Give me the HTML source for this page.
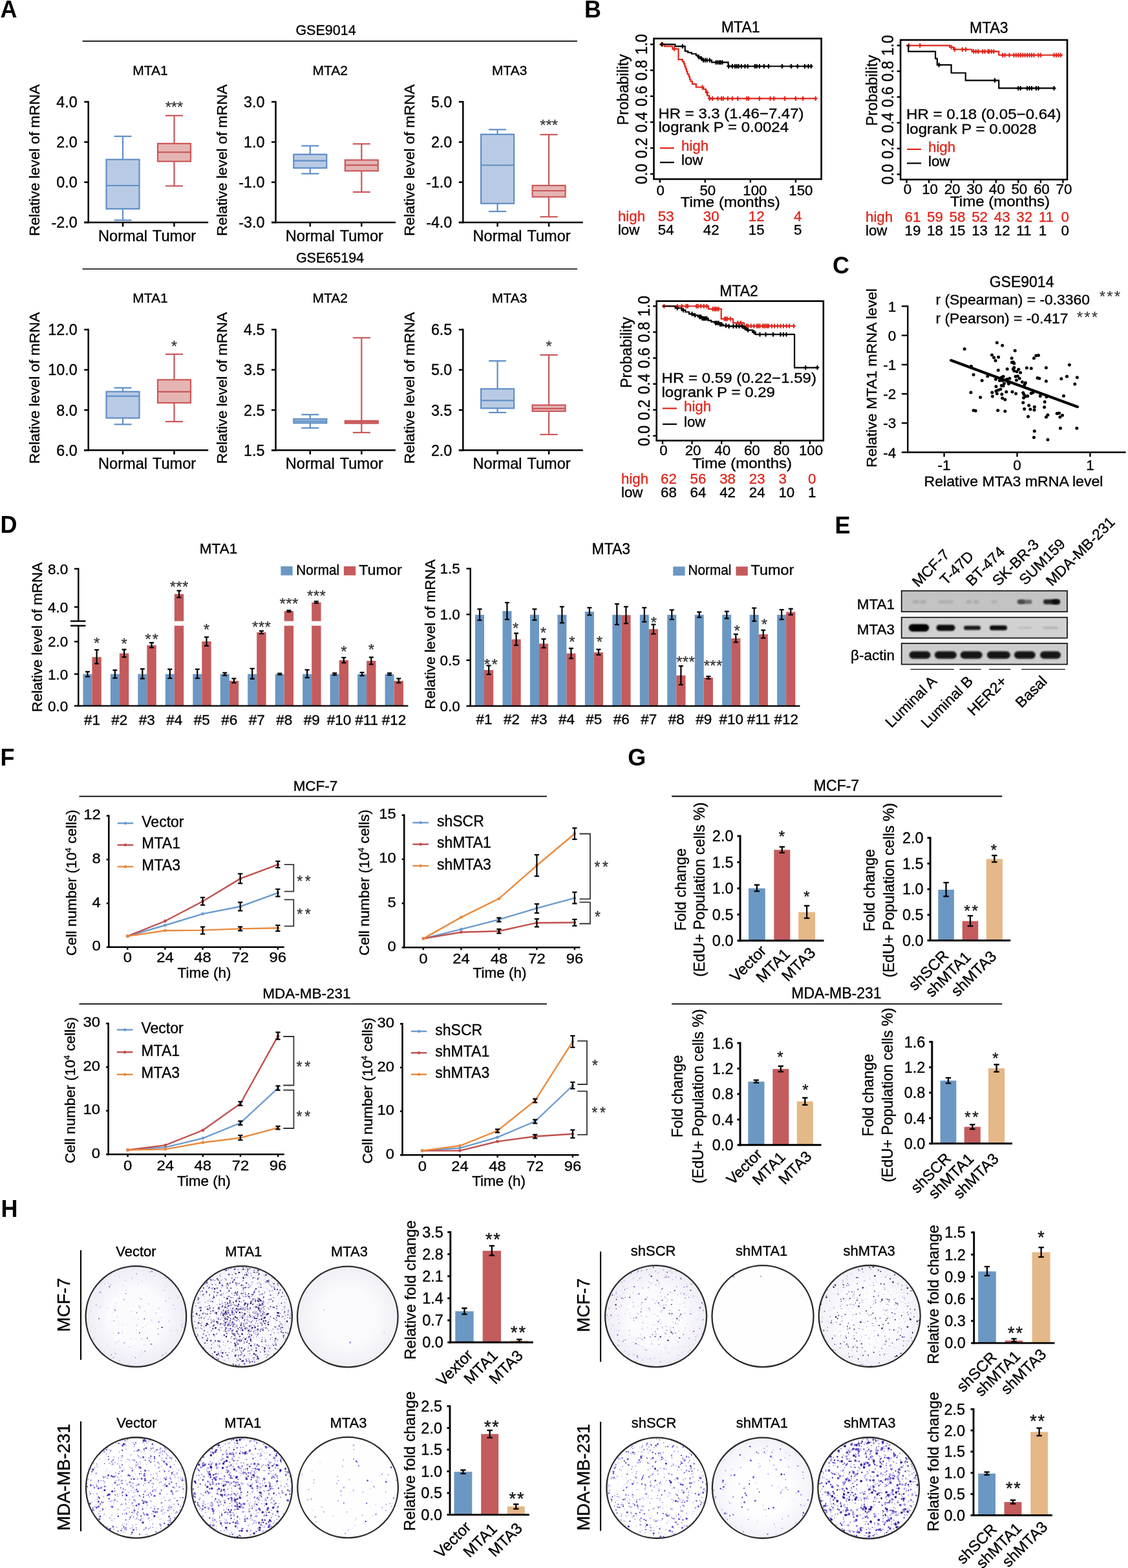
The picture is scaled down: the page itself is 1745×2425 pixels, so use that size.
<!DOCTYPE html>
<html><head><meta charset="utf-8"><title>Figure</title>
<style>html,body{margin:0;padding:0;background:#fff;overflow:hidden;}svg{display:block;}svg{font-family:"Liberation Sans",Arial,Helvetica,sans-serif;font-size:22.5px;}</style>
</head><body>
<svg width="1745" height="2425" viewBox="0 0 1745 2425">
<rect x="0" y="0" width="1745" height="2425" fill="#fff"/>
<defs><filter id="bl" x="-50%" y="-80%" width="200%" height="260%"><feGaussianBlur stdDeviation="2.2"/></filter><filter id="bl2" x="-50%" y="-80%" width="200%" height="260%"><feGaussianBlur stdDeviation="1.1"/></filter><clipPath id="cp1"><circle cx="210.4" cy="2036" r="76.6"/></clipPath><radialGradient id="rg1"><stop offset="0.55" stop-color="#fbfafd"/><stop offset="1" stop-color="#eeebf5"/></radialGradient><clipPath id="cp2"><circle cx="374.1" cy="2036" r="76.6"/></clipPath><radialGradient id="rg2"><stop offset="0.55" stop-color="#fdfdff"/><stop offset="1" stop-color="#f4f2fa"/></radialGradient><clipPath id="cp3"><circle cx="537.8" cy="2036.5" r="76.6"/></clipPath><radialGradient id="rg3"><stop offset="0.55" stop-color="#fafafc"/><stop offset="1" stop-color="#f0eff6"/></radialGradient><clipPath id="cp4"><circle cx="1014.6" cy="2035.7" r="77.3"/></clipPath><radialGradient id="rg4"><stop offset="0.55" stop-color="#fbfafd"/><stop offset="1" stop-color="#efecf6"/></radialGradient><clipPath id="cp5"><circle cx="1180" cy="2035.7" r="77.3"/></clipPath><clipPath id="cp6"><circle cx="1345.2" cy="2035.5" r="77.3"/></clipPath><radialGradient id="rg6"><stop offset="0.55" stop-color="#fcfcfe"/><stop offset="1" stop-color="#f2f0f8"/></radialGradient><clipPath id="cp7"><circle cx="210.8" cy="2300.8" r="76.6"/></clipPath><clipPath id="cp8"><circle cx="374.2" cy="2300.8" r="76.6"/></clipPath><clipPath id="cp9"><circle cx="538.1" cy="2300.5" r="76.6"/></clipPath><clipPath id="cp10"><circle cx="1016.2" cy="2301.2" r="76.6"/></clipPath><clipPath id="cp11"><circle cx="1179.7" cy="2301.2" r="76.6"/></clipPath><radialGradient id="rg11"><stop offset="0.55" stop-color="#fefeff"/><stop offset="1" stop-color="#f1f1f9"/></radialGradient><clipPath id="cp12"><circle cx="1343.7" cy="2301.3" r="77.1"/></clipPath></defs>
<text x="0.5" y="27.3" font-size="36" font-weight="bold">A</text>
<text x="504" y="54" font-size="21.5" text-anchor="middle" stroke="#000" stroke-width="0.35">GSE9014</text>
<line x1="127.5" y1="63.7" x2="893" y2="63.7" stroke="#000" stroke-width="1.7"/>
<text x="510.5" y="406.3" font-size="21.5" text-anchor="middle" stroke="#000" stroke-width="0.35">GSE65194</text>
<line x1="127.5" y1="416" x2="893" y2="416" stroke="#000" stroke-width="1.7"/>
<text x="232.4" y="115.7" font-size="21" text-anchor="middle" stroke="#000" stroke-width="0.35">MTA1</text>
<text x="61.2" y="247.75" font-size="22.8" text-anchor="middle" transform="rotate(-90 61.2 247.75)" stroke="#000" stroke-width="0.35">Relative level of mRNA</text>
<line x1="136.7" y1="156.25" x2="136.7" y2="345.25" stroke="#000" stroke-width="2.5"/>
<line x1="130.2" y1="157.5" x2="136.7" y2="157.5" stroke="#000" stroke-width="2.5"/>
<text x="119.7" y="165.9" font-size="23.3" text-anchor="end" stroke="#000" stroke-width="0.35">4.0</text>
<line x1="130.2" y1="219.67" x2="136.7" y2="219.67" stroke="#000" stroke-width="2.5"/>
<text x="119.7" y="228.07" font-size="23.3" text-anchor="end" stroke="#000" stroke-width="0.35">2.0</text>
<line x1="130.2" y1="281.83" x2="136.7" y2="281.83" stroke="#000" stroke-width="2.5"/>
<text x="119.7" y="290.23" font-size="23.3" text-anchor="end" stroke="#000" stroke-width="0.35">0.0</text>
<line x1="130.2" y1="344" x2="136.7" y2="344" stroke="#000" stroke-width="2.5"/>
<text x="119.7" y="352.4" font-size="23.3" text-anchor="end" stroke="#000" stroke-width="0.35">-2.0</text>
<line x1="130.2" y1="344" x2="322.2" y2="344" stroke="#000" stroke-width="2.5"/>
<line x1="190" y1="344" x2="190" y2="350.5" stroke="#000" stroke-width="2.5"/>
<line x1="269.5" y1="344" x2="269.5" y2="350.5" stroke="#000" stroke-width="2.5"/>
<text x="190" y="373" font-size="23.6" text-anchor="middle" stroke="#000" stroke-width="0.35">Normal</text>
<text x="269.5" y="373" font-size="23.6" text-anchor="middle" stroke="#000" stroke-width="0.35">Tumor</text>
<line x1="190" y1="210.8" x2="190" y2="246.7" stroke="#5f8fc6" stroke-width="2.2"/>
<line x1="190" y1="323" x2="190" y2="340.6" stroke="#5f8fc6" stroke-width="2.2"/>
<line x1="176.5" y1="210.8" x2="203.5" y2="210.8" stroke="#5f8fc6" stroke-width="2.2"/>
<line x1="176.5" y1="340.6" x2="203.5" y2="340.6" stroke="#5f8fc6" stroke-width="2.2"/>
<rect x="164.5" y="246.7" width="51" height="76.3" fill="#b9cbe4" stroke="#5f8fc6" stroke-width="2.2"/>
<line x1="164.5" y1="287" x2="215.5" y2="287" stroke="#5f8fc6" stroke-width="2.2"/>
<line x1="269.5" y1="178.8" x2="269.5" y2="222" stroke="#c9585a" stroke-width="2.2"/>
<line x1="269.5" y1="249.6" x2="269.5" y2="287.6" stroke="#c9585a" stroke-width="2.2"/>
<line x1="256" y1="178.8" x2="283" y2="178.8" stroke="#c9585a" stroke-width="2.2"/>
<line x1="256" y1="287.6" x2="283" y2="287.6" stroke="#c9585a" stroke-width="2.2"/>
<rect x="244" y="222" width="51" height="27.6" fill="#e5b5b3" stroke="#c9585a" stroke-width="2.2"/>
<line x1="244" y1="235.3" x2="295" y2="235.3" stroke="#c9585a" stroke-width="2.2"/>
<text x="260.3" y="173.56" font-size="24" text-anchor="middle" fill="#333" stroke="#333" stroke-width="0.2">*</text>
<text x="269.5" y="173.56" font-size="24" text-anchor="middle" fill="#333" stroke="#333" stroke-width="0.2">*</text>
<text x="278.7" y="173.56" font-size="24" text-anchor="middle" fill="#333" stroke="#333" stroke-width="0.2">*</text>
<text x="510.8" y="115.7" font-size="21" text-anchor="middle" stroke="#000" stroke-width="0.35">MTA2</text>
<text x="351" y="247.75" font-size="22.8" text-anchor="middle" transform="rotate(-90 351 247.75)" stroke="#000" stroke-width="0.35">Relative level of mRNA</text>
<line x1="426.5" y1="156.25" x2="426.5" y2="345.25" stroke="#000" stroke-width="2.5"/>
<line x1="420" y1="157.5" x2="426.5" y2="157.5" stroke="#000" stroke-width="2.5"/>
<text x="409.5" y="165.9" font-size="23.3" text-anchor="end" stroke="#000" stroke-width="0.35">3.0</text>
<line x1="420" y1="219.67" x2="426.5" y2="219.67" stroke="#000" stroke-width="2.5"/>
<text x="409.5" y="228.07" font-size="23.3" text-anchor="end" stroke="#000" stroke-width="0.35">1.0</text>
<line x1="420" y1="281.83" x2="426.5" y2="281.83" stroke="#000" stroke-width="2.5"/>
<text x="409.5" y="290.23" font-size="23.3" text-anchor="end" stroke="#000" stroke-width="0.35">-1.0</text>
<line x1="420" y1="344" x2="426.5" y2="344" stroke="#000" stroke-width="2.5"/>
<text x="409.5" y="352.4" font-size="23.3" text-anchor="end" stroke="#000" stroke-width="0.35">-3.0</text>
<line x1="420" y1="344" x2="612" y2="344" stroke="#000" stroke-width="2.5"/>
<line x1="479.8" y1="344" x2="479.8" y2="350.5" stroke="#000" stroke-width="2.5"/>
<line x1="559.3" y1="344" x2="559.3" y2="350.5" stroke="#000" stroke-width="2.5"/>
<text x="479.8" y="373" font-size="23.6" text-anchor="middle" stroke="#000" stroke-width="0.35">Normal</text>
<text x="559.3" y="373" font-size="23.6" text-anchor="middle" stroke="#000" stroke-width="0.35">Tumor</text>
<line x1="479.8" y1="225.5" x2="479.8" y2="238.8" stroke="#5f8fc6" stroke-width="2.2"/>
<line x1="479.8" y1="259.8" x2="479.8" y2="268.6" stroke="#5f8fc6" stroke-width="2.2"/>
<line x1="466.3" y1="225.5" x2="493.3" y2="225.5" stroke="#5f8fc6" stroke-width="2.2"/>
<line x1="466.3" y1="268.6" x2="493.3" y2="268.6" stroke="#5f8fc6" stroke-width="2.2"/>
<rect x="454.3" y="238.8" width="51" height="21" fill="#b9cbe4" stroke="#5f8fc6" stroke-width="2.2"/>
<line x1="454.3" y1="248.6" x2="505.3" y2="248.6" stroke="#5f8fc6" stroke-width="2.2"/>
<line x1="559.3" y1="222.5" x2="559.3" y2="247.5" stroke="#c9585a" stroke-width="2.2"/>
<line x1="559.3" y1="264.3" x2="559.3" y2="297" stroke="#c9585a" stroke-width="2.2"/>
<line x1="545.8" y1="222.5" x2="572.8" y2="222.5" stroke="#c9585a" stroke-width="2.2"/>
<line x1="545.8" y1="297" x2="572.8" y2="297" stroke="#c9585a" stroke-width="2.2"/>
<rect x="533.8" y="247.5" width="51" height="16.8" fill="#e5b5b3" stroke="#c9585a" stroke-width="2.2"/>
<line x1="533.8" y1="255.3" x2="584.8" y2="255.3" stroke="#c9585a" stroke-width="2.2"/>
<text x="788.2" y="115.7" font-size="21" text-anchor="middle" stroke="#000" stroke-width="0.35">MTA3</text>
<text x="640.8" y="247.75" font-size="22.8" text-anchor="middle" transform="rotate(-90 640.8 247.75)" stroke="#000" stroke-width="0.35">Relative level of mRNA</text>
<line x1="716.3" y1="156.25" x2="716.3" y2="345.25" stroke="#000" stroke-width="2.5"/>
<line x1="709.8" y1="157.5" x2="716.3" y2="157.5" stroke="#000" stroke-width="2.5"/>
<text x="699.3" y="165.9" font-size="23.3" text-anchor="end" stroke="#000" stroke-width="0.35">5.0</text>
<line x1="709.8" y1="219.67" x2="716.3" y2="219.67" stroke="#000" stroke-width="2.5"/>
<text x="699.3" y="228.07" font-size="23.3" text-anchor="end" stroke="#000" stroke-width="0.35">2.0</text>
<line x1="709.8" y1="281.83" x2="716.3" y2="281.83" stroke="#000" stroke-width="2.5"/>
<text x="699.3" y="290.23" font-size="23.3" text-anchor="end" stroke="#000" stroke-width="0.35">-1.0</text>
<line x1="709.8" y1="344" x2="716.3" y2="344" stroke="#000" stroke-width="2.5"/>
<text x="699.3" y="352.4" font-size="23.3" text-anchor="end" stroke="#000" stroke-width="0.35">-4.0</text>
<line x1="709.8" y1="344" x2="901.8" y2="344" stroke="#000" stroke-width="2.5"/>
<line x1="769.6" y1="344" x2="769.6" y2="350.5" stroke="#000" stroke-width="2.5"/>
<line x1="849.1" y1="344" x2="849.1" y2="350.5" stroke="#000" stroke-width="2.5"/>
<text x="769.6" y="373" font-size="23.6" text-anchor="middle" stroke="#000" stroke-width="0.35">Normal</text>
<text x="849.1" y="373" font-size="23.6" text-anchor="middle" stroke="#000" stroke-width="0.35">Tumor</text>
<line x1="769.6" y1="200.4" x2="769.6" y2="207.8" stroke="#5f8fc6" stroke-width="2.2"/>
<line x1="769.6" y1="314.7" x2="769.6" y2="327" stroke="#5f8fc6" stroke-width="2.2"/>
<line x1="756.1" y1="200.4" x2="783.1" y2="200.4" stroke="#5f8fc6" stroke-width="2.2"/>
<line x1="756.1" y1="327" x2="783.1" y2="327" stroke="#5f8fc6" stroke-width="2.2"/>
<rect x="744.1" y="207.8" width="51" height="106.9" fill="#b9cbe4" stroke="#5f8fc6" stroke-width="2.2"/>
<line x1="744.1" y1="255.5" x2="795.1" y2="255.5" stroke="#5f8fc6" stroke-width="2.2"/>
<line x1="849.1" y1="208.2" x2="849.1" y2="286.9" stroke="#c9585a" stroke-width="2.2"/>
<line x1="849.1" y1="304.5" x2="849.1" y2="335.3" stroke="#c9585a" stroke-width="2.2"/>
<line x1="835.6" y1="208.2" x2="862.6" y2="208.2" stroke="#c9585a" stroke-width="2.2"/>
<line x1="835.6" y1="335.3" x2="862.6" y2="335.3" stroke="#c9585a" stroke-width="2.2"/>
<rect x="823.6" y="286.9" width="51" height="17.6" fill="#e5b5b3" stroke="#c9585a" stroke-width="2.2"/>
<line x1="823.6" y1="295" x2="874.6" y2="295" stroke="#c9585a" stroke-width="2.2"/>
<text x="839.9" y="201.56" font-size="24" text-anchor="middle" fill="#333" stroke="#333" stroke-width="0.2">*</text>
<text x="849.1" y="201.56" font-size="24" text-anchor="middle" fill="#333" stroke="#333" stroke-width="0.2">*</text>
<text x="858.3" y="201.56" font-size="24" text-anchor="middle" fill="#333" stroke="#333" stroke-width="0.2">*</text>
<text x="232.4" y="468" font-size="21" text-anchor="middle" stroke="#000" stroke-width="0.35">MTA1</text>
<text x="61.2" y="600.05" font-size="22.8" text-anchor="middle" transform="rotate(-90 61.2 600.05)" stroke="#000" stroke-width="0.35">Relative level of mRNA</text>
<line x1="136.7" y1="508.55" x2="136.7" y2="697.55" stroke="#000" stroke-width="2.5"/>
<line x1="130.2" y1="509.8" x2="136.7" y2="509.8" stroke="#000" stroke-width="2.5"/>
<text x="119.7" y="518.2" font-size="23.3" text-anchor="end" stroke="#000" stroke-width="0.35">12.0</text>
<line x1="130.2" y1="571.97" x2="136.7" y2="571.97" stroke="#000" stroke-width="2.5"/>
<text x="119.7" y="580.37" font-size="23.3" text-anchor="end" stroke="#000" stroke-width="0.35">10.0</text>
<line x1="130.2" y1="634.13" x2="136.7" y2="634.13" stroke="#000" stroke-width="2.5"/>
<text x="119.7" y="642.53" font-size="23.3" text-anchor="end" stroke="#000" stroke-width="0.35">8.0</text>
<line x1="130.2" y1="696.3" x2="136.7" y2="696.3" stroke="#000" stroke-width="2.5"/>
<text x="119.7" y="704.7" font-size="23.3" text-anchor="end" stroke="#000" stroke-width="0.35">6.0</text>
<line x1="130.2" y1="696.3" x2="322.2" y2="696.3" stroke="#000" stroke-width="2.5"/>
<line x1="190" y1="696.3" x2="190" y2="702.8" stroke="#000" stroke-width="2.5"/>
<line x1="269.5" y1="696.3" x2="269.5" y2="702.8" stroke="#000" stroke-width="2.5"/>
<text x="190" y="725.3" font-size="23.6" text-anchor="middle" stroke="#000" stroke-width="0.35">Normal</text>
<text x="269.5" y="725.3" font-size="23.6" text-anchor="middle" stroke="#000" stroke-width="0.35">Tumor</text>
<line x1="190" y1="599.8" x2="190" y2="605.7" stroke="#5f8fc6" stroke-width="2.2"/>
<line x1="190" y1="646.5" x2="190" y2="656.3" stroke="#5f8fc6" stroke-width="2.2"/>
<line x1="176.5" y1="599.8" x2="203.5" y2="599.8" stroke="#5f8fc6" stroke-width="2.2"/>
<line x1="176.5" y1="656.3" x2="203.5" y2="656.3" stroke="#5f8fc6" stroke-width="2.2"/>
<rect x="164.5" y="605.7" width="51" height="40.8" fill="#b9cbe4" stroke="#5f8fc6" stroke-width="2.2"/>
<line x1="164.5" y1="612.7" x2="215.5" y2="612.7" stroke="#5f8fc6" stroke-width="2.2"/>
<line x1="269.5" y1="547.8" x2="269.5" y2="587.3" stroke="#c9585a" stroke-width="2.2"/>
<line x1="269.5" y1="623" x2="269.5" y2="652" stroke="#c9585a" stroke-width="2.2"/>
<line x1="256" y1="547.8" x2="283" y2="547.8" stroke="#c9585a" stroke-width="2.2"/>
<line x1="256" y1="652" x2="283" y2="652" stroke="#c9585a" stroke-width="2.2"/>
<rect x="244" y="587.3" width="51" height="35.7" fill="#e5b5b3" stroke="#c9585a" stroke-width="2.2"/>
<line x1="244" y1="605.9" x2="295" y2="605.9" stroke="#c9585a" stroke-width="2.2"/>
<text x="269.5" y="543.56" font-size="24" text-anchor="middle" fill="#333" stroke="#333" stroke-width="0.2">*</text>
<text x="510.8" y="468" font-size="21" text-anchor="middle" stroke="#000" stroke-width="0.35">MTA2</text>
<text x="351" y="600.05" font-size="22.8" text-anchor="middle" transform="rotate(-90 351 600.05)" stroke="#000" stroke-width="0.35">Relative level of mRNA</text>
<line x1="426.5" y1="508.55" x2="426.5" y2="697.55" stroke="#000" stroke-width="2.5"/>
<line x1="420" y1="509.8" x2="426.5" y2="509.8" stroke="#000" stroke-width="2.5"/>
<text x="409.5" y="518.2" font-size="23.3" text-anchor="end" stroke="#000" stroke-width="0.35">4.5</text>
<line x1="420" y1="571.97" x2="426.5" y2="571.97" stroke="#000" stroke-width="2.5"/>
<text x="409.5" y="580.37" font-size="23.3" text-anchor="end" stroke="#000" stroke-width="0.35">3.5</text>
<line x1="420" y1="634.13" x2="426.5" y2="634.13" stroke="#000" stroke-width="2.5"/>
<text x="409.5" y="642.53" font-size="23.3" text-anchor="end" stroke="#000" stroke-width="0.35">2.5</text>
<line x1="420" y1="696.3" x2="426.5" y2="696.3" stroke="#000" stroke-width="2.5"/>
<text x="409.5" y="704.7" font-size="23.3" text-anchor="end" stroke="#000" stroke-width="0.35">1.5</text>
<line x1="420" y1="696.3" x2="612" y2="696.3" stroke="#000" stroke-width="2.5"/>
<line x1="479.8" y1="696.3" x2="479.8" y2="702.8" stroke="#000" stroke-width="2.5"/>
<line x1="559.3" y1="696.3" x2="559.3" y2="702.8" stroke="#000" stroke-width="2.5"/>
<text x="479.8" y="725.3" font-size="23.6" text-anchor="middle" stroke="#000" stroke-width="0.35">Normal</text>
<text x="559.3" y="725.3" font-size="23.6" text-anchor="middle" stroke="#000" stroke-width="0.35">Tumor</text>
<line x1="479.8" y1="641.2" x2="479.8" y2="648" stroke="#5f8fc6" stroke-width="2.2"/>
<line x1="479.8" y1="654.3" x2="479.8" y2="661.8" stroke="#5f8fc6" stroke-width="2.2"/>
<line x1="466.3" y1="641.2" x2="493.3" y2="641.2" stroke="#5f8fc6" stroke-width="2.2"/>
<line x1="466.3" y1="661.8" x2="493.3" y2="661.8" stroke="#5f8fc6" stroke-width="2.2"/>
<rect x="454.3" y="648" width="51" height="6.3" fill="#b9cbe4" stroke="#5f8fc6" stroke-width="2.2"/>
<line x1="454.3" y1="651.4" x2="505.3" y2="651.4" stroke="#5f8fc6" stroke-width="2.2"/>
<line x1="559.3" y1="522.4" x2="559.3" y2="650.8" stroke="#c9585a" stroke-width="2.2"/>
<line x1="559.3" y1="654.7" x2="559.3" y2="669" stroke="#c9585a" stroke-width="2.2"/>
<line x1="545.8" y1="522.4" x2="572.8" y2="522.4" stroke="#c9585a" stroke-width="2.2"/>
<line x1="545.8" y1="669" x2="572.8" y2="669" stroke="#c9585a" stroke-width="2.2"/>
<rect x="533.8" y="650.8" width="51" height="3.9" fill="#e5b5b3" stroke="#c9585a" stroke-width="2.2"/>
<line x1="533.8" y1="652.7" x2="584.8" y2="652.7" stroke="#c9585a" stroke-width="2.2"/>
<text x="788.2" y="468" font-size="21" text-anchor="middle" stroke="#000" stroke-width="0.35">MTA3</text>
<text x="640.8" y="600.05" font-size="22.8" text-anchor="middle" transform="rotate(-90 640.8 600.05)" stroke="#000" stroke-width="0.35">Relative level of mRNA</text>
<line x1="716.3" y1="508.55" x2="716.3" y2="697.55" stroke="#000" stroke-width="2.5"/>
<line x1="709.8" y1="509.8" x2="716.3" y2="509.8" stroke="#000" stroke-width="2.5"/>
<text x="699.3" y="518.2" font-size="23.3" text-anchor="end" stroke="#000" stroke-width="0.35">6.5</text>
<line x1="709.8" y1="571.97" x2="716.3" y2="571.97" stroke="#000" stroke-width="2.5"/>
<text x="699.3" y="580.37" font-size="23.3" text-anchor="end" stroke="#000" stroke-width="0.35">5.0</text>
<line x1="709.8" y1="634.13" x2="716.3" y2="634.13" stroke="#000" stroke-width="2.5"/>
<text x="699.3" y="642.53" font-size="23.3" text-anchor="end" stroke="#000" stroke-width="0.35">3.5</text>
<line x1="709.8" y1="696.3" x2="716.3" y2="696.3" stroke="#000" stroke-width="2.5"/>
<text x="699.3" y="704.7" font-size="23.3" text-anchor="end" stroke="#000" stroke-width="0.35">2.0</text>
<line x1="709.8" y1="696.3" x2="901.8" y2="696.3" stroke="#000" stroke-width="2.5"/>
<line x1="769.6" y1="696.3" x2="769.6" y2="702.8" stroke="#000" stroke-width="2.5"/>
<line x1="849.1" y1="696.3" x2="849.1" y2="702.8" stroke="#000" stroke-width="2.5"/>
<text x="769.6" y="725.3" font-size="23.6" text-anchor="middle" stroke="#000" stroke-width="0.35">Normal</text>
<text x="849.1" y="725.3" font-size="23.6" text-anchor="middle" stroke="#000" stroke-width="0.35">Tumor</text>
<line x1="769.6" y1="558.2" x2="769.6" y2="601.4" stroke="#5f8fc6" stroke-width="2.2"/>
<line x1="769.6" y1="631.4" x2="769.6" y2="638" stroke="#5f8fc6" stroke-width="2.2"/>
<line x1="756.1" y1="558.2" x2="783.1" y2="558.2" stroke="#5f8fc6" stroke-width="2.2"/>
<line x1="756.1" y1="638" x2="783.1" y2="638" stroke="#5f8fc6" stroke-width="2.2"/>
<rect x="744.1" y="601.4" width="51" height="30" fill="#b9cbe4" stroke="#5f8fc6" stroke-width="2.2"/>
<line x1="744.1" y1="619.4" x2="795.1" y2="619.4" stroke="#5f8fc6" stroke-width="2.2"/>
<line x1="849.1" y1="549" x2="849.1" y2="626.5" stroke="#c9585a" stroke-width="2.2"/>
<line x1="849.1" y1="636" x2="849.1" y2="672" stroke="#c9585a" stroke-width="2.2"/>
<line x1="835.6" y1="549" x2="862.6" y2="549" stroke="#c9585a" stroke-width="2.2"/>
<line x1="835.6" y1="672" x2="862.6" y2="672" stroke="#c9585a" stroke-width="2.2"/>
<rect x="823.6" y="626.5" width="51" height="9.5" fill="#e5b5b3" stroke="#c9585a" stroke-width="2.2"/>
<line x1="823.6" y1="631.8" x2="874.6" y2="631.8" stroke="#c9585a" stroke-width="2.2"/>
<text x="849.1" y="543.56" font-size="24" text-anchor="middle" fill="#333" stroke="#333" stroke-width="0.2">*</text>
<text x="904" y="27" font-size="36" font-weight="bold">B</text>
<path d="M1020.8 68.6 L1027.94 68.6 L1027.94 71.61 L1040.41 71.61 L1040.41 75.62 L1049.51 75.62 L1049.51 92.06 L1055.82 92.06 L1055.82 95.07 L1057.92 95.07 L1057.92 98.68 L1059.32 98.68 L1059.32 102.69 L1060.72 102.69 L1060.72 106.69 L1062.12 106.69 L1062.12 110.7 L1063.52 110.7 L1063.52 114.72 L1065.62 114.72 L1065.62 118.72 L1067.02 118.72 L1067.02 122.74 L1068.42 122.74 L1068.42 125.74 L1070.94 125.74 L1070.94 129.95 L1076.83 129.95 L1076.83 134.76 L1088.03 134.76 L1088.03 137.97 L1091.95 137.97 L1091.95 142.99 L1094.34 142.99 L1094.34 147.8 L1097 147.8 L1097 152.41 L1263.12 152.41 L1263.12 152.41" fill="none" stroke="#e0251b" stroke-width="2.2" stroke-linejoin="miter"/>
<line x1="1025" y1="65.1" x2="1025" y2="72.1" stroke="#e0251b" stroke-width="2"/>
<line x1="1022" y1="68.6" x2="1028" y2="68.6" stroke="#e0251b" stroke-width="2"/>
<line x1="1043.21" y1="72.12" x2="1043.21" y2="79.12" stroke="#e0251b" stroke-width="2"/>
<line x1="1040.21" y1="75.62" x2="1046.21" y2="75.62" stroke="#e0251b" stroke-width="2"/>
<line x1="1086.63" y1="131.26" x2="1086.63" y2="138.26" stroke="#e0251b" stroke-width="2"/>
<line x1="1083.63" y1="134.76" x2="1089.63" y2="134.76" stroke="#e0251b" stroke-width="2"/>
<line x1="1093.63" y1="139.49" x2="1093.63" y2="146.49" stroke="#e0251b" stroke-width="2"/>
<line x1="1090.63" y1="142.99" x2="1096.63" y2="142.99" stroke="#e0251b" stroke-width="2"/>
<line x1="1097.84" y1="148.91" x2="1097.84" y2="155.91" stroke="#e0251b" stroke-width="2"/>
<line x1="1094.84" y1="152.41" x2="1100.84" y2="152.41" stroke="#e0251b" stroke-width="2"/>
<line x1="1102.04" y1="148.91" x2="1102.04" y2="155.91" stroke="#e0251b" stroke-width="2"/>
<line x1="1099.04" y1="152.41" x2="1105.04" y2="152.41" stroke="#e0251b" stroke-width="2"/>
<line x1="1110.44" y1="148.91" x2="1110.44" y2="155.91" stroke="#e0251b" stroke-width="2"/>
<line x1="1107.44" y1="152.41" x2="1113.44" y2="152.41" stroke="#e0251b" stroke-width="2"/>
<line x1="1116.05" y1="148.91" x2="1116.05" y2="155.91" stroke="#e0251b" stroke-width="2"/>
<line x1="1113.05" y1="152.41" x2="1119.05" y2="152.41" stroke="#e0251b" stroke-width="2"/>
<line x1="1118.85" y1="148.91" x2="1118.85" y2="155.91" stroke="#e0251b" stroke-width="2"/>
<line x1="1115.85" y1="152.41" x2="1121.85" y2="152.41" stroke="#e0251b" stroke-width="2"/>
<line x1="1125.85" y1="148.91" x2="1125.85" y2="155.91" stroke="#e0251b" stroke-width="2"/>
<line x1="1122.85" y1="152.41" x2="1128.85" y2="152.41" stroke="#e0251b" stroke-width="2"/>
<line x1="1132.85" y1="148.91" x2="1132.85" y2="155.91" stroke="#e0251b" stroke-width="2"/>
<line x1="1129.85" y1="152.41" x2="1135.85" y2="152.41" stroke="#e0251b" stroke-width="2"/>
<line x1="1141.26" y1="148.91" x2="1141.26" y2="155.91" stroke="#e0251b" stroke-width="2"/>
<line x1="1138.26" y1="152.41" x2="1144.26" y2="152.41" stroke="#e0251b" stroke-width="2"/>
<line x1="1155.26" y1="148.91" x2="1155.26" y2="155.91" stroke="#e0251b" stroke-width="2"/>
<line x1="1152.26" y1="152.41" x2="1158.26" y2="152.41" stroke="#e0251b" stroke-width="2"/>
<line x1="1158.07" y1="148.91" x2="1158.07" y2="155.91" stroke="#e0251b" stroke-width="2"/>
<line x1="1155.07" y1="152.41" x2="1161.07" y2="152.41" stroke="#e0251b" stroke-width="2"/>
<line x1="1174.87" y1="148.91" x2="1174.87" y2="155.91" stroke="#e0251b" stroke-width="2"/>
<line x1="1171.87" y1="152.41" x2="1177.87" y2="152.41" stroke="#e0251b" stroke-width="2"/>
<line x1="1191.68" y1="148.91" x2="1191.68" y2="155.91" stroke="#e0251b" stroke-width="2"/>
<line x1="1188.68" y1="152.41" x2="1194.68" y2="152.41" stroke="#e0251b" stroke-width="2"/>
<line x1="1197.28" y1="148.91" x2="1197.28" y2="155.91" stroke="#e0251b" stroke-width="2"/>
<line x1="1194.28" y1="152.41" x2="1200.28" y2="152.41" stroke="#e0251b" stroke-width="2"/>
<line x1="1214.09" y1="148.91" x2="1214.09" y2="155.91" stroke="#e0251b" stroke-width="2"/>
<line x1="1211.09" y1="152.41" x2="1217.09" y2="152.41" stroke="#e0251b" stroke-width="2"/>
<line x1="1230.9" y1="148.91" x2="1230.9" y2="155.91" stroke="#e0251b" stroke-width="2"/>
<line x1="1227.9" y1="152.41" x2="1233.9" y2="152.41" stroke="#e0251b" stroke-width="2"/>
<line x1="1242.11" y1="148.91" x2="1242.11" y2="155.91" stroke="#e0251b" stroke-width="2"/>
<line x1="1239.11" y1="152.41" x2="1245.11" y2="152.41" stroke="#e0251b" stroke-width="2"/>
<line x1="1261.71" y1="148.91" x2="1261.71" y2="155.91" stroke="#e0251b" stroke-width="2"/>
<line x1="1258.71" y1="152.41" x2="1264.71" y2="152.41" stroke="#e0251b" stroke-width="2"/>
<path d="M1020.8 68.6 L1044.33 68.6 L1044.33 71.61 L1059.74 71.61 L1059.74 79.03 L1064.22 79.03 L1064.22 81.23 L1069.82 81.23 L1069.82 83.24 L1076.83 83.24 L1076.83 85.64 L1080.33 85.64 L1080.33 88.05 L1083.83 88.05 L1083.83 90.66 L1087.19 90.66 L1087.19 93.06 L1100.92 93.06 L1100.92 96.47 L1126.55 96.47 L1126.55 102.48 L1256.11 102.48 L1256.11 102.48" fill="none" stroke="#000" stroke-width="2.2" stroke-linejoin="miter"/>
<line x1="1023.6" y1="65.1" x2="1023.6" y2="72.1" stroke="#000" stroke-width="2"/>
<line x1="1020.6" y1="68.6" x2="1026.6" y2="68.6" stroke="#000" stroke-width="2"/>
<line x1="1055.82" y1="68.11" x2="1055.82" y2="75.11" stroke="#000" stroke-width="2"/>
<line x1="1052.82" y1="71.61" x2="1058.82" y2="71.61" stroke="#000" stroke-width="2"/>
<line x1="1081.03" y1="84.55" x2="1081.03" y2="91.55" stroke="#000" stroke-width="2"/>
<line x1="1078.03" y1="88.05" x2="1084.03" y2="88.05" stroke="#000" stroke-width="2"/>
<line x1="1085.23" y1="87.16" x2="1085.23" y2="94.16" stroke="#000" stroke-width="2"/>
<line x1="1082.23" y1="90.66" x2="1088.23" y2="90.66" stroke="#000" stroke-width="2"/>
<line x1="1088.03" y1="89.56" x2="1088.03" y2="96.56" stroke="#000" stroke-width="2"/>
<line x1="1085.03" y1="93.06" x2="1091.03" y2="93.06" stroke="#000" stroke-width="2"/>
<line x1="1090.83" y1="89.56" x2="1090.83" y2="96.56" stroke="#000" stroke-width="2"/>
<line x1="1087.83" y1="93.06" x2="1093.83" y2="93.06" stroke="#000" stroke-width="2"/>
<line x1="1093.63" y1="89.56" x2="1093.63" y2="96.56" stroke="#000" stroke-width="2"/>
<line x1="1090.63" y1="93.06" x2="1096.63" y2="93.06" stroke="#000" stroke-width="2"/>
<line x1="1097.84" y1="89.56" x2="1097.84" y2="96.56" stroke="#000" stroke-width="2"/>
<line x1="1094.84" y1="93.06" x2="1100.84" y2="93.06" stroke="#000" stroke-width="2"/>
<line x1="1107.64" y1="92.97" x2="1107.64" y2="99.97" stroke="#000" stroke-width="2"/>
<line x1="1104.64" y1="96.47" x2="1110.64" y2="96.47" stroke="#000" stroke-width="2"/>
<line x1="1110.44" y1="92.97" x2="1110.44" y2="99.97" stroke="#000" stroke-width="2"/>
<line x1="1107.44" y1="96.47" x2="1113.44" y2="96.47" stroke="#000" stroke-width="2"/>
<line x1="1113.24" y1="92.97" x2="1113.24" y2="99.97" stroke="#000" stroke-width="2"/>
<line x1="1110.24" y1="96.47" x2="1116.24" y2="96.47" stroke="#000" stroke-width="2"/>
<line x1="1114.64" y1="92.97" x2="1114.64" y2="99.97" stroke="#000" stroke-width="2"/>
<line x1="1111.64" y1="96.47" x2="1117.64" y2="96.47" stroke="#000" stroke-width="2"/>
<line x1="1117.45" y1="92.97" x2="1117.45" y2="99.97" stroke="#000" stroke-width="2"/>
<line x1="1114.45" y1="96.47" x2="1120.45" y2="96.47" stroke="#000" stroke-width="2"/>
<line x1="1127.25" y1="98.98" x2="1127.25" y2="105.98" stroke="#000" stroke-width="2"/>
<line x1="1124.25" y1="102.48" x2="1130.25" y2="102.48" stroke="#000" stroke-width="2"/>
<line x1="1132.85" y1="98.98" x2="1132.85" y2="105.98" stroke="#000" stroke-width="2"/>
<line x1="1129.85" y1="102.48" x2="1135.85" y2="102.48" stroke="#000" stroke-width="2"/>
<line x1="1137.06" y1="98.98" x2="1137.06" y2="105.98" stroke="#000" stroke-width="2"/>
<line x1="1134.06" y1="102.48" x2="1140.06" y2="102.48" stroke="#000" stroke-width="2"/>
<line x1="1139.86" y1="98.98" x2="1139.86" y2="105.98" stroke="#000" stroke-width="2"/>
<line x1="1136.86" y1="102.48" x2="1142.86" y2="102.48" stroke="#000" stroke-width="2"/>
<line x1="1142.66" y1="98.98" x2="1142.66" y2="105.98" stroke="#000" stroke-width="2"/>
<line x1="1139.66" y1="102.48" x2="1145.66" y2="102.48" stroke="#000" stroke-width="2"/>
<line x1="1146.86" y1="98.98" x2="1146.86" y2="105.98" stroke="#000" stroke-width="2"/>
<line x1="1143.86" y1="102.48" x2="1149.86" y2="102.48" stroke="#000" stroke-width="2"/>
<line x1="1152.46" y1="98.98" x2="1152.46" y2="105.98" stroke="#000" stroke-width="2"/>
<line x1="1149.46" y1="102.48" x2="1155.46" y2="102.48" stroke="#000" stroke-width="2"/>
<line x1="1156.66" y1="98.98" x2="1156.66" y2="105.98" stroke="#000" stroke-width="2"/>
<line x1="1153.66" y1="102.48" x2="1159.66" y2="102.48" stroke="#000" stroke-width="2"/>
<line x1="1167.87" y1="98.98" x2="1167.87" y2="105.98" stroke="#000" stroke-width="2"/>
<line x1="1164.87" y1="102.48" x2="1170.87" y2="102.48" stroke="#000" stroke-width="2"/>
<line x1="1170.67" y1="98.98" x2="1170.67" y2="105.98" stroke="#000" stroke-width="2"/>
<line x1="1167.67" y1="102.48" x2="1173.67" y2="102.48" stroke="#000" stroke-width="2"/>
<line x1="1174.87" y1="98.98" x2="1174.87" y2="105.98" stroke="#000" stroke-width="2"/>
<line x1="1171.87" y1="102.48" x2="1177.87" y2="102.48" stroke="#000" stroke-width="2"/>
<line x1="1181.88" y1="98.98" x2="1181.88" y2="105.98" stroke="#000" stroke-width="2"/>
<line x1="1178.88" y1="102.48" x2="1184.88" y2="102.48" stroke="#000" stroke-width="2"/>
<line x1="1188.88" y1="98.98" x2="1188.88" y2="105.98" stroke="#000" stroke-width="2"/>
<line x1="1185.88" y1="102.48" x2="1191.88" y2="102.48" stroke="#000" stroke-width="2"/>
<line x1="1209.89" y1="98.98" x2="1209.89" y2="105.98" stroke="#000" stroke-width="2"/>
<line x1="1206.89" y1="102.48" x2="1212.89" y2="102.48" stroke="#000" stroke-width="2"/>
<line x1="1223.9" y1="98.98" x2="1223.9" y2="105.98" stroke="#000" stroke-width="2"/>
<line x1="1220.9" y1="102.48" x2="1226.9" y2="102.48" stroke="#000" stroke-width="2"/>
<line x1="1233.7" y1="98.98" x2="1233.7" y2="105.98" stroke="#000" stroke-width="2"/>
<line x1="1230.7" y1="102.48" x2="1236.7" y2="102.48" stroke="#000" stroke-width="2"/>
<line x1="1244.91" y1="98.98" x2="1244.91" y2="105.98" stroke="#000" stroke-width="2"/>
<line x1="1241.91" y1="102.48" x2="1247.91" y2="102.48" stroke="#000" stroke-width="2"/>
<line x1="1250.51" y1="98.98" x2="1250.51" y2="105.98" stroke="#000" stroke-width="2"/>
<line x1="1247.51" y1="102.48" x2="1253.51" y2="102.48" stroke="#000" stroke-width="2"/>
<line x1="1254.71" y1="98.98" x2="1254.71" y2="105.98" stroke="#000" stroke-width="2"/>
<line x1="1251.71" y1="102.48" x2="1257.71" y2="102.48" stroke="#000" stroke-width="2"/>
<rect x="1011.5" y="59.6" width="259.1" height="217.4" fill="none" stroke="#000" stroke-width="2.6"/>
<line x1="1006" y1="269.1" x2="1011.5" y2="269.1" stroke="#000" stroke-width="2.4"/>
<text x="0" y="0" font-size="23" transform="translate(1000.5 269.1) scale(1.14 1) rotate(-90)" text-anchor="middle" stroke="#000" stroke-width="0.35">0.0</text>
<line x1="1006" y1="229" x2="1011.5" y2="229" stroke="#000" stroke-width="2.4"/>
<text x="0" y="0" font-size="23" transform="translate(1000.5 229) scale(1.14 1) rotate(-90)" text-anchor="middle" stroke="#000" stroke-width="0.35">0.2</text>
<line x1="1006" y1="188.9" x2="1011.5" y2="188.9" stroke="#000" stroke-width="2.4"/>
<text x="0" y="0" font-size="23" transform="translate(1000.5 188.9) scale(1.14 1) rotate(-90)" text-anchor="middle" stroke="#000" stroke-width="0.35">0.4</text>
<line x1="1006" y1="148.8" x2="1011.5" y2="148.8" stroke="#000" stroke-width="2.4"/>
<text x="0" y="0" font-size="23" transform="translate(1000.5 148.8) scale(1.14 1) rotate(-90)" text-anchor="middle" stroke="#000" stroke-width="0.35">0.6</text>
<line x1="1006" y1="108.7" x2="1011.5" y2="108.7" stroke="#000" stroke-width="2.4"/>
<text x="0" y="0" font-size="23" transform="translate(1000.5 108.7) scale(1.14 1) rotate(-90)" text-anchor="middle" stroke="#000" stroke-width="0.35">0.8</text>
<line x1="1006" y1="68.6" x2="1011.5" y2="68.6" stroke="#000" stroke-width="2.4"/>
<text x="0" y="0" font-size="23" transform="translate(1000.5 68.6) scale(1.14 1) rotate(-90)" text-anchor="middle" stroke="#000" stroke-width="0.35">1.0</text>
<text x="0" y="0" font-size="23.5" transform="translate(972 138.6) scale(1 1) rotate(-90)" text-anchor="middle" stroke="#000" stroke-width="0.35">Probability</text>
<line x1="1020.8" y1="277" x2="1020.8" y2="282.5" stroke="#000" stroke-width="2.4"/>
<text x="0" y="0" font-size="22.3" transform="translate(1021.8 301.5) scale(1 1)" text-anchor="middle" stroke="#000" stroke-width="0.35">0</text>
<line x1="1090.83" y1="277" x2="1090.83" y2="282.5" stroke="#000" stroke-width="2.4"/>
<text x="0" y="0" font-size="22.3" transform="translate(1094.83 301.5) scale(1 1)" text-anchor="middle" stroke="#000" stroke-width="0.35">50</text>
<line x1="1160.87" y1="277" x2="1160.87" y2="282.5" stroke="#000" stroke-width="2.4"/>
<text x="0" y="0" font-size="22.3" transform="translate(1167.87 301.5) scale(1 1)" text-anchor="middle" stroke="#000" stroke-width="0.35">100</text>
<line x1="1230.9" y1="277" x2="1230.9" y2="282.5" stroke="#000" stroke-width="2.4"/>
<text x="0" y="0" font-size="22.3" transform="translate(1238.9 301.5) scale(1 1)" text-anchor="middle" stroke="#000" stroke-width="0.35">150</text>
<text x="0" y="0" font-size="22.3" transform="translate(1129.7 319.5) scale(1 1)" text-anchor="middle" textLength="154" lengthAdjust="spacingAndGlyphs" stroke="#000" stroke-width="0.35">Time (months)</text>
<text x="0" y="0" font-size="23" transform="translate(1145.7 50.2) scale(1 1)" text-anchor="middle" stroke="#000" stroke-width="0.35">MTA1</text>
<text x="0" y="0" font-size="22.3" transform="translate(1018.5 182.8) scale(1 1)" textLength="225" lengthAdjust="spacingAndGlyphs" stroke="#000" stroke-width="0.35">HR = 3.3 (1.46−7.47)</text>
<text x="0" y="0" font-size="22.3" transform="translate(1018.5 204.1) scale(1 1)" textLength="201.5" lengthAdjust="spacingAndGlyphs" stroke="#000" stroke-width="0.35">logrank P = 0.0024</text>
<line x1="1021" y1="229" x2="1043" y2="229" stroke="#e0251b" stroke-width="2.2"/>
<line x1="1021" y1="251.2" x2="1043" y2="251.2" stroke="#000" stroke-width="2.2"/>
<text x="0" y="0" font-size="22.3" transform="translate(1054 233) scale(1 1)" fill="#e0251b" stroke="#e0251b" stroke-width="0.35">high</text>
<text x="0" y="0" font-size="22.3" transform="translate(1054 255.2) scale(1 1)" stroke="#000" stroke-width="0.35">low</text>
<text x="0" y="0" font-size="22.3" transform="translate(955.9 342) scale(1 1)" fill="#e0251b" stroke="#e0251b" stroke-width="0.35">high</text>
<text x="0" y="0" font-size="22.3" transform="translate(955.9 362.7) scale(1 1)" stroke="#000" stroke-width="0.35">low</text>
<text x="0" y="0" font-size="22.3" transform="translate(1017.8 342) scale(1 1)" fill="#e0251b" stroke="#e0251b" stroke-width="0.35">53</text>
<text x="0" y="0" font-size="22.3" transform="translate(1017.8 362.7) scale(1 1)" stroke="#000" stroke-width="0.35">54</text>
<text x="0" y="0" font-size="22.3" transform="translate(1087.83 342) scale(1 1)" fill="#e0251b" stroke="#e0251b" stroke-width="0.35">30</text>
<text x="0" y="0" font-size="22.3" transform="translate(1087.83 362.7) scale(1 1)" stroke="#000" stroke-width="0.35">42</text>
<text x="0" y="0" font-size="22.3" transform="translate(1157.87 342) scale(1 1)" fill="#e0251b" stroke="#e0251b" stroke-width="0.35">12</text>
<text x="0" y="0" font-size="22.3" transform="translate(1157.87 362.7) scale(1 1)" stroke="#000" stroke-width="0.35">15</text>
<text x="0" y="0" font-size="22.3" transform="translate(1227.9 342) scale(1 1)" fill="#e0251b" stroke="#e0251b" stroke-width="0.35">4</text>
<text x="0" y="0" font-size="22.3" transform="translate(1227.9 362.7) scale(1 1)" stroke="#000" stroke-width="0.35">5</text>
<path d="M1402.5 70.3 L1469.2 70.3 L1469.2 72.89 L1475.07 72.89 L1475.07 76.48 L1503.41 76.48 L1503.41 79.67 L1545.22 79.67 L1545.22 85.25 L1643.02 85.25 L1643.02 85.25" fill="none" stroke="#e0251b" stroke-width="2.2" stroke-linejoin="miter"/>
<line x1="1405.96" y1="66.8" x2="1405.96" y2="73.8" stroke="#e0251b" stroke-width="2"/>
<line x1="1402.96" y1="70.3" x2="1408.96" y2="70.3" stroke="#e0251b" stroke-width="2"/>
<line x1="1423.23" y1="66.8" x2="1423.23" y2="73.8" stroke="#e0251b" stroke-width="2"/>
<line x1="1420.23" y1="70.3" x2="1426.23" y2="70.3" stroke="#e0251b" stroke-width="2"/>
<line x1="1471.61" y1="69.39" x2="1471.61" y2="76.39" stroke="#e0251b" stroke-width="2"/>
<line x1="1468.61" y1="72.89" x2="1474.61" y2="72.89" stroke="#e0251b" stroke-width="2"/>
<line x1="1476.8" y1="72.98" x2="1476.8" y2="79.98" stroke="#e0251b" stroke-width="2"/>
<line x1="1473.8" y1="76.48" x2="1479.8" y2="76.48" stroke="#e0251b" stroke-width="2"/>
<line x1="1488.89" y1="72.98" x2="1488.89" y2="79.98" stroke="#e0251b" stroke-width="2"/>
<line x1="1485.89" y1="76.48" x2="1491.89" y2="76.48" stroke="#e0251b" stroke-width="2"/>
<line x1="1494.08" y1="72.98" x2="1494.08" y2="79.98" stroke="#e0251b" stroke-width="2"/>
<line x1="1491.08" y1="76.48" x2="1497.08" y2="76.48" stroke="#e0251b" stroke-width="2"/>
<line x1="1506.17" y1="76.17" x2="1506.17" y2="83.17" stroke="#e0251b" stroke-width="2"/>
<line x1="1503.17" y1="79.67" x2="1509.17" y2="79.67" stroke="#e0251b" stroke-width="2"/>
<line x1="1509.63" y1="76.17" x2="1509.63" y2="83.17" stroke="#e0251b" stroke-width="2"/>
<line x1="1506.63" y1="79.67" x2="1512.63" y2="79.67" stroke="#e0251b" stroke-width="2"/>
<line x1="1513.08" y1="76.17" x2="1513.08" y2="83.17" stroke="#e0251b" stroke-width="2"/>
<line x1="1510.08" y1="79.67" x2="1516.08" y2="79.67" stroke="#e0251b" stroke-width="2"/>
<line x1="1519.99" y1="76.17" x2="1519.99" y2="83.17" stroke="#e0251b" stroke-width="2"/>
<line x1="1516.99" y1="79.67" x2="1522.99" y2="79.67" stroke="#e0251b" stroke-width="2"/>
<line x1="1523.45" y1="76.17" x2="1523.45" y2="83.17" stroke="#e0251b" stroke-width="2"/>
<line x1="1520.45" y1="79.67" x2="1526.45" y2="79.67" stroke="#e0251b" stroke-width="2"/>
<line x1="1528.63" y1="76.17" x2="1528.63" y2="83.17" stroke="#e0251b" stroke-width="2"/>
<line x1="1525.63" y1="79.67" x2="1531.63" y2="79.67" stroke="#e0251b" stroke-width="2"/>
<line x1="1530.36" y1="76.17" x2="1530.36" y2="83.17" stroke="#e0251b" stroke-width="2"/>
<line x1="1527.36" y1="79.67" x2="1533.36" y2="79.67" stroke="#e0251b" stroke-width="2"/>
<line x1="1533.82" y1="76.17" x2="1533.82" y2="83.17" stroke="#e0251b" stroke-width="2"/>
<line x1="1530.82" y1="79.67" x2="1536.82" y2="79.67" stroke="#e0251b" stroke-width="2"/>
<line x1="1537.27" y1="76.17" x2="1537.27" y2="83.17" stroke="#e0251b" stroke-width="2"/>
<line x1="1534.27" y1="79.67" x2="1540.27" y2="79.67" stroke="#e0251b" stroke-width="2"/>
<line x1="1551.1" y1="81.75" x2="1551.1" y2="88.75" stroke="#e0251b" stroke-width="2"/>
<line x1="1548.1" y1="85.25" x2="1554.1" y2="85.25" stroke="#e0251b" stroke-width="2"/>
<line x1="1554.55" y1="81.75" x2="1554.55" y2="88.75" stroke="#e0251b" stroke-width="2"/>
<line x1="1551.55" y1="85.25" x2="1557.55" y2="85.25" stroke="#e0251b" stroke-width="2"/>
<line x1="1561.46" y1="81.75" x2="1561.46" y2="88.75" stroke="#e0251b" stroke-width="2"/>
<line x1="1558.46" y1="85.25" x2="1564.46" y2="85.25" stroke="#e0251b" stroke-width="2"/>
<line x1="1568.37" y1="81.75" x2="1568.37" y2="88.75" stroke="#e0251b" stroke-width="2"/>
<line x1="1565.37" y1="85.25" x2="1571.37" y2="85.25" stroke="#e0251b" stroke-width="2"/>
<line x1="1571.83" y1="81.75" x2="1571.83" y2="88.75" stroke="#e0251b" stroke-width="2"/>
<line x1="1568.83" y1="85.25" x2="1574.83" y2="85.25" stroke="#e0251b" stroke-width="2"/>
<line x1="1575.29" y1="81.75" x2="1575.29" y2="88.75" stroke="#e0251b" stroke-width="2"/>
<line x1="1572.29" y1="85.25" x2="1578.29" y2="85.25" stroke="#e0251b" stroke-width="2"/>
<line x1="1578.74" y1="81.75" x2="1578.74" y2="88.75" stroke="#e0251b" stroke-width="2"/>
<line x1="1575.74" y1="85.25" x2="1581.74" y2="85.25" stroke="#e0251b" stroke-width="2"/>
<line x1="1582.2" y1="81.75" x2="1582.2" y2="88.75" stroke="#e0251b" stroke-width="2"/>
<line x1="1579.2" y1="85.25" x2="1585.2" y2="85.25" stroke="#e0251b" stroke-width="2"/>
<line x1="1585.65" y1="81.75" x2="1585.65" y2="88.75" stroke="#e0251b" stroke-width="2"/>
<line x1="1582.65" y1="85.25" x2="1588.65" y2="85.25" stroke="#e0251b" stroke-width="2"/>
<line x1="1589.11" y1="81.75" x2="1589.11" y2="88.75" stroke="#e0251b" stroke-width="2"/>
<line x1="1586.11" y1="85.25" x2="1592.11" y2="85.25" stroke="#e0251b" stroke-width="2"/>
<line x1="1592.56" y1="81.75" x2="1592.56" y2="88.75" stroke="#e0251b" stroke-width="2"/>
<line x1="1589.56" y1="85.25" x2="1595.56" y2="85.25" stroke="#e0251b" stroke-width="2"/>
<line x1="1596.02" y1="81.75" x2="1596.02" y2="88.75" stroke="#e0251b" stroke-width="2"/>
<line x1="1593.02" y1="85.25" x2="1599.02" y2="85.25" stroke="#e0251b" stroke-width="2"/>
<line x1="1599.48" y1="81.75" x2="1599.48" y2="88.75" stroke="#e0251b" stroke-width="2"/>
<line x1="1596.48" y1="85.25" x2="1602.48" y2="85.25" stroke="#e0251b" stroke-width="2"/>
<line x1="1606.39" y1="81.75" x2="1606.39" y2="88.75" stroke="#e0251b" stroke-width="2"/>
<line x1="1603.39" y1="85.25" x2="1609.39" y2="85.25" stroke="#e0251b" stroke-width="2"/>
<line x1="1609.84" y1="81.75" x2="1609.84" y2="88.75" stroke="#e0251b" stroke-width="2"/>
<line x1="1606.84" y1="85.25" x2="1612.84" y2="85.25" stroke="#e0251b" stroke-width="2"/>
<line x1="1630.58" y1="81.75" x2="1630.58" y2="88.75" stroke="#e0251b" stroke-width="2"/>
<line x1="1627.58" y1="85.25" x2="1633.58" y2="85.25" stroke="#e0251b" stroke-width="2"/>
<line x1="1634.03" y1="81.75" x2="1634.03" y2="88.75" stroke="#e0251b" stroke-width="2"/>
<line x1="1631.03" y1="85.25" x2="1637.03" y2="85.25" stroke="#e0251b" stroke-width="2"/>
<line x1="1637.49" y1="81.75" x2="1637.49" y2="88.75" stroke="#e0251b" stroke-width="2"/>
<line x1="1634.49" y1="85.25" x2="1640.49" y2="85.25" stroke="#e0251b" stroke-width="2"/>
<line x1="1640.94" y1="81.75" x2="1640.94" y2="88.75" stroke="#e0251b" stroke-width="2"/>
<line x1="1637.94" y1="85.25" x2="1643.94" y2="85.25" stroke="#e0251b" stroke-width="2"/>
<path d="M1402.5 70.3 L1405.26 70.3 L1405.26 79.67 L1447.08 79.67 L1447.08 90.63 L1449.84 90.63 L1449.84 100.39 L1471.61 100.39 L1471.61 112.75 L1493.73 112.75 L1493.73 124.31 L1545.22 124.31 L1545.22 136.47 L1632.31 136.47 L1632.31 136.47" fill="none" stroke="#000" stroke-width="2.2" stroke-linejoin="miter"/>
<line x1="1452.61" y1="96.89" x2="1452.61" y2="103.89" stroke="#000" stroke-width="2"/>
<line x1="1449.61" y1="100.39" x2="1455.61" y2="100.39" stroke="#000" stroke-width="2"/>
<line x1="1539" y1="120.81" x2="1539" y2="127.81" stroke="#000" stroke-width="2"/>
<line x1="1536" y1="124.31" x2="1542" y2="124.31" stroke="#000" stroke-width="2"/>
<line x1="1575.29" y1="132.97" x2="1575.29" y2="139.97" stroke="#000" stroke-width="2"/>
<line x1="1572.29" y1="136.47" x2="1578.29" y2="136.47" stroke="#000" stroke-width="2"/>
<line x1="1578.74" y1="132.97" x2="1578.74" y2="139.97" stroke="#000" stroke-width="2"/>
<line x1="1575.74" y1="136.47" x2="1581.74" y2="136.47" stroke="#000" stroke-width="2"/>
<line x1="1589.11" y1="132.97" x2="1589.11" y2="139.97" stroke="#000" stroke-width="2"/>
<line x1="1586.11" y1="136.47" x2="1592.11" y2="136.47" stroke="#000" stroke-width="2"/>
<line x1="1592.56" y1="132.97" x2="1592.56" y2="139.97" stroke="#000" stroke-width="2"/>
<line x1="1589.56" y1="136.47" x2="1595.56" y2="136.47" stroke="#000" stroke-width="2"/>
<line x1="1596.02" y1="132.97" x2="1596.02" y2="139.97" stroke="#000" stroke-width="2"/>
<line x1="1593.02" y1="136.47" x2="1599.02" y2="136.47" stroke="#000" stroke-width="2"/>
<line x1="1602.93" y1="132.97" x2="1602.93" y2="139.97" stroke="#000" stroke-width="2"/>
<line x1="1599.93" y1="136.47" x2="1605.93" y2="136.47" stroke="#000" stroke-width="2"/>
<line x1="1606.39" y1="132.97" x2="1606.39" y2="139.97" stroke="#000" stroke-width="2"/>
<line x1="1603.39" y1="136.47" x2="1609.39" y2="136.47" stroke="#000" stroke-width="2"/>
<line x1="1630.58" y1="132.97" x2="1630.58" y2="139.97" stroke="#000" stroke-width="2"/>
<line x1="1627.58" y1="136.47" x2="1633.58" y2="136.47" stroke="#000" stroke-width="2"/>
<rect x="1393.1" y="61.8" width="257.9" height="215.9" fill="none" stroke="#000" stroke-width="2.6"/>
<line x1="1387.6" y1="269.6" x2="1393.1" y2="269.6" stroke="#000" stroke-width="2.4"/>
<text x="0" y="0" font-size="23" transform="translate(1382 269.6) scale(1.14 1) rotate(-90)" text-anchor="middle" stroke="#000" stroke-width="0.35">0.0</text>
<line x1="1387.6" y1="229.74" x2="1393.1" y2="229.74" stroke="#000" stroke-width="2.4"/>
<text x="0" y="0" font-size="23" transform="translate(1382 229.74) scale(1.14 1) rotate(-90)" text-anchor="middle" stroke="#000" stroke-width="0.35">0.2</text>
<line x1="1387.6" y1="189.88" x2="1393.1" y2="189.88" stroke="#000" stroke-width="2.4"/>
<text x="0" y="0" font-size="23" transform="translate(1382 189.88) scale(1.14 1) rotate(-90)" text-anchor="middle" stroke="#000" stroke-width="0.35">0.4</text>
<line x1="1387.6" y1="150.02" x2="1393.1" y2="150.02" stroke="#000" stroke-width="2.4"/>
<text x="0" y="0" font-size="23" transform="translate(1382 150.02) scale(1.14 1) rotate(-90)" text-anchor="middle" stroke="#000" stroke-width="0.35">0.6</text>
<line x1="1387.6" y1="110.16" x2="1393.1" y2="110.16" stroke="#000" stroke-width="2.4"/>
<text x="0" y="0" font-size="23" transform="translate(1382 110.16) scale(1.14 1) rotate(-90)" text-anchor="middle" stroke="#000" stroke-width="0.35">0.8</text>
<line x1="1387.6" y1="70.3" x2="1393.1" y2="70.3" stroke="#000" stroke-width="2.4"/>
<text x="0" y="0" font-size="23" transform="translate(1382 70.3) scale(1.14 1) rotate(-90)" text-anchor="middle" stroke="#000" stroke-width="0.35">1.0</text>
<text x="0" y="0" font-size="23.5" transform="translate(1357 139.8) scale(1 1) rotate(-90)" text-anchor="middle" stroke="#000" stroke-width="0.35">Probability</text>
<line x1="1402.5" y1="277.7" x2="1402.5" y2="283.2" stroke="#000" stroke-width="2.4"/>
<text x="0" y="0" font-size="22.3" transform="translate(1404 300) scale(1 1)" text-anchor="middle" stroke="#000" stroke-width="0.35">0</text>
<line x1="1437.06" y1="277.7" x2="1437.06" y2="283.2" stroke="#000" stroke-width="2.4"/>
<text x="0" y="0" font-size="22.3" transform="translate(1438.56 300) scale(1 1)" text-anchor="middle" stroke="#000" stroke-width="0.35">10</text>
<line x1="1471.61" y1="277.7" x2="1471.61" y2="283.2" stroke="#000" stroke-width="2.4"/>
<text x="0" y="0" font-size="22.3" transform="translate(1473.11 300) scale(1 1)" text-anchor="middle" stroke="#000" stroke-width="0.35">20</text>
<line x1="1506.17" y1="277.7" x2="1506.17" y2="283.2" stroke="#000" stroke-width="2.4"/>
<text x="0" y="0" font-size="22.3" transform="translate(1507.67 300) scale(1 1)" text-anchor="middle" stroke="#000" stroke-width="0.35">30</text>
<line x1="1540.73" y1="277.7" x2="1540.73" y2="283.2" stroke="#000" stroke-width="2.4"/>
<text x="0" y="0" font-size="22.3" transform="translate(1542.23 300) scale(1 1)" text-anchor="middle" stroke="#000" stroke-width="0.35">40</text>
<line x1="1575.29" y1="277.7" x2="1575.29" y2="283.2" stroke="#000" stroke-width="2.4"/>
<text x="0" y="0" font-size="22.3" transform="translate(1576.79 300) scale(1 1)" text-anchor="middle" stroke="#000" stroke-width="0.35">50</text>
<line x1="1609.84" y1="277.7" x2="1609.84" y2="283.2" stroke="#000" stroke-width="2.4"/>
<text x="0" y="0" font-size="22.3" transform="translate(1611.34 300) scale(1 1)" text-anchor="middle" stroke="#000" stroke-width="0.35">60</text>
<line x1="1644.4" y1="277.7" x2="1644.4" y2="283.2" stroke="#000" stroke-width="2.4"/>
<text x="0" y="0" font-size="22.3" transform="translate(1645.9 300) scale(1 1)" text-anchor="middle" stroke="#000" stroke-width="0.35">70</text>
<text x="0" y="0" font-size="22.3" transform="translate(1547 318.6) scale(1 1)" text-anchor="middle" textLength="154" lengthAdjust="spacingAndGlyphs" stroke="#000" stroke-width="0.35">Time (months)</text>
<text x="0" y="0" font-size="23" transform="translate(1529.8 51) scale(1 1)" text-anchor="middle" stroke="#000" stroke-width="0.35">MTA3</text>
<text x="0" y="0" font-size="22.3" transform="translate(1402 183.8) scale(1 1)" textLength="239.5" lengthAdjust="spacingAndGlyphs" stroke="#000" stroke-width="0.35">HR = 0.18 (0.05−0.64)</text>
<text x="0" y="0" font-size="22.3" transform="translate(1402 207) scale(1 1)" textLength="201.5" lengthAdjust="spacingAndGlyphs" stroke="#000" stroke-width="0.35">logrank P = 0.0028</text>
<line x1="1403" y1="230.9" x2="1425" y2="230.9" stroke="#e0251b" stroke-width="2.2"/>
<line x1="1403" y1="252.5" x2="1425" y2="252.5" stroke="#000" stroke-width="2.2"/>
<text x="0" y="0" font-size="22.3" transform="translate(1436 234.9) scale(1 1)" fill="#e0251b" stroke="#e0251b" stroke-width="0.35">high</text>
<text x="0" y="0" font-size="22.3" transform="translate(1436 256.5) scale(1 1)" stroke="#000" stroke-width="0.35">low</text>
<text x="0" y="0" font-size="22.3" transform="translate(1339 343) scale(1 1)" fill="#e0251b" stroke="#e0251b" stroke-width="0.35">high</text>
<text x="0" y="0" font-size="22.3" transform="translate(1339 364) scale(1 1)" stroke="#000" stroke-width="0.35">low</text>
<text x="0" y="0" font-size="22.3" transform="translate(1399.5 343) scale(1 1)" fill="#e0251b" stroke="#e0251b" stroke-width="0.35">61</text>
<text x="0" y="0" font-size="22.3" transform="translate(1399.5 364) scale(1 1)" stroke="#000" stroke-width="0.35">19</text>
<text x="0" y="0" font-size="22.3" transform="translate(1434.06 343) scale(1 1)" fill="#e0251b" stroke="#e0251b" stroke-width="0.35">59</text>
<text x="0" y="0" font-size="22.3" transform="translate(1434.06 364) scale(1 1)" stroke="#000" stroke-width="0.35">18</text>
<text x="0" y="0" font-size="22.3" transform="translate(1468.61 343) scale(1 1)" fill="#e0251b" stroke="#e0251b" stroke-width="0.35">58</text>
<text x="0" y="0" font-size="22.3" transform="translate(1468.61 364) scale(1 1)" stroke="#000" stroke-width="0.35">15</text>
<text x="0" y="0" font-size="22.3" transform="translate(1503.17 343) scale(1 1)" fill="#e0251b" stroke="#e0251b" stroke-width="0.35">52</text>
<text x="0" y="0" font-size="22.3" transform="translate(1503.17 364) scale(1 1)" stroke="#000" stroke-width="0.35">13</text>
<text x="0" y="0" font-size="22.3" transform="translate(1537.73 343) scale(1 1)" fill="#e0251b" stroke="#e0251b" stroke-width="0.35">43</text>
<text x="0" y="0" font-size="22.3" transform="translate(1537.73 364) scale(1 1)" stroke="#000" stroke-width="0.35">12</text>
<text x="0" y="0" font-size="22.3" transform="translate(1572.29 343) scale(1 1)" fill="#e0251b" stroke="#e0251b" stroke-width="0.35">32</text>
<text x="0" y="0" font-size="22.3" transform="translate(1572.29 364) scale(1 1)" stroke="#000" stroke-width="0.35">11</text>
<text x="0" y="0" font-size="22.3" transform="translate(1606.84 343) scale(1 1)" fill="#e0251b" stroke="#e0251b" stroke-width="0.35">11</text>
<text x="0" y="0" font-size="22.3" transform="translate(1606.84 364) scale(1 1)" stroke="#000" stroke-width="0.35">1</text>
<text x="0" y="0" font-size="22.3" transform="translate(1641.4 343) scale(1 1)" fill="#e0251b" stroke="#e0251b" stroke-width="0.35">0</text>
<text x="0" y="0" font-size="22.3" transform="translate(1641.4 364) scale(1 1)" stroke="#000" stroke-width="0.35">0</text>
<path d="M1025 473.5 L1095.91 473.5 L1095.91 477.91 L1115.74 477.91 L1115.74 493.15 L1133.98 493.15 L1133.98 499.36 L1151.08 499.36 L1151.08 504.18 L1228.38 504.18 L1228.38 504.18" fill="none" stroke="#e0251b" stroke-width="2.2" stroke-linejoin="miter"/>
<line x1="1027.28" y1="470" x2="1027.28" y2="477" stroke="#e0251b" stroke-width="2"/>
<line x1="1024.28" y1="473.5" x2="1030.28" y2="473.5" stroke="#e0251b" stroke-width="2"/>
<line x1="1047.8" y1="470" x2="1047.8" y2="477" stroke="#e0251b" stroke-width="2"/>
<line x1="1044.8" y1="473.5" x2="1050.8" y2="473.5" stroke="#e0251b" stroke-width="2"/>
<line x1="1054.64" y1="470" x2="1054.64" y2="477" stroke="#e0251b" stroke-width="2"/>
<line x1="1051.64" y1="473.5" x2="1057.64" y2="473.5" stroke="#e0251b" stroke-width="2"/>
<line x1="1061.48" y1="470" x2="1061.48" y2="477" stroke="#e0251b" stroke-width="2"/>
<line x1="1058.48" y1="473.5" x2="1064.48" y2="473.5" stroke="#e0251b" stroke-width="2"/>
<line x1="1063.76" y1="470" x2="1063.76" y2="477" stroke="#e0251b" stroke-width="2"/>
<line x1="1060.76" y1="473.5" x2="1066.76" y2="473.5" stroke="#e0251b" stroke-width="2"/>
<line x1="1077.44" y1="470" x2="1077.44" y2="477" stroke="#e0251b" stroke-width="2"/>
<line x1="1074.44" y1="473.5" x2="1080.44" y2="473.5" stroke="#e0251b" stroke-width="2"/>
<line x1="1079.72" y1="470" x2="1079.72" y2="477" stroke="#e0251b" stroke-width="2"/>
<line x1="1076.72" y1="473.5" x2="1082.72" y2="473.5" stroke="#e0251b" stroke-width="2"/>
<line x1="1084.28" y1="470" x2="1084.28" y2="477" stroke="#e0251b" stroke-width="2"/>
<line x1="1081.28" y1="473.5" x2="1087.28" y2="473.5" stroke="#e0251b" stroke-width="2"/>
<line x1="1088.84" y1="470" x2="1088.84" y2="477" stroke="#e0251b" stroke-width="2"/>
<line x1="1085.84" y1="473.5" x2="1091.84" y2="473.5" stroke="#e0251b" stroke-width="2"/>
<line x1="1093.4" y1="470" x2="1093.4" y2="477" stroke="#e0251b" stroke-width="2"/>
<line x1="1090.4" y1="473.5" x2="1096.4" y2="473.5" stroke="#e0251b" stroke-width="2"/>
<line x1="1102.52" y1="474.41" x2="1102.52" y2="481.41" stroke="#e0251b" stroke-width="2"/>
<line x1="1099.52" y1="477.91" x2="1105.52" y2="477.91" stroke="#e0251b" stroke-width="2"/>
<line x1="1104.8" y1="474.41" x2="1104.8" y2="481.41" stroke="#e0251b" stroke-width="2"/>
<line x1="1101.8" y1="477.91" x2="1107.8" y2="477.91" stroke="#e0251b" stroke-width="2"/>
<line x1="1107.08" y1="474.41" x2="1107.08" y2="481.41" stroke="#e0251b" stroke-width="2"/>
<line x1="1104.08" y1="477.91" x2="1110.08" y2="477.91" stroke="#e0251b" stroke-width="2"/>
<line x1="1109.36" y1="474.41" x2="1109.36" y2="481.41" stroke="#e0251b" stroke-width="2"/>
<line x1="1106.36" y1="477.91" x2="1112.36" y2="477.91" stroke="#e0251b" stroke-width="2"/>
<line x1="1111.64" y1="474.41" x2="1111.64" y2="481.41" stroke="#e0251b" stroke-width="2"/>
<line x1="1108.64" y1="477.91" x2="1114.64" y2="477.91" stroke="#e0251b" stroke-width="2"/>
<line x1="1120.76" y1="489.65" x2="1120.76" y2="496.65" stroke="#e0251b" stroke-width="2"/>
<line x1="1117.76" y1="493.15" x2="1123.76" y2="493.15" stroke="#e0251b" stroke-width="2"/>
<line x1="1123.04" y1="489.65" x2="1123.04" y2="496.65" stroke="#e0251b" stroke-width="2"/>
<line x1="1120.04" y1="493.15" x2="1126.04" y2="493.15" stroke="#e0251b" stroke-width="2"/>
<line x1="1125.32" y1="489.65" x2="1125.32" y2="496.65" stroke="#e0251b" stroke-width="2"/>
<line x1="1122.32" y1="493.15" x2="1128.32" y2="493.15" stroke="#e0251b" stroke-width="2"/>
<line x1="1129.88" y1="489.65" x2="1129.88" y2="496.65" stroke="#e0251b" stroke-width="2"/>
<line x1="1126.88" y1="493.15" x2="1132.88" y2="493.15" stroke="#e0251b" stroke-width="2"/>
<line x1="1141.28" y1="495.86" x2="1141.28" y2="502.86" stroke="#e0251b" stroke-width="2"/>
<line x1="1138.28" y1="499.36" x2="1144.28" y2="499.36" stroke="#e0251b" stroke-width="2"/>
<line x1="1145.84" y1="495.86" x2="1145.84" y2="502.86" stroke="#e0251b" stroke-width="2"/>
<line x1="1142.84" y1="499.36" x2="1148.84" y2="499.36" stroke="#e0251b" stroke-width="2"/>
<line x1="1154.96" y1="500.68" x2="1154.96" y2="507.68" stroke="#e0251b" stroke-width="2"/>
<line x1="1151.96" y1="504.18" x2="1157.96" y2="504.18" stroke="#e0251b" stroke-width="2"/>
<line x1="1157.24" y1="500.68" x2="1157.24" y2="507.68" stroke="#e0251b" stroke-width="2"/>
<line x1="1154.24" y1="504.18" x2="1160.24" y2="504.18" stroke="#e0251b" stroke-width="2"/>
<line x1="1161.8" y1="500.68" x2="1161.8" y2="507.68" stroke="#e0251b" stroke-width="2"/>
<line x1="1158.8" y1="504.18" x2="1164.8" y2="504.18" stroke="#e0251b" stroke-width="2"/>
<line x1="1166.36" y1="500.68" x2="1166.36" y2="507.68" stroke="#e0251b" stroke-width="2"/>
<line x1="1163.36" y1="504.18" x2="1169.36" y2="504.18" stroke="#e0251b" stroke-width="2"/>
<line x1="1170.92" y1="500.68" x2="1170.92" y2="507.68" stroke="#e0251b" stroke-width="2"/>
<line x1="1167.92" y1="504.18" x2="1173.92" y2="504.18" stroke="#e0251b" stroke-width="2"/>
<line x1="1173.2" y1="500.68" x2="1173.2" y2="507.68" stroke="#e0251b" stroke-width="2"/>
<line x1="1170.2" y1="504.18" x2="1176.2" y2="504.18" stroke="#e0251b" stroke-width="2"/>
<line x1="1175.48" y1="500.68" x2="1175.48" y2="507.68" stroke="#e0251b" stroke-width="2"/>
<line x1="1172.48" y1="504.18" x2="1178.48" y2="504.18" stroke="#e0251b" stroke-width="2"/>
<line x1="1180.04" y1="500.68" x2="1180.04" y2="507.68" stroke="#e0251b" stroke-width="2"/>
<line x1="1177.04" y1="504.18" x2="1183.04" y2="504.18" stroke="#e0251b" stroke-width="2"/>
<line x1="1182.32" y1="500.68" x2="1182.32" y2="507.68" stroke="#e0251b" stroke-width="2"/>
<line x1="1179.32" y1="504.18" x2="1185.32" y2="504.18" stroke="#e0251b" stroke-width="2"/>
<line x1="1184.6" y1="500.68" x2="1184.6" y2="507.68" stroke="#e0251b" stroke-width="2"/>
<line x1="1181.6" y1="504.18" x2="1187.6" y2="504.18" stroke="#e0251b" stroke-width="2"/>
<line x1="1186.88" y1="500.68" x2="1186.88" y2="507.68" stroke="#e0251b" stroke-width="2"/>
<line x1="1183.88" y1="504.18" x2="1189.88" y2="504.18" stroke="#e0251b" stroke-width="2"/>
<line x1="1189.16" y1="500.68" x2="1189.16" y2="507.68" stroke="#e0251b" stroke-width="2"/>
<line x1="1186.16" y1="504.18" x2="1192.16" y2="504.18" stroke="#e0251b" stroke-width="2"/>
<line x1="1193.72" y1="500.68" x2="1193.72" y2="507.68" stroke="#e0251b" stroke-width="2"/>
<line x1="1190.72" y1="504.18" x2="1196.72" y2="504.18" stroke="#e0251b" stroke-width="2"/>
<line x1="1198.28" y1="500.68" x2="1198.28" y2="507.68" stroke="#e0251b" stroke-width="2"/>
<line x1="1195.28" y1="504.18" x2="1201.28" y2="504.18" stroke="#e0251b" stroke-width="2"/>
<line x1="1202.84" y1="500.68" x2="1202.84" y2="507.68" stroke="#e0251b" stroke-width="2"/>
<line x1="1199.84" y1="504.18" x2="1205.84" y2="504.18" stroke="#e0251b" stroke-width="2"/>
<line x1="1207.4" y1="500.68" x2="1207.4" y2="507.68" stroke="#e0251b" stroke-width="2"/>
<line x1="1204.4" y1="504.18" x2="1210.4" y2="504.18" stroke="#e0251b" stroke-width="2"/>
<line x1="1211.96" y1="500.68" x2="1211.96" y2="507.68" stroke="#e0251b" stroke-width="2"/>
<line x1="1208.96" y1="504.18" x2="1214.96" y2="504.18" stroke="#e0251b" stroke-width="2"/>
<line x1="1216.52" y1="500.68" x2="1216.52" y2="507.68" stroke="#e0251b" stroke-width="2"/>
<line x1="1213.52" y1="504.18" x2="1219.52" y2="504.18" stroke="#e0251b" stroke-width="2"/>
<line x1="1221.08" y1="500.68" x2="1221.08" y2="507.68" stroke="#e0251b" stroke-width="2"/>
<line x1="1218.08" y1="504.18" x2="1224.08" y2="504.18" stroke="#e0251b" stroke-width="2"/>
<line x1="1227.92" y1="500.68" x2="1227.92" y2="507.68" stroke="#e0251b" stroke-width="2"/>
<line x1="1224.92" y1="504.18" x2="1230.92" y2="504.18" stroke="#e0251b" stroke-width="2"/>
<path d="M1025 473.5 L1044.61 473.5 L1044.61 476.51 L1054.41 476.51 L1054.41 479.72 L1060.34 479.72 L1060.34 482.52 L1066.04 482.52 L1066.04 485.53 L1072.88 485.53 L1072.88 487.53 L1079.72 487.53 L1079.72 489.94 L1086.56 489.94 L1086.56 492.55 L1095.68 492.55 L1095.68 495.56 L1100.24 495.56 L1100.24 497.56 L1107.08 497.56 L1107.08 499.56 L1113.92 499.56 L1113.92 501.57 L1118.48 501.57 L1118.48 503.58 L1127.6 503.58 L1127.6 504.58 L1150.4 504.58 L1150.4 507.59 L1154.96 507.59 L1154.96 510.59 L1164.08 510.59 L1164.08 513.6 L1168.64 513.6 L1168.64 517.21 L1229.06 517.21 L1229.06 517.21 L1229.06 517.21 L1229.06 568.54 L1265.08 568.54 L1265.08 568.54" fill="none" stroke="#000" stroke-width="2.2" stroke-linejoin="miter"/>
<line x1="1047.8" y1="473.01" x2="1047.8" y2="480.01" stroke="#000" stroke-width="2"/>
<line x1="1044.8" y1="476.51" x2="1050.8" y2="476.51" stroke="#000" stroke-width="2"/>
<line x1="1056.92" y1="476.22" x2="1056.92" y2="483.22" stroke="#000" stroke-width="2"/>
<line x1="1053.92" y1="479.72" x2="1059.92" y2="479.72" stroke="#000" stroke-width="2"/>
<line x1="1070.6" y1="482.03" x2="1070.6" y2="489.03" stroke="#000" stroke-width="2"/>
<line x1="1067.6" y1="485.53" x2="1073.6" y2="485.53" stroke="#000" stroke-width="2"/>
<line x1="1075.16" y1="484.03" x2="1075.16" y2="491.03" stroke="#000" stroke-width="2"/>
<line x1="1072.16" y1="487.53" x2="1078.16" y2="487.53" stroke="#000" stroke-width="2"/>
<line x1="1082" y1="486.44" x2="1082" y2="493.44" stroke="#000" stroke-width="2"/>
<line x1="1079" y1="489.94" x2="1085" y2="489.94" stroke="#000" stroke-width="2"/>
<line x1="1084.28" y1="486.44" x2="1084.28" y2="493.44" stroke="#000" stroke-width="2"/>
<line x1="1081.28" y1="489.94" x2="1087.28" y2="489.94" stroke="#000" stroke-width="2"/>
<line x1="1086.56" y1="489.05" x2="1086.56" y2="496.05" stroke="#000" stroke-width="2"/>
<line x1="1083.56" y1="492.55" x2="1089.56" y2="492.55" stroke="#000" stroke-width="2"/>
<line x1="1088.84" y1="489.05" x2="1088.84" y2="496.05" stroke="#000" stroke-width="2"/>
<line x1="1085.84" y1="492.55" x2="1091.84" y2="492.55" stroke="#000" stroke-width="2"/>
<line x1="1091.12" y1="489.05" x2="1091.12" y2="496.05" stroke="#000" stroke-width="2"/>
<line x1="1088.12" y1="492.55" x2="1094.12" y2="492.55" stroke="#000" stroke-width="2"/>
<line x1="1093.4" y1="489.05" x2="1093.4" y2="496.05" stroke="#000" stroke-width="2"/>
<line x1="1090.4" y1="492.55" x2="1096.4" y2="492.55" stroke="#000" stroke-width="2"/>
<line x1="1107.08" y1="496.06" x2="1107.08" y2="503.06" stroke="#000" stroke-width="2"/>
<line x1="1104.08" y1="499.56" x2="1110.08" y2="499.56" stroke="#000" stroke-width="2"/>
<line x1="1109.36" y1="496.06" x2="1109.36" y2="503.06" stroke="#000" stroke-width="2"/>
<line x1="1106.36" y1="499.56" x2="1112.36" y2="499.56" stroke="#000" stroke-width="2"/>
<line x1="1111.64" y1="496.06" x2="1111.64" y2="503.06" stroke="#000" stroke-width="2"/>
<line x1="1108.64" y1="499.56" x2="1114.64" y2="499.56" stroke="#000" stroke-width="2"/>
<line x1="1113.92" y1="498.07" x2="1113.92" y2="505.07" stroke="#000" stroke-width="2"/>
<line x1="1110.92" y1="501.57" x2="1116.92" y2="501.57" stroke="#000" stroke-width="2"/>
<line x1="1116.2" y1="498.07" x2="1116.2" y2="505.07" stroke="#000" stroke-width="2"/>
<line x1="1113.2" y1="501.57" x2="1119.2" y2="501.57" stroke="#000" stroke-width="2"/>
<line x1="1123.04" y1="500.08" x2="1123.04" y2="507.08" stroke="#000" stroke-width="2"/>
<line x1="1120.04" y1="503.58" x2="1126.04" y2="503.58" stroke="#000" stroke-width="2"/>
<line x1="1127.6" y1="501.08" x2="1127.6" y2="508.08" stroke="#000" stroke-width="2"/>
<line x1="1124.6" y1="504.58" x2="1130.6" y2="504.58" stroke="#000" stroke-width="2"/>
<line x1="1134.44" y1="501.08" x2="1134.44" y2="508.08" stroke="#000" stroke-width="2"/>
<line x1="1131.44" y1="504.58" x2="1137.44" y2="504.58" stroke="#000" stroke-width="2"/>
<line x1="1139" y1="501.08" x2="1139" y2="508.08" stroke="#000" stroke-width="2"/>
<line x1="1136" y1="504.58" x2="1142" y2="504.58" stroke="#000" stroke-width="2"/>
<line x1="1143.56" y1="501.08" x2="1143.56" y2="508.08" stroke="#000" stroke-width="2"/>
<line x1="1140.56" y1="504.58" x2="1146.56" y2="504.58" stroke="#000" stroke-width="2"/>
<line x1="1148.12" y1="501.08" x2="1148.12" y2="508.08" stroke="#000" stroke-width="2"/>
<line x1="1145.12" y1="504.58" x2="1151.12" y2="504.58" stroke="#000" stroke-width="2"/>
<line x1="1152.68" y1="504.09" x2="1152.68" y2="511.09" stroke="#000" stroke-width="2"/>
<line x1="1149.68" y1="507.59" x2="1155.68" y2="507.59" stroke="#000" stroke-width="2"/>
<line x1="1157.24" y1="507.09" x2="1157.24" y2="514.09" stroke="#000" stroke-width="2"/>
<line x1="1154.24" y1="510.59" x2="1160.24" y2="510.59" stroke="#000" stroke-width="2"/>
<line x1="1166.36" y1="510.1" x2="1166.36" y2="517.1" stroke="#000" stroke-width="2"/>
<line x1="1163.36" y1="513.6" x2="1169.36" y2="513.6" stroke="#000" stroke-width="2"/>
<line x1="1175.48" y1="513.71" x2="1175.48" y2="520.71" stroke="#000" stroke-width="2"/>
<line x1="1172.48" y1="517.21" x2="1178.48" y2="517.21" stroke="#000" stroke-width="2"/>
<line x1="1184.6" y1="513.71" x2="1184.6" y2="520.71" stroke="#000" stroke-width="2"/>
<line x1="1181.6" y1="517.21" x2="1187.6" y2="517.21" stroke="#000" stroke-width="2"/>
<line x1="1196" y1="513.71" x2="1196" y2="520.71" stroke="#000" stroke-width="2"/>
<line x1="1193" y1="517.21" x2="1199" y2="517.21" stroke="#000" stroke-width="2"/>
<line x1="1207.4" y1="513.71" x2="1207.4" y2="520.71" stroke="#000" stroke-width="2"/>
<line x1="1204.4" y1="517.21" x2="1210.4" y2="517.21" stroke="#000" stroke-width="2"/>
<line x1="1211.96" y1="513.71" x2="1211.96" y2="520.71" stroke="#000" stroke-width="2"/>
<line x1="1208.96" y1="517.21" x2="1214.96" y2="517.21" stroke="#000" stroke-width="2"/>
<line x1="1216.52" y1="513.71" x2="1216.52" y2="520.71" stroke="#000" stroke-width="2"/>
<line x1="1213.52" y1="517.21" x2="1219.52" y2="517.21" stroke="#000" stroke-width="2"/>
<line x1="1246.16" y1="565.04" x2="1246.16" y2="572.04" stroke="#000" stroke-width="2"/>
<line x1="1243.16" y1="568.54" x2="1249.16" y2="568.54" stroke="#000" stroke-width="2"/>
<line x1="1264.4" y1="565.04" x2="1264.4" y2="572.04" stroke="#000" stroke-width="2"/>
<line x1="1261.4" y1="568.54" x2="1267.4" y2="568.54" stroke="#000" stroke-width="2"/>
<rect x="1015.7" y="465.7" width="258.1" height="215.7" fill="none" stroke="#000" stroke-width="2.6"/>
<line x1="1010.2" y1="674" x2="1015.7" y2="674" stroke="#000" stroke-width="2.4"/>
<text x="0" y="0" font-size="23" transform="translate(1005.4 674) scale(1.14 1) rotate(-90)" text-anchor="middle" stroke="#000" stroke-width="0.35">0.0</text>
<line x1="1010.2" y1="633.9" x2="1015.7" y2="633.9" stroke="#000" stroke-width="2.4"/>
<text x="0" y="0" font-size="23" transform="translate(1005.4 633.9) scale(1.14 1) rotate(-90)" text-anchor="middle" stroke="#000" stroke-width="0.35">0.2</text>
<line x1="1010.2" y1="593.8" x2="1015.7" y2="593.8" stroke="#000" stroke-width="2.4"/>
<text x="0" y="0" font-size="23" transform="translate(1005.4 593.8) scale(1.14 1) rotate(-90)" text-anchor="middle" stroke="#000" stroke-width="0.35">0.4</text>
<line x1="1010.2" y1="553.7" x2="1015.7" y2="553.7" stroke="#000" stroke-width="2.4"/>
<text x="0" y="0" font-size="23" transform="translate(1005.4 553.7) scale(1.14 1) rotate(-90)" text-anchor="middle" stroke="#000" stroke-width="0.35">0.6</text>
<line x1="1010.2" y1="513.6" x2="1015.7" y2="513.6" stroke="#000" stroke-width="2.4"/>
<text x="0" y="0" font-size="23" transform="translate(1005.4 513.6) scale(1.14 1) rotate(-90)" text-anchor="middle" stroke="#000" stroke-width="0.35">0.8</text>
<line x1="1010.2" y1="473.5" x2="1015.7" y2="473.5" stroke="#000" stroke-width="2.4"/>
<text x="0" y="0" font-size="23" transform="translate(1005.4 473.5) scale(1.14 1) rotate(-90)" text-anchor="middle" stroke="#000" stroke-width="0.35">1.0</text>
<text x="0" y="0" font-size="23.5" transform="translate(977 545.2) scale(1 1) rotate(-90)" text-anchor="middle" stroke="#000" stroke-width="0.35">Probability</text>
<line x1="1025" y1="681.4" x2="1025" y2="686.9" stroke="#000" stroke-width="2.4"/>
<text x="0" y="0" font-size="22.3" transform="translate(1026.5 704) scale(1 1)" text-anchor="middle" stroke="#000" stroke-width="0.35">0</text>
<line x1="1070.6" y1="681.4" x2="1070.6" y2="686.9" stroke="#000" stroke-width="2.4"/>
<text x="0" y="0" font-size="22.3" transform="translate(1072.1 704) scale(1 1)" text-anchor="middle" stroke="#000" stroke-width="0.35">20</text>
<line x1="1116.2" y1="681.4" x2="1116.2" y2="686.9" stroke="#000" stroke-width="2.4"/>
<text x="0" y="0" font-size="22.3" transform="translate(1117.7 704) scale(1 1)" text-anchor="middle" stroke="#000" stroke-width="0.35">40</text>
<line x1="1161.8" y1="681.4" x2="1161.8" y2="686.9" stroke="#000" stroke-width="2.4"/>
<text x="0" y="0" font-size="22.3" transform="translate(1163.3 704) scale(1 1)" text-anchor="middle" stroke="#000" stroke-width="0.35">60</text>
<line x1="1207.4" y1="681.4" x2="1207.4" y2="686.9" stroke="#000" stroke-width="2.4"/>
<text x="0" y="0" font-size="22.3" transform="translate(1208.9 704) scale(1 1)" text-anchor="middle" stroke="#000" stroke-width="0.35">80</text>
<line x1="1253" y1="681.4" x2="1253" y2="686.9" stroke="#000" stroke-width="2.4"/>
<text x="0" y="0" font-size="22.3" transform="translate(1254.5 704) scale(1 1)" text-anchor="middle" stroke="#000" stroke-width="0.35">100</text>
<text x="0" y="0" font-size="22.3" transform="translate(1148 723.5) scale(1 1)" text-anchor="middle" textLength="154" lengthAdjust="spacingAndGlyphs" stroke="#000" stroke-width="0.35">Time (months)</text>
<text x="0" y="0" font-size="23" transform="translate(1143 457.6) scale(1 1)" text-anchor="middle" stroke="#000" stroke-width="0.35">MTA2</text>
<text x="0" y="0" font-size="22.3" transform="translate(1023.5 592.4) scale(1 1)" textLength="239.5" lengthAdjust="spacingAndGlyphs" stroke="#000" stroke-width="0.35">HR = 0.59 (0.22−1.59)</text>
<text x="0" y="0" font-size="22.3" transform="translate(1023.5 613.7) scale(1 1)" textLength="175.5" lengthAdjust="spacingAndGlyphs" stroke="#000" stroke-width="0.35">logrank P = 0.29</text>
<line x1="1025" y1="631.6" x2="1047" y2="631.6" stroke="#e0251b" stroke-width="2.2"/>
<line x1="1025" y1="656" x2="1047" y2="656" stroke="#000" stroke-width="2.2"/>
<text x="0" y="0" font-size="22.3" transform="translate(1058 635.6) scale(1 1)" fill="#e0251b" stroke="#e0251b" stroke-width="0.35">high</text>
<text x="0" y="0" font-size="22.3" transform="translate(1058 660) scale(1 1)" stroke="#000" stroke-width="0.35">low</text>
<text x="0" y="0" font-size="22.3" transform="translate(961 748) scale(1 1)" fill="#e0251b" stroke="#e0251b" stroke-width="0.35">high</text>
<text x="0" y="0" font-size="22.3" transform="translate(961 768.9) scale(1 1)" stroke="#000" stroke-width="0.35">low</text>
<text x="0" y="0" font-size="22.3" transform="translate(1022 748) scale(1 1)" fill="#e0251b" stroke="#e0251b" stroke-width="0.35">62</text>
<text x="0" y="0" font-size="22.3" transform="translate(1022 768.9) scale(1 1)" stroke="#000" stroke-width="0.35">68</text>
<text x="0" y="0" font-size="22.3" transform="translate(1067.6 748) scale(1 1)" fill="#e0251b" stroke="#e0251b" stroke-width="0.35">56</text>
<text x="0" y="0" font-size="22.3" transform="translate(1067.6 768.9) scale(1 1)" stroke="#000" stroke-width="0.35">64</text>
<text x="0" y="0" font-size="22.3" transform="translate(1113.2 748) scale(1 1)" fill="#e0251b" stroke="#e0251b" stroke-width="0.35">38</text>
<text x="0" y="0" font-size="22.3" transform="translate(1113.2 768.9) scale(1 1)" stroke="#000" stroke-width="0.35">42</text>
<text x="0" y="0" font-size="22.3" transform="translate(1158.8 748) scale(1 1)" fill="#e0251b" stroke="#e0251b" stroke-width="0.35">23</text>
<text x="0" y="0" font-size="22.3" transform="translate(1158.8 768.9) scale(1 1)" stroke="#000" stroke-width="0.35">24</text>
<text x="0" y="0" font-size="22.3" transform="translate(1204.4 748) scale(1 1)" fill="#e0251b" stroke="#e0251b" stroke-width="0.35">3</text>
<text x="0" y="0" font-size="22.3" transform="translate(1204.4 768.9) scale(1 1)" stroke="#000" stroke-width="0.35">10</text>
<text x="0" y="0" font-size="22.3" transform="translate(1250 748) scale(1 1)" fill="#e0251b" stroke="#e0251b" stroke-width="0.35">0</text>
<text x="0" y="0" font-size="22.3" transform="translate(1250 768.9) scale(1 1)" stroke="#000" stroke-width="0.35">1</text>
<text x="1288" y="423.3" font-size="36" font-weight="bold">C</text>
<line x1="1404.3" y1="472.4" x2="1404.3" y2="700.7" stroke="#000" stroke-width="2.4"/>
<line x1="1394.8" y1="473.6" x2="1404.3" y2="473.6" stroke="#000" stroke-width="2.4"/>
<text x="1386.3" y="481.6" text-anchor="end" stroke="#000" stroke-width="0.35">1</text>
<line x1="1394.8" y1="518.78" x2="1404.3" y2="518.78" stroke="#000" stroke-width="2.4"/>
<text x="1386.3" y="526.78" text-anchor="end" stroke="#000" stroke-width="0.35">0</text>
<line x1="1394.8" y1="563.96" x2="1404.3" y2="563.96" stroke="#000" stroke-width="2.4"/>
<text x="1386.3" y="571.96" text-anchor="end" stroke="#000" stroke-width="0.35">-1</text>
<line x1="1394.8" y1="609.14" x2="1404.3" y2="609.14" stroke="#000" stroke-width="2.4"/>
<text x="1386.3" y="617.14" text-anchor="end" stroke="#000" stroke-width="0.35">-2</text>
<line x1="1394.8" y1="654.32" x2="1404.3" y2="654.32" stroke="#000" stroke-width="2.4"/>
<text x="1386.3" y="662.32" text-anchor="end" stroke="#000" stroke-width="0.35">-3</text>
<line x1="1394.8" y1="699.5" x2="1404.3" y2="699.5" stroke="#000" stroke-width="2.4"/>
<text x="1386.3" y="707.5" text-anchor="end" stroke="#000" stroke-width="0.35">-4</text>
<line x1="1403.3" y1="699.5" x2="1741.6" y2="699.5" stroke="#000" stroke-width="2.4"/>
<line x1="1460.6" y1="699.5" x2="1460.6" y2="706.5" stroke="#000" stroke-width="2.4"/>
<text x="1460.6" y="726.5" text-anchor="middle" stroke="#000" stroke-width="0.35">-1</text>
<line x1="1573.5" y1="699.5" x2="1573.5" y2="706.5" stroke="#000" stroke-width="2.4"/>
<text x="1573.5" y="726.5" text-anchor="middle" stroke="#000" stroke-width="0.35">0</text>
<line x1="1686.4" y1="699.5" x2="1686.4" y2="706.5" stroke="#000" stroke-width="2.4"/>
<text x="1686.4" y="726.5" text-anchor="middle" stroke="#000" stroke-width="0.35">1</text>
<text x="1355.5" y="584.5" font-size="21.5" text-anchor="middle" transform="rotate(-90 1355.5 584.5)" textLength="277" lengthAdjust="spacingAndGlyphs" stroke="#000" stroke-width="0.35">Relative MTA1 mRNA level</text>
<text x="1568" y="752.4" font-size="21.5" text-anchor="middle" textLength="277" lengthAdjust="spacingAndGlyphs" stroke="#000" stroke-width="0.35">Relative MTA3 mRNA level</text>
<text x="1580.6" y="444.4" font-size="23" text-anchor="middle" stroke="#000" stroke-width="0.35">GSE9014</text>
<text x="1447.5" y="470.8" font-size="21.5" textLength="238.5" lengthAdjust="spacingAndGlyphs" stroke="#000" stroke-width="0.35">r (Spearman) = -0.3360</text>
<text x="1447.5" y="500" font-size="21.5" textLength="205" lengthAdjust="spacingAndGlyphs" stroke="#000" stroke-width="0.35">r (Pearson) = -0.417</text>
<text x="1705.5" y="466.56" font-size="24" text-anchor="middle" fill="#333" stroke="#333" stroke-width="0.15">*</text>
<text x="1717" y="466.56" font-size="24" text-anchor="middle" fill="#333" stroke="#333" stroke-width="0.15">*</text>
<text x="1728.5" y="466.56" font-size="24" text-anchor="middle" fill="#333" stroke="#333" stroke-width="0.15">*</text>
<text x="1670.5" y="498.56" font-size="24" text-anchor="middle" fill="#333" stroke="#333" stroke-width="0.15">*</text>
<text x="1682" y="498.56" font-size="24" text-anchor="middle" fill="#333" stroke="#333" stroke-width="0.15">*</text>
<text x="1693.5" y="498.56" font-size="24" text-anchor="middle" fill="#333" stroke="#333" stroke-width="0.15">*</text>
<circle cx="1492.12" cy="539.71" r="2.5" fill="#000"/>
<circle cx="1542.3" cy="529.95" r="2.5" fill="#000"/>
<circle cx="1550.66" cy="534.13" r="2.5" fill="#000"/>
<circle cx="1570.18" cy="542.22" r="2.5" fill="#000"/>
<circle cx="1534.49" cy="548.91" r="2.5" fill="#000"/>
<circle cx="1537.56" cy="553.09" r="2.5" fill="#000"/>
<circle cx="1544.53" cy="552.25" r="2.5" fill="#000"/>
<circle cx="1540.07" cy="557.83" r="2.5" fill="#000"/>
<circle cx="1599.45" cy="553.93" r="2.5" fill="#000"/>
<circle cx="1602.8" cy="550.02" r="2.5" fill="#000"/>
<circle cx="1606.42" cy="549.46" r="2.5" fill="#000"/>
<circle cx="1565.16" cy="553.93" r="2.5" fill="#000"/>
<circle cx="1567.39" cy="560.06" r="2.5" fill="#000"/>
<circle cx="1565.44" cy="560.62" r="2.5" fill="#000"/>
<circle cx="1568.78" cy="562.01" r="2.5" fill="#000"/>
<circle cx="1502.43" cy="566.47" r="2.5" fill="#000"/>
<circle cx="1588.3" cy="568.98" r="2.5" fill="#000"/>
<circle cx="1595.27" cy="569.82" r="2.5" fill="#000"/>
<circle cx="1618.41" cy="568.7" r="2.5" fill="#000"/>
<circle cx="1654.37" cy="564.24" r="2.5" fill="#000"/>
<circle cx="1506.06" cy="579.57" r="2.5" fill="#000"/>
<circle cx="1544.25" cy="572.6" r="2.5" fill="#000"/>
<circle cx="1558.19" cy="570.65" r="2.5" fill="#000"/>
<circle cx="1567.39" cy="570.65" r="2.5" fill="#000"/>
<circle cx="1568.78" cy="573.44" r="2.5" fill="#000"/>
<circle cx="1572.97" cy="574.83" r="2.5" fill="#000"/>
<circle cx="1578.54" cy="576.23" r="2.5" fill="#000"/>
<circle cx="1574.36" cy="581.8" r="2.5" fill="#000"/>
<circle cx="1571.01" cy="582.36" r="2.5" fill="#000"/>
<circle cx="1572.41" cy="587.94" r="2.5" fill="#000"/>
<circle cx="1527.8" cy="581.8" r="2.5" fill="#000"/>
<circle cx="1519.16" cy="588.49" r="2.5" fill="#000"/>
<circle cx="1540.35" cy="586.54" r="2.5" fill="#000"/>
<circle cx="1549.27" cy="583.76" r="2.5" fill="#000"/>
<circle cx="1552.06" cy="582.36" r="2.5" fill="#000"/>
<circle cx="1557.63" cy="586.54" r="2.5" fill="#000"/>
<circle cx="1561.81" cy="585.15" r="2.5" fill="#000"/>
<circle cx="1559.03" cy="590.17" r="2.5" fill="#000"/>
<circle cx="1550.66" cy="588.49" r="2.5" fill="#000"/>
<circle cx="1546.48" cy="588.49" r="2.5" fill="#000"/>
<circle cx="1586.35" cy="592.12" r="2.5" fill="#000"/>
<circle cx="1584.95" cy="594.91" r="2.5" fill="#000"/>
<circle cx="1605.03" cy="584.59" r="2.5" fill="#000"/>
<circle cx="1618.41" cy="589.61" r="2.5" fill="#000"/>
<circle cx="1641.83" cy="585.71" r="2.5" fill="#000"/>
<circle cx="1650.47" cy="582.36" r="2.5" fill="#000"/>
<circle cx="1666.36" cy="583.76" r="2.5" fill="#000"/>
<circle cx="1662.73" cy="594.07" r="2.5" fill="#000"/>
<circle cx="1540.91" cy="597.69" r="2.5" fill="#000"/>
<circle cx="1549.27" cy="596.3" r="2.5" fill="#000"/>
<circle cx="1552.06" cy="596.86" r="2.5" fill="#000"/>
<circle cx="1501.88" cy="606.89" r="2.5" fill="#000"/>
<circle cx="1534.77" cy="606.89" r="2.5" fill="#000"/>
<circle cx="1540.91" cy="604.66" r="2.5" fill="#000"/>
<circle cx="1544.25" cy="603.27" r="2.5" fill="#000"/>
<circle cx="1542.3" cy="608.85" r="2.5" fill="#000"/>
<circle cx="1549.83" cy="609.68" r="2.5" fill="#000"/>
<circle cx="1556.8" cy="606.06" r="2.5" fill="#000"/>
<circle cx="1566" cy="606.06" r="2.5" fill="#000"/>
<circle cx="1571.57" cy="608.85" r="2.5" fill="#000"/>
<circle cx="1582.72" cy="607.45" r="2.5" fill="#000"/>
<circle cx="1584.12" cy="610.24" r="2.5" fill="#000"/>
<circle cx="1586.91" cy="613.03" r="2.5" fill="#000"/>
<circle cx="1589.69" cy="612.47" r="2.5" fill="#000"/>
<circle cx="1595.27" cy="608.29" r="2.5" fill="#000"/>
<circle cx="1598.06" cy="606.89" r="2.5" fill="#000"/>
<circle cx="1609.21" cy="612.47" r="2.5" fill="#000"/>
<circle cx="1618.97" cy="613.86" r="2.5" fill="#000"/>
<circle cx="1645.45" cy="612.19" r="2.5" fill="#000"/>
<circle cx="1516.65" cy="614.42" r="2.5" fill="#000"/>
<circle cx="1550.66" cy="615.82" r="2.5" fill="#000"/>
<circle cx="1554.85" cy="618.05" r="2.5" fill="#000"/>
<circle cx="1583.56" cy="615.26" r="2.5" fill="#000"/>
<circle cx="1582.72" cy="622.79" r="2.5" fill="#000"/>
<circle cx="1591.64" cy="626.97" r="2.5" fill="#000"/>
<circle cx="1593.88" cy="633.1" r="2.5" fill="#000"/>
<circle cx="1600.29" cy="629.2" r="2.5" fill="#000"/>
<circle cx="1600.01" cy="633.94" r="2.5" fill="#000"/>
<circle cx="1616.18" cy="621.39" r="2.5" fill="#000"/>
<circle cx="1615.62" cy="629.75" r="2.5" fill="#000"/>
<circle cx="1506.06" cy="634.77" r="2.5" fill="#000"/>
<circle cx="1509.12" cy="635.33" r="2.5" fill="#000"/>
<circle cx="1543.69" cy="634.77" r="2.5" fill="#000"/>
<circle cx="1554.85" cy="635.89" r="2.5" fill="#000"/>
<circle cx="1584.68" cy="632.54" r="2.5" fill="#000"/>
<circle cx="1590.53" cy="644.25" r="2.5" fill="#000"/>
<circle cx="1618.41" cy="645.09" r="2.5" fill="#000"/>
<circle cx="1620.92" cy="641.74" r="2.5" fill="#000"/>
<circle cx="1635.14" cy="639.51" r="2.5" fill="#000"/>
<circle cx="1638.48" cy="638.95" r="2.5" fill="#000"/>
<circle cx="1639.87" cy="645.09" r="2.5" fill="#000"/>
<circle cx="1643.5" cy="642.3" r="2.5" fill="#000"/>
<circle cx="1640.43" cy="662.37" r="2.5" fill="#000"/>
<circle cx="1665.8" cy="662.37" r="2.5" fill="#000"/>
<circle cx="1600.29" cy="666.83" r="2.5" fill="#000"/>
<circle cx="1599.45" cy="676.59" r="2.5" fill="#000"/>
<circle cx="1620.92" cy="679.94" r="2.5" fill="#000"/>
<circle cx="1553.45" cy="592.96" r="2.5" fill="#000"/>
<circle cx="1560.42" cy="593.51" r="2.5" fill="#000"/>
<circle cx="1577.15" cy="585.15" r="2.5" fill="#000"/>
<circle cx="1581.33" cy="590.72" r="2.5" fill="#000"/>
<circle cx="1535.33" cy="613.03" r="2.5" fill="#000"/>
<circle cx="1568.78" cy="568.42" r="2.5" fill="#000"/>
<circle cx="1575.75" cy="571.21" r="2.5" fill="#000"/>
<circle cx="1607.81" cy="585.15" r="2.5" fill="#000"/>
<circle cx="1547.88" cy="601.88" r="2.5" fill="#000"/>
<line x1="1471.2" y1="557.3" x2="1667" y2="629.2" stroke="#000" stroke-width="4.2" stroke-linecap="round"/>
<text x="0.5" y="823.5" font-size="36" font-weight="bold">D</text>
<text x="338" y="856" text-anchor="middle" stroke="#000" stroke-width="0.35">MTA1</text>
<text x="65" y="985.5" text-anchor="middle" transform="rotate(-90 65 985.5)" stroke="#000" stroke-width="0.35">Relative level of mRNA</text>
<rect x="434.4" y="875.8" width="18.3" height="14" fill="#6b97c3"/>
<text x="458.3" y="888.75" textLength="66.7" lengthAdjust="spacingAndGlyphs" stroke="#000" stroke-width="0.35">Normal</text>
<rect x="531.9" y="875.8" width="18.3" height="14" fill="#c45b5d"/>
<text x="555.2" y="888.75" textLength="66.7" lengthAdjust="spacingAndGlyphs" stroke="#000" stroke-width="0.35">Tumor</text>
<rect x="128.4" y="1042.5" width="14" height="49.1" fill="#6b97c3"/>
<rect x="142.4" y="1016.2" width="14.4" height="75.4" fill="#c45b5d"/>
<line x1="135.4" y1="1038.8" x2="135.4" y2="1046.5" stroke="#000" stroke-width="2.2"/>
<line x1="131.9" y1="1038.8" x2="138.9" y2="1038.8" stroke="#000" stroke-width="2.2"/>
<line x1="131.9" y1="1046.5" x2="138.9" y2="1046.5" stroke="#000" stroke-width="2.2"/>
<line x1="149.6" y1="1005" x2="149.6" y2="1026.3" stroke="#000" stroke-width="2.2"/>
<line x1="146.1" y1="1005" x2="153.1" y2="1005" stroke="#000" stroke-width="2.2"/>
<line x1="146.1" y1="1026.3" x2="153.1" y2="1026.3" stroke="#000" stroke-width="2.2"/>
<text x="149.6" y="1002.56" font-size="24" text-anchor="middle" fill="#333" stroke="#333" stroke-width="0.25">*</text>
<text x="142.4" y="1121" text-anchor="middle" stroke="#000" stroke-width="0.35">#1</text>
<rect x="170.87" y="1042.5" width="14" height="49.1" fill="#6b97c3"/>
<rect x="184.87" y="1010.5" width="14.4" height="81.1" fill="#c45b5d"/>
<line x1="177.87" y1="1036.4" x2="177.87" y2="1048.6" stroke="#000" stroke-width="2.2"/>
<line x1="174.37" y1="1036.4" x2="181.37" y2="1036.4" stroke="#000" stroke-width="2.2"/>
<line x1="174.37" y1="1048.6" x2="181.37" y2="1048.6" stroke="#000" stroke-width="2.2"/>
<line x1="192.07" y1="1004.5" x2="192.07" y2="1016.2" stroke="#000" stroke-width="2.2"/>
<line x1="188.57" y1="1004.5" x2="195.57" y2="1004.5" stroke="#000" stroke-width="2.2"/>
<line x1="188.57" y1="1016.2" x2="195.57" y2="1016.2" stroke="#000" stroke-width="2.2"/>
<text x="192.07" y="1003.56" font-size="24" text-anchor="middle" fill="#333" stroke="#333" stroke-width="0.25">*</text>
<text x="184.87" y="1121" text-anchor="middle" stroke="#000" stroke-width="0.35">#2</text>
<rect x="213.34" y="1042.5" width="14" height="49.1" fill="#6b97c3"/>
<rect x="227.34" y="998" width="14.4" height="93.6" fill="#c45b5d"/>
<line x1="220.34" y1="1034.5" x2="220.34" y2="1049.5" stroke="#000" stroke-width="2.2"/>
<line x1="216.84" y1="1034.5" x2="223.84" y2="1034.5" stroke="#000" stroke-width="2.2"/>
<line x1="216.84" y1="1049.5" x2="223.84" y2="1049.5" stroke="#000" stroke-width="2.2"/>
<line x1="234.54" y1="994" x2="234.54" y2="1001.5" stroke="#000" stroke-width="2.2"/>
<line x1="231.04" y1="994" x2="238.04" y2="994" stroke="#000" stroke-width="2.2"/>
<line x1="231.04" y1="1001.5" x2="238.04" y2="1001.5" stroke="#000" stroke-width="2.2"/>
<text x="228.89" y="996.56" font-size="24" text-anchor="middle" fill="#333" stroke="#333" stroke-width="0.25">*</text>
<text x="240.19" y="996.56" font-size="24" text-anchor="middle" fill="#333" stroke="#333" stroke-width="0.25">*</text>
<text x="227.34" y="1121" text-anchor="middle" stroke="#000" stroke-width="0.35">#3</text>
<rect x="255.81" y="1042.5" width="14" height="49.1" fill="#6b97c3"/>
<rect x="269.81" y="918.7" width="14.4" height="172.9" fill="#c45b5d"/>
<line x1="262.81" y1="1035" x2="262.81" y2="1049" stroke="#000" stroke-width="2.2"/>
<line x1="259.31" y1="1035" x2="266.31" y2="1035" stroke="#000" stroke-width="2.2"/>
<line x1="259.31" y1="1049" x2="266.31" y2="1049" stroke="#000" stroke-width="2.2"/>
<line x1="277.01" y1="913.5" x2="277.01" y2="924" stroke="#000" stroke-width="2.2"/>
<line x1="273.51" y1="913.5" x2="280.51" y2="913.5" stroke="#000" stroke-width="2.2"/>
<line x1="273.51" y1="924" x2="280.51" y2="924" stroke="#000" stroke-width="2.2"/>
<text x="267.31" y="915.56" font-size="24" text-anchor="middle" fill="#333" stroke="#333" stroke-width="0.25">*</text>
<text x="277.01" y="915.56" font-size="24" text-anchor="middle" fill="#333" stroke="#333" stroke-width="0.25">*</text>
<text x="286.71" y="915.56" font-size="24" text-anchor="middle" fill="#333" stroke="#333" stroke-width="0.25">*</text>
<text x="269.81" y="1121" text-anchor="middle" stroke="#000" stroke-width="0.35">#4</text>
<rect x="298.28" y="1042.5" width="14" height="49.1" fill="#6b97c3"/>
<rect x="312.28" y="992" width="14.4" height="99.6" fill="#c45b5d"/>
<line x1="305.28" y1="1035" x2="305.28" y2="1049" stroke="#000" stroke-width="2.2"/>
<line x1="301.78" y1="1035" x2="308.78" y2="1035" stroke="#000" stroke-width="2.2"/>
<line x1="301.78" y1="1049" x2="308.78" y2="1049" stroke="#000" stroke-width="2.2"/>
<line x1="319.48" y1="985.3" x2="319.48" y2="998.8" stroke="#000" stroke-width="2.2"/>
<line x1="315.98" y1="985.3" x2="322.98" y2="985.3" stroke="#000" stroke-width="2.2"/>
<line x1="315.98" y1="998.8" x2="322.98" y2="998.8" stroke="#000" stroke-width="2.2"/>
<text x="319.48" y="981.56" font-size="24" text-anchor="middle" fill="#333" stroke="#333" stroke-width="0.25">*</text>
<text x="312.28" y="1121" text-anchor="middle" stroke="#000" stroke-width="0.35">#5</text>
<rect x="340.75" y="1042.5" width="14" height="49.1" fill="#6b97c3"/>
<rect x="354.75" y="1052.9" width="14.4" height="38.7" fill="#c45b5d"/>
<line x1="347.75" y1="1040.5" x2="347.75" y2="1044.5" stroke="#000" stroke-width="2.2"/>
<line x1="344.25" y1="1040.5" x2="351.25" y2="1040.5" stroke="#000" stroke-width="2.2"/>
<line x1="344.25" y1="1044.5" x2="351.25" y2="1044.5" stroke="#000" stroke-width="2.2"/>
<line x1="361.95" y1="1049.4" x2="361.95" y2="1056" stroke="#000" stroke-width="2.2"/>
<line x1="358.45" y1="1049.4" x2="365.45" y2="1049.4" stroke="#000" stroke-width="2.2"/>
<line x1="358.45" y1="1056" x2="365.45" y2="1056" stroke="#000" stroke-width="2.2"/>
<text x="354.75" y="1121" text-anchor="middle" stroke="#000" stroke-width="0.35">#6</text>
<rect x="383.22" y="1042.5" width="14" height="49.1" fill="#6b97c3"/>
<rect x="397.22" y="977.9" width="14.4" height="113.7" fill="#c45b5d"/>
<line x1="390.22" y1="1034" x2="390.22" y2="1049.8" stroke="#000" stroke-width="2.2"/>
<line x1="386.72" y1="1034" x2="393.72" y2="1034" stroke="#000" stroke-width="2.2"/>
<line x1="386.72" y1="1049.8" x2="393.72" y2="1049.8" stroke="#000" stroke-width="2.2"/>
<line x1="404.42" y1="975.8" x2="404.42" y2="980" stroke="#000" stroke-width="2.2"/>
<line x1="400.92" y1="975.8" x2="407.92" y2="975.8" stroke="#000" stroke-width="2.2"/>
<line x1="400.92" y1="980" x2="407.92" y2="980" stroke="#000" stroke-width="2.2"/>
<text x="394.72" y="977.56" font-size="24" text-anchor="middle" fill="#333" stroke="#333" stroke-width="0.25">*</text>
<text x="404.42" y="977.56" font-size="24" text-anchor="middle" fill="#333" stroke="#333" stroke-width="0.25">*</text>
<text x="414.12" y="977.56" font-size="24" text-anchor="middle" fill="#333" stroke="#333" stroke-width="0.25">*</text>
<text x="397.22" y="1121" text-anchor="middle" stroke="#000" stroke-width="0.35">#7</text>
<rect x="425.69" y="1042.5" width="14" height="49.1" fill="#6b97c3"/>
<rect x="439.69" y="945" width="14.4" height="146.6" fill="#c45b5d"/>
<line x1="432.69" y1="1041.5" x2="432.69" y2="1043.5" stroke="#000" stroke-width="2.2"/>
<line x1="429.19" y1="1041.5" x2="436.19" y2="1041.5" stroke="#000" stroke-width="2.2"/>
<line x1="429.19" y1="1043.5" x2="436.19" y2="1043.5" stroke="#000" stroke-width="2.2"/>
<line x1="446.89" y1="944" x2="446.89" y2="946.3" stroke="#000" stroke-width="2.2"/>
<line x1="443.39" y1="944" x2="450.39" y2="944" stroke="#000" stroke-width="2.2"/>
<line x1="443.39" y1="946.3" x2="450.39" y2="946.3" stroke="#000" stroke-width="2.2"/>
<text x="437.19" y="942.36" font-size="24" text-anchor="middle" fill="#333" stroke="#333" stroke-width="0.25">*</text>
<text x="446.89" y="942.36" font-size="24" text-anchor="middle" fill="#333" stroke="#333" stroke-width="0.25">*</text>
<text x="456.59" y="942.36" font-size="24" text-anchor="middle" fill="#333" stroke="#333" stroke-width="0.25">*</text>
<text x="439.69" y="1121" text-anchor="middle" stroke="#000" stroke-width="0.35">#8</text>
<rect x="468.16" y="1042.5" width="14" height="49.1" fill="#6b97c3"/>
<rect x="482.16" y="931.5" width="14.4" height="160.1" fill="#c45b5d"/>
<line x1="475.16" y1="1036" x2="475.16" y2="1048" stroke="#000" stroke-width="2.2"/>
<line x1="471.66" y1="1036" x2="478.66" y2="1036" stroke="#000" stroke-width="2.2"/>
<line x1="471.66" y1="1048" x2="478.66" y2="1048" stroke="#000" stroke-width="2.2"/>
<line x1="489.36" y1="930" x2="489.36" y2="932.7" stroke="#000" stroke-width="2.2"/>
<line x1="485.86" y1="930" x2="492.86" y2="930" stroke="#000" stroke-width="2.2"/>
<line x1="485.86" y1="932.7" x2="492.86" y2="932.7" stroke="#000" stroke-width="2.2"/>
<text x="479.66" y="929.56" font-size="24" text-anchor="middle" fill="#333" stroke="#333" stroke-width="0.25">*</text>
<text x="489.36" y="929.56" font-size="24" text-anchor="middle" fill="#333" stroke="#333" stroke-width="0.25">*</text>
<text x="499.06" y="929.56" font-size="24" text-anchor="middle" fill="#333" stroke="#333" stroke-width="0.25">*</text>
<text x="482.16" y="1121" text-anchor="middle" stroke="#000" stroke-width="0.35">#9</text>
<rect x="510.63" y="1042.5" width="14" height="49.1" fill="#6b97c3"/>
<rect x="524.63" y="1021" width="14.4" height="70.6" fill="#c45b5d"/>
<line x1="517.63" y1="1041" x2="517.63" y2="1044" stroke="#000" stroke-width="2.2"/>
<line x1="514.13" y1="1041" x2="521.13" y2="1041" stroke="#000" stroke-width="2.2"/>
<line x1="514.13" y1="1044" x2="521.13" y2="1044" stroke="#000" stroke-width="2.2"/>
<line x1="531.83" y1="1017" x2="531.83" y2="1025" stroke="#000" stroke-width="2.2"/>
<line x1="528.33" y1="1017" x2="535.33" y2="1017" stroke="#000" stroke-width="2.2"/>
<line x1="528.33" y1="1025" x2="535.33" y2="1025" stroke="#000" stroke-width="2.2"/>
<text x="531.83" y="1015.56" font-size="24" text-anchor="middle" fill="#333" stroke="#333" stroke-width="0.25">*</text>
<text x="524.63" y="1121" text-anchor="middle" stroke="#000" stroke-width="0.35">#10</text>
<rect x="553.1" y="1042.5" width="14" height="49.1" fill="#6b97c3"/>
<rect x="567.1" y="1022" width="14.4" height="69.6" fill="#c45b5d"/>
<line x1="560.1" y1="1040" x2="560.1" y2="1045" stroke="#000" stroke-width="2.2"/>
<line x1="556.6" y1="1040" x2="563.6" y2="1040" stroke="#000" stroke-width="2.2"/>
<line x1="556.6" y1="1045" x2="563.6" y2="1045" stroke="#000" stroke-width="2.2"/>
<line x1="574.3" y1="1016.5" x2="574.3" y2="1027.5" stroke="#000" stroke-width="2.2"/>
<line x1="570.8" y1="1016.5" x2="577.8" y2="1016.5" stroke="#000" stroke-width="2.2"/>
<line x1="570.8" y1="1027.5" x2="577.8" y2="1027.5" stroke="#000" stroke-width="2.2"/>
<text x="574.3" y="1013.26" font-size="24" text-anchor="middle" fill="#333" stroke="#333" stroke-width="0.25">*</text>
<text x="567.1" y="1121" text-anchor="middle" stroke="#000" stroke-width="0.35">#11</text>
<rect x="595.57" y="1042.5" width="14" height="49.1" fill="#6b97c3"/>
<rect x="609.57" y="1052.9" width="14.4" height="38.7" fill="#c45b5d"/>
<line x1="602.57" y1="1041" x2="602.57" y2="1044" stroke="#000" stroke-width="2.2"/>
<line x1="599.07" y1="1041" x2="606.07" y2="1041" stroke="#000" stroke-width="2.2"/>
<line x1="599.07" y1="1044" x2="606.07" y2="1044" stroke="#000" stroke-width="2.2"/>
<line x1="616.77" y1="1049.4" x2="616.77" y2="1056" stroke="#000" stroke-width="2.2"/>
<line x1="613.27" y1="1049.4" x2="620.27" y2="1049.4" stroke="#000" stroke-width="2.2"/>
<line x1="613.27" y1="1056" x2="620.27" y2="1056" stroke="#000" stroke-width="2.2"/>
<text x="609.57" y="1121" text-anchor="middle" stroke="#000" stroke-width="0.35">#12</text>
<rect x="269.31" y="960.6" width="15.4" height="7.1" fill="#fff"/>
<rect x="439.19" y="960.6" width="15.4" height="7.1" fill="#fff"/>
<rect x="481.66" y="960.6" width="15.4" height="7.1" fill="#fff"/>
<line x1="121.3" y1="878.5" x2="121.3" y2="960.6" stroke="#000" stroke-width="2.4"/>
<line x1="121.3" y1="967.7" x2="121.3" y2="1092.8" stroke="#000" stroke-width="2.4"/>
<line x1="109" y1="960.6" x2="132.5" y2="960.6" stroke="#000" stroke-width="2.4"/>
<line x1="109" y1="967.7" x2="132.5" y2="967.7" stroke="#000" stroke-width="2.4"/>
<line x1="114.9" y1="879.7" x2="121.3" y2="879.7" stroke="#000" stroke-width="2.4"/>
<text x="105.3" y="887.7" text-anchor="end" stroke="#000" stroke-width="0.35">8.0</text>
<line x1="114.9" y1="938.7" x2="121.3" y2="938.7" stroke="#000" stroke-width="2.4"/>
<text x="105.3" y="946.7" text-anchor="end" stroke="#000" stroke-width="0.35">4.0</text>
<line x1="114.9" y1="992.3" x2="121.3" y2="992.3" stroke="#000" stroke-width="2.4"/>
<text x="105.3" y="1000.3" text-anchor="end" stroke="#000" stroke-width="0.35">2.0</text>
<line x1="114.9" y1="1042.5" x2="121.3" y2="1042.5" stroke="#000" stroke-width="2.4"/>
<text x="105.3" y="1050.5" text-anchor="end" stroke="#000" stroke-width="0.35">1.0</text>
<line x1="114.9" y1="1091.6" x2="121.3" y2="1091.6" stroke="#000" stroke-width="2.4"/>
<text x="105.3" y="1099.6" text-anchor="end" stroke="#000" stroke-width="0.35">0.0</text>
<line x1="120.1" y1="1091.6" x2="631.4" y2="1091.6" stroke="#000" stroke-width="2.4"/>
<text x="945.3" y="856.5" font-size="23" text-anchor="middle" stroke="#000" stroke-width="0.35">MTA3</text>
<text x="673" y="981" text-anchor="middle" transform="rotate(-90 673 981)" stroke="#000" stroke-width="0.35">Relative level of mRNA</text>
<rect x="1041.25" y="876.25" width="18.3" height="14" fill="#6b97c3"/>
<text x="1064.6" y="888.9" textLength="66.7" lengthAdjust="spacingAndGlyphs" stroke="#000" stroke-width="0.35">Normal</text>
<rect x="1138.5" y="876.25" width="18.3" height="14" fill="#c45b5d"/>
<text x="1161.5" y="888.9" textLength="66.7" lengthAdjust="spacingAndGlyphs" stroke="#000" stroke-width="0.35">Tumor</text>
<rect x="735" y="950.8" width="14" height="141.1" fill="#6b97c3"/>
<rect x="749" y="1036.25" width="14.2" height="55.65" fill="#c45b5d"/>
<line x1="742" y1="941.9" x2="742" y2="959.2" stroke="#000" stroke-width="2.2"/>
<line x1="738.5" y1="941.9" x2="745.5" y2="941.9" stroke="#000" stroke-width="2.2"/>
<line x1="738.5" y1="959.2" x2="745.5" y2="959.2" stroke="#000" stroke-width="2.2"/>
<line x1="756.1" y1="1029.4" x2="756.1" y2="1043" stroke="#000" stroke-width="2.2"/>
<line x1="752.6" y1="1029.4" x2="759.6" y2="1029.4" stroke="#000" stroke-width="2.2"/>
<line x1="752.6" y1="1043" x2="759.6" y2="1043" stroke="#000" stroke-width="2.2"/>
<text x="753.3" y="1035.56" font-size="24" text-anchor="middle" fill="#333" stroke="#333" stroke-width="0.25">*</text>
<text x="765.1" y="1035.56" font-size="24" text-anchor="middle" fill="#333" stroke="#333" stroke-width="0.25">*</text>
<text x="749" y="1120" text-anchor="middle" stroke="#000" stroke-width="0.35">#1</text>
<rect x="777.47" y="945" width="14" height="146.9" fill="#6b97c3"/>
<rect x="791.47" y="988.75" width="14.2" height="103.15" fill="#c45b5d"/>
<line x1="784.47" y1="932" x2="784.47" y2="958" stroke="#000" stroke-width="2.2"/>
<line x1="780.97" y1="932" x2="787.97" y2="932" stroke="#000" stroke-width="2.2"/>
<line x1="780.97" y1="958" x2="787.97" y2="958" stroke="#000" stroke-width="2.2"/>
<line x1="798.57" y1="979.4" x2="798.57" y2="998" stroke="#000" stroke-width="2.2"/>
<line x1="795.07" y1="979.4" x2="802.07" y2="979.4" stroke="#000" stroke-width="2.2"/>
<line x1="795.07" y1="998" x2="802.07" y2="998" stroke="#000" stroke-width="2.2"/>
<text x="797.7" y="980.31" font-size="24" text-anchor="middle" fill="#333" stroke="#333" stroke-width="0.25">*</text>
<text x="791.47" y="1120" text-anchor="middle" stroke="#000" stroke-width="0.35">#2</text>
<rect x="819.94" y="950.8" width="14" height="141.1" fill="#6b97c3"/>
<rect x="833.94" y="995.4" width="14.2" height="96.5" fill="#c45b5d"/>
<line x1="826.94" y1="942" x2="826.94" y2="959" stroke="#000" stroke-width="2.2"/>
<line x1="823.44" y1="942" x2="830.44" y2="942" stroke="#000" stroke-width="2.2"/>
<line x1="823.44" y1="959" x2="830.44" y2="959" stroke="#000" stroke-width="2.2"/>
<line x1="841.04" y1="988.3" x2="841.04" y2="1001.7" stroke="#000" stroke-width="2.2"/>
<line x1="837.54" y1="988.3" x2="844.54" y2="988.3" stroke="#000" stroke-width="2.2"/>
<line x1="837.54" y1="1001.7" x2="844.54" y2="1001.7" stroke="#000" stroke-width="2.2"/>
<text x="840.3" y="986.56" font-size="24" text-anchor="middle" fill="#333" stroke="#333" stroke-width="0.25">*</text>
<text x="833.94" y="1120" text-anchor="middle" stroke="#000" stroke-width="0.35">#3</text>
<rect x="862.41" y="950.8" width="14" height="141.1" fill="#6b97c3"/>
<rect x="876.41" y="1010.6" width="14.2" height="81.3" fill="#c45b5d"/>
<line x1="869.41" y1="938.3" x2="869.41" y2="963.3" stroke="#000" stroke-width="2.2"/>
<line x1="865.91" y1="938.3" x2="872.91" y2="938.3" stroke="#000" stroke-width="2.2"/>
<line x1="865.91" y1="963.3" x2="872.91" y2="963.3" stroke="#000" stroke-width="2.2"/>
<line x1="883.51" y1="1002.7" x2="883.51" y2="1018.3" stroke="#000" stroke-width="2.2"/>
<line x1="880.01" y1="1002.7" x2="887.01" y2="1002.7" stroke="#000" stroke-width="2.2"/>
<line x1="880.01" y1="1018.3" x2="887.01" y2="1018.3" stroke="#000" stroke-width="2.2"/>
<text x="884.9" y="1001.16" font-size="24" text-anchor="middle" fill="#333" stroke="#333" stroke-width="0.25">*</text>
<text x="876.41" y="1120" text-anchor="middle" stroke="#000" stroke-width="0.35">#4</text>
<rect x="904.88" y="946" width="14" height="145.9" fill="#6b97c3"/>
<rect x="918.88" y="1009" width="14.2" height="82.9" fill="#c45b5d"/>
<line x1="911.88" y1="939.8" x2="911.88" y2="951.25" stroke="#000" stroke-width="2.2"/>
<line x1="908.38" y1="939.8" x2="915.38" y2="939.8" stroke="#000" stroke-width="2.2"/>
<line x1="908.38" y1="951.25" x2="915.38" y2="951.25" stroke="#000" stroke-width="2.2"/>
<line x1="925.98" y1="1004.4" x2="925.98" y2="1012.7" stroke="#000" stroke-width="2.2"/>
<line x1="922.48" y1="1004.4" x2="929.48" y2="1004.4" stroke="#000" stroke-width="2.2"/>
<line x1="922.48" y1="1012.7" x2="929.48" y2="1012.7" stroke="#000" stroke-width="2.2"/>
<text x="927.5" y="1001.16" font-size="24" text-anchor="middle" fill="#333" stroke="#333" stroke-width="0.25">*</text>
<text x="918.88" y="1120" text-anchor="middle" stroke="#000" stroke-width="0.35">#5</text>
<rect x="947.35" y="950.8" width="14" height="141.1" fill="#6b97c3"/>
<rect x="961.35" y="951.25" width="14.2" height="140.65" fill="#c45b5d"/>
<line x1="954.35" y1="934" x2="954.35" y2="966" stroke="#000" stroke-width="2.2"/>
<line x1="950.85" y1="934" x2="957.85" y2="934" stroke="#000" stroke-width="2.2"/>
<line x1="950.85" y1="966" x2="957.85" y2="966" stroke="#000" stroke-width="2.2"/>
<line x1="968.45" y1="938.3" x2="968.45" y2="964.2" stroke="#000" stroke-width="2.2"/>
<line x1="964.95" y1="938.3" x2="971.95" y2="938.3" stroke="#000" stroke-width="2.2"/>
<line x1="964.95" y1="964.2" x2="971.95" y2="964.2" stroke="#000" stroke-width="2.2"/>
<text x="961.35" y="1120" text-anchor="middle" stroke="#000" stroke-width="0.35">#6</text>
<rect x="989.82" y="950.8" width="14" height="141.1" fill="#6b97c3"/>
<rect x="1003.82" y="973" width="14.2" height="118.9" fill="#c45b5d"/>
<line x1="996.82" y1="939.8" x2="996.82" y2="961.7" stroke="#000" stroke-width="2.2"/>
<line x1="993.32" y1="939.8" x2="1000.32" y2="939.8" stroke="#000" stroke-width="2.2"/>
<line x1="993.32" y1="961.7" x2="1000.32" y2="961.7" stroke="#000" stroke-width="2.2"/>
<line x1="1010.92" y1="965.8" x2="1010.92" y2="980.4" stroke="#000" stroke-width="2.2"/>
<line x1="1007.42" y1="965.8" x2="1014.42" y2="965.8" stroke="#000" stroke-width="2.2"/>
<line x1="1007.42" y1="980.4" x2="1014.42" y2="980.4" stroke="#000" stroke-width="2.2"/>
<text x="1011.5" y="970.96" font-size="24" text-anchor="middle" fill="#333" stroke="#333" stroke-width="0.25">*</text>
<text x="1003.82" y="1120" text-anchor="middle" stroke="#000" stroke-width="0.35">#7</text>
<rect x="1032.29" y="950.8" width="14" height="141.1" fill="#6b97c3"/>
<rect x="1046.29" y="1044.6" width="14.2" height="47.3" fill="#c45b5d"/>
<line x1="1039.29" y1="943.3" x2="1039.29" y2="958" stroke="#000" stroke-width="2.2"/>
<line x1="1035.79" y1="943.3" x2="1042.79" y2="943.3" stroke="#000" stroke-width="2.2"/>
<line x1="1035.79" y1="958" x2="1042.79" y2="958" stroke="#000" stroke-width="2.2"/>
<line x1="1053.39" y1="1030" x2="1053.39" y2="1059" stroke="#000" stroke-width="2.2"/>
<line x1="1049.89" y1="1030" x2="1056.89" y2="1030" stroke="#000" stroke-width="2.2"/>
<line x1="1049.89" y1="1059" x2="1056.89" y2="1059" stroke="#000" stroke-width="2.2"/>
<text x="1050.8" y="1032.36" font-size="24" text-anchor="middle" fill="#333" stroke="#333" stroke-width="0.25">*</text>
<text x="1060.5" y="1032.36" font-size="24" text-anchor="middle" fill="#333" stroke="#333" stroke-width="0.25">*</text>
<text x="1070.2" y="1032.36" font-size="24" text-anchor="middle" fill="#333" stroke="#333" stroke-width="0.25">*</text>
<text x="1046.29" y="1120" text-anchor="middle" stroke="#000" stroke-width="0.35">#8</text>
<rect x="1074.76" y="950.8" width="14" height="141.1" fill="#6b97c3"/>
<rect x="1088.76" y="1048" width="14.2" height="43.9" fill="#c45b5d"/>
<line x1="1081.76" y1="946.5" x2="1081.76" y2="954.8" stroke="#000" stroke-width="2.2"/>
<line x1="1078.26" y1="946.5" x2="1085.26" y2="946.5" stroke="#000" stroke-width="2.2"/>
<line x1="1078.26" y1="954.8" x2="1085.26" y2="954.8" stroke="#000" stroke-width="2.2"/>
<line x1="1095.86" y1="1046" x2="1095.86" y2="1049.8" stroke="#000" stroke-width="2.2"/>
<line x1="1092.36" y1="1046" x2="1099.36" y2="1046" stroke="#000" stroke-width="2.2"/>
<line x1="1092.36" y1="1049.8" x2="1099.36" y2="1049.8" stroke="#000" stroke-width="2.2"/>
<text x="1093.3" y="1037.56" font-size="24" text-anchor="middle" fill="#333" stroke="#333" stroke-width="0.25">*</text>
<text x="1103" y="1037.56" font-size="24" text-anchor="middle" fill="#333" stroke="#333" stroke-width="0.25">*</text>
<text x="1112.7" y="1037.56" font-size="24" text-anchor="middle" fill="#333" stroke="#333" stroke-width="0.25">*</text>
<text x="1088.76" y="1120" text-anchor="middle" stroke="#000" stroke-width="0.35">#9</text>
<rect x="1117.23" y="950.8" width="14" height="141.1" fill="#6b97c3"/>
<rect x="1131.23" y="987.3" width="14.2" height="104.6" fill="#c45b5d"/>
<line x1="1124.23" y1="945.6" x2="1124.23" y2="956.5" stroke="#000" stroke-width="2.2"/>
<line x1="1120.73" y1="945.6" x2="1127.73" y2="945.6" stroke="#000" stroke-width="2.2"/>
<line x1="1120.73" y1="956.5" x2="1127.73" y2="956.5" stroke="#000" stroke-width="2.2"/>
<line x1="1138.33" y1="980.8" x2="1138.33" y2="993.3" stroke="#000" stroke-width="2.2"/>
<line x1="1134.83" y1="980.8" x2="1141.83" y2="980.8" stroke="#000" stroke-width="2.2"/>
<line x1="1134.83" y1="993.3" x2="1141.83" y2="993.3" stroke="#000" stroke-width="2.2"/>
<text x="1140.2" y="983.56" font-size="24" text-anchor="middle" fill="#333" stroke="#333" stroke-width="0.25">*</text>
<text x="1131.23" y="1120" text-anchor="middle" stroke="#000" stroke-width="0.35">#10</text>
<rect x="1159.7" y="950.8" width="14" height="141.1" fill="#6b97c3"/>
<rect x="1173.7" y="981" width="14.2" height="110.9" fill="#c45b5d"/>
<line x1="1166.7" y1="940.4" x2="1166.7" y2="960.6" stroke="#000" stroke-width="2.2"/>
<line x1="1163.2" y1="940.4" x2="1170.2" y2="940.4" stroke="#000" stroke-width="2.2"/>
<line x1="1163.2" y1="960.6" x2="1170.2" y2="960.6" stroke="#000" stroke-width="2.2"/>
<line x1="1180.8" y1="974.6" x2="1180.8" y2="986.7" stroke="#000" stroke-width="2.2"/>
<line x1="1177.3" y1="974.6" x2="1184.3" y2="974.6" stroke="#000" stroke-width="2.2"/>
<line x1="1177.3" y1="986.7" x2="1184.3" y2="986.7" stroke="#000" stroke-width="2.2"/>
<text x="1182.3" y="974.06" font-size="24" text-anchor="middle" fill="#333" stroke="#333" stroke-width="0.25">*</text>
<text x="1173.7" y="1120" text-anchor="middle" stroke="#000" stroke-width="0.35">#11</text>
<rect x="1202.17" y="950.8" width="14" height="141.1" fill="#6b97c3"/>
<rect x="1216.17" y="946.5" width="14.2" height="145.4" fill="#c45b5d"/>
<line x1="1209.17" y1="943" x2="1209.17" y2="958" stroke="#000" stroke-width="2.2"/>
<line x1="1205.67" y1="943" x2="1212.67" y2="943" stroke="#000" stroke-width="2.2"/>
<line x1="1205.67" y1="958" x2="1212.67" y2="958" stroke="#000" stroke-width="2.2"/>
<line x1="1223.27" y1="941.5" x2="1223.27" y2="950.8" stroke="#000" stroke-width="2.2"/>
<line x1="1219.77" y1="941.5" x2="1226.77" y2="941.5" stroke="#000" stroke-width="2.2"/>
<line x1="1219.77" y1="950.8" x2="1226.77" y2="950.8" stroke="#000" stroke-width="2.2"/>
<text x="1216.17" y="1120" text-anchor="middle" stroke="#000" stroke-width="0.35">#12</text>
<line x1="727.7" y1="878.2" x2="727.7" y2="1093.1" stroke="#000" stroke-width="2.4"/>
<line x1="721.5" y1="879.4" x2="727.7" y2="879.4" stroke="#000" stroke-width="2.4"/>
<text x="711.7" y="887.4" text-anchor="end" stroke="#000" stroke-width="0.35">1.5</text>
<line x1="721.5" y1="950.23" x2="727.7" y2="950.23" stroke="#000" stroke-width="2.4"/>
<text x="711.7" y="958.23" text-anchor="end" stroke="#000" stroke-width="0.35">1.0</text>
<line x1="721.5" y1="1021.07" x2="727.7" y2="1021.07" stroke="#000" stroke-width="2.4"/>
<text x="711.7" y="1029.07" text-anchor="end" stroke="#000" stroke-width="0.35">0.5</text>
<line x1="721.5" y1="1091.9" x2="727.7" y2="1091.9" stroke="#000" stroke-width="2.4"/>
<text x="711.7" y="1099.9" text-anchor="end" stroke="#000" stroke-width="0.35">0.0</text>
<line x1="726.5" y1="1091.9" x2="1237.5" y2="1091.9" stroke="#000" stroke-width="2.4"/>
<text x="1291.5" y="824.9" font-size="36" font-weight="bold">E</text>
<rect x="1394.7" y="913.7" width="256.2" height="32.4" fill="#c3c3c3"/>
<rect x="1394.7" y="954.8" width="256.2" height="31.9" fill="#d1d1d1"/>
<rect x="1394.7" y="995" width="256.2" height="32.5" fill="#cdcdcd"/>
<rect x="1412" y="927.95" width="10" height="5.5" rx="2.75" fill="#acacac" filter="url(#bl2)"/>
<rect x="1423" y="927.95" width="10" height="5.5" rx="2.75" fill="#acacac" filter="url(#bl2)"/>
<rect x="1451" y="928.2" width="24" height="5" rx="2.5" fill="#b0b0b0" filter="url(#bl2)"/>
<rect x="1494.5" y="927.95" width="9" height="5.5" rx="2.75" fill="#acacac" filter="url(#bl2)"/>
<rect x="1505.5" y="927.95" width="9" height="5.5" rx="2.75" fill="#acacac" filter="url(#bl2)"/>
<rect x="1533" y="928.2" width="10" height="5" rx="2.5" fill="#b2b2b2" filter="url(#bl2)"/>
<rect x="1573.5" y="927.45" width="23" height="6.5" rx="3.25" fill="#6a6a6a" filter="url(#bl2)"/>
<rect x="1575" y="927.45" width="10" height="6.5" rx="3.25" fill="#4a4a4a" filter="url(#bl2)"/>
<rect x="1614" y="926.95" width="26" height="7.5" rx="3.75" fill="#262626" filter="url(#bl2)"/>
<rect x="1627" y="926.95" width="12" height="7.5" rx="3.75" fill="#111111" filter="url(#bl2)"/>
<rect x="1405.75" y="965.15" width="31.5" height="11.5" rx="5.75" fill="#050505" filter="url(#bl2)"/>
<rect x="1448.5" y="966.15" width="29" height="9.5" rx="4.75" fill="#0a0a0a" filter="url(#bl2)"/>
<rect x="1491" y="967.65" width="26" height="6.5" rx="3.25" fill="#1c1c1c" filter="url(#bl2)"/>
<rect x="1531" y="967.15" width="27" height="7.5" rx="3.75" fill="#0a0a0a" filter="url(#bl2)"/>
<rect x="1574" y="969.4" width="22" height="3" rx="1.5" fill="#bcbcbc" filter="url(#bl2)"/>
<rect x="1613" y="969.15" width="24" height="3.5" rx="1.75" fill="#b4b4b4" filter="url(#bl2)"/>
<rect x="1406.5" y="1007.25" width="33" height="11.5" rx="5.75" fill="#161616" filter="url(#bl2)"/>
<rect x="1445.8" y="1007.25" width="34" height="11.5" rx="5.75" fill="#161616" filter="url(#bl2)"/>
<rect x="1485.6" y="1007.25" width="34" height="11.5" rx="5.75" fill="#161616" filter="url(#bl2)"/>
<rect x="1526.8" y="1007.25" width="36" height="11.5" rx="5.75" fill="#161616" filter="url(#bl2)"/>
<rect x="1568.9" y="1007.25" width="33" height="11.5" rx="5.75" fill="#161616" filter="url(#bl2)"/>
<rect x="1609" y="1007.25" width="32" height="11.5" rx="5.75" fill="#161616" filter="url(#bl2)"/>
<rect x="1394.7" y="913.7" width="256.2" height="32.4" fill="none" stroke="#1a1a1a" stroke-width="1.8"/>
<rect x="1394.7" y="954.8" width="256.2" height="31.9" fill="none" stroke="#1a1a1a" stroke-width="1.8"/>
<rect x="1394.7" y="995" width="256.2" height="32.5" fill="none" stroke="#1a1a1a" stroke-width="1.8"/>
<text x="1384" y="941.5" text-anchor="end" stroke="#000" stroke-width="0.35">MTA1</text>
<text x="1384" y="980.5" text-anchor="end" stroke="#000" stroke-width="0.35">MTA3</text>
<text x="1384" y="1021.3" text-anchor="end" stroke="#000" stroke-width="0.35">β-actin</text>
<text x="1420.5" y="909" font-size="23" transform="rotate(-45 1420.5 909)" stroke="#000" stroke-width="0.35">MCF-7</text>
<text x="1463.5" y="906" font-size="23" transform="rotate(-45 1463.5 906)" stroke="#000" stroke-width="0.35">T-47D</text>
<text x="1503.5" y="907.5" font-size="23" transform="rotate(-45 1503.5 907.5)" stroke="#000" stroke-width="0.35">BT-474</text>
<text x="1544.5" y="907.5" font-size="23" transform="rotate(-45 1544.5 907.5)" stroke="#000" stroke-width="0.35">SK-BR-3</text>
<text x="1586" y="906" font-size="23" transform="rotate(-45 1586 906)" stroke="#000" stroke-width="0.35">SUM159</text>
<text x="1627.5" y="907.5" font-size="23" transform="rotate(-45 1627.5 907.5)" stroke="#000" stroke-width="0.35">MDA-MB-231</text>
<line x1="1408.6" y1="1035.3" x2="1475.8" y2="1035.3" stroke="#333" stroke-width="1.6"/>
<line x1="1484.4" y1="1035.3" x2="1517.8" y2="1035.3" stroke="#333" stroke-width="1.6"/>
<line x1="1530" y1="1035.3" x2="1563.3" y2="1035.3" stroke="#333" stroke-width="1.6"/>
<line x1="1580.3" y1="1035.3" x2="1647.8" y2="1035.3" stroke="#333" stroke-width="1.6"/>
<text x="1450.5" y="1055" font-size="23" text-anchor="end" transform="rotate(-45 1450.5 1055)" stroke="#000" stroke-width="0.35">Luminal A</text>
<text x="1506.5" y="1055" font-size="23" text-anchor="end" transform="rotate(-45 1506.5 1055)" stroke="#000" stroke-width="0.35">Luminal B</text>
<text x="1559" y="1055" font-size="23" text-anchor="end" transform="rotate(-45 1559 1055)" stroke="#000" stroke-width="0.35">HER2+</text>
<text x="1621" y="1055" font-size="23" text-anchor="end" transform="rotate(-45 1621 1055)" stroke="#000" stroke-width="0.35">Basal</text>
<text x="0.5" y="1183.5" font-size="36" font-weight="bold">F</text>
<text x="488" y="1222.7" text-anchor="middle" stroke="#000" stroke-width="0.35">MCF-7</text>
<line x1="122.5" y1="1231.6" x2="846" y2="1231.6" stroke="#000" stroke-width="1.8"/>
<text x="474.5" y="1543.5" text-anchor="middle" stroke="#000" stroke-width="0.35">MDA-MB-231</text>
<line x1="122.5" y1="1552.6" x2="846" y2="1552.6" stroke="#000" stroke-width="1.8"/>
<path d="M197.3 1447.9 L255.43 1431 L313.56 1413.3 L371.69 1402 L429.82 1380.8" fill="none" stroke="#6b9bd0" stroke-width="2.4"/>
<circle cx="197.3" cy="1447.9" r="2.4" fill="#6b9bd0"/>
<circle cx="255.43" cy="1431" r="2.4" fill="#6b9bd0"/>
<circle cx="313.56" cy="1413.3" r="2.4" fill="#6b9bd0"/>
<circle cx="371.69" cy="1402" r="2.4" fill="#6b9bd0"/>
<circle cx="429.82" cy="1380.8" r="2.4" fill="#6b9bd0"/>
<path d="M197.3 1447.9 L255.43 1424.5 L313.56 1394 L371.69 1358.9 L429.82 1337.2" fill="none" stroke="#c0504d" stroke-width="2.4"/>
<circle cx="197.3" cy="1447.9" r="2.4" fill="#c0504d"/>
<circle cx="255.43" cy="1424.5" r="2.4" fill="#c0504d"/>
<circle cx="313.56" cy="1394" r="2.4" fill="#c0504d"/>
<circle cx="371.69" cy="1358.9" r="2.4" fill="#c0504d"/>
<circle cx="429.82" cy="1337.2" r="2.4" fill="#c0504d"/>
<path d="M197.3 1447.9 L255.43 1439.2 L313.56 1438.6 L371.69 1436.4 L429.82 1435.2" fill="none" stroke="#ea8a3e" stroke-width="2.4"/>
<circle cx="197.3" cy="1447.9" r="2.4" fill="#ea8a3e"/>
<circle cx="255.43" cy="1439.2" r="2.4" fill="#ea8a3e"/>
<circle cx="313.56" cy="1438.6" r="2.4" fill="#ea8a3e"/>
<circle cx="371.69" cy="1436.4" r="2.4" fill="#ea8a3e"/>
<circle cx="429.82" cy="1435.2" r="2.4" fill="#ea8a3e"/>
<line x1="371.69" y1="1395.5" x2="371.69" y2="1408.5" stroke="#000" stroke-width="2.2"/>
<line x1="368.09" y1="1395.5" x2="375.29" y2="1395.5" stroke="#000" stroke-width="2.2"/>
<line x1="368.09" y1="1408.5" x2="375.29" y2="1408.5" stroke="#000" stroke-width="2.2"/>
<line x1="429.82" y1="1375.2" x2="429.82" y2="1386.5" stroke="#000" stroke-width="2.2"/>
<line x1="426.22" y1="1375.2" x2="433.42" y2="1375.2" stroke="#000" stroke-width="2.2"/>
<line x1="426.22" y1="1386.5" x2="433.42" y2="1386.5" stroke="#000" stroke-width="2.2"/>
<line x1="313.56" y1="1388" x2="313.56" y2="1399.7" stroke="#000" stroke-width="2.2"/>
<line x1="309.96" y1="1388" x2="317.16" y2="1388" stroke="#000" stroke-width="2.2"/>
<line x1="309.96" y1="1399.7" x2="317.16" y2="1399.7" stroke="#000" stroke-width="2.2"/>
<line x1="371.69" y1="1351.3" x2="371.69" y2="1366.2" stroke="#000" stroke-width="2.2"/>
<line x1="368.09" y1="1351.3" x2="375.29" y2="1351.3" stroke="#000" stroke-width="2.2"/>
<line x1="368.09" y1="1366.2" x2="375.29" y2="1366.2" stroke="#000" stroke-width="2.2"/>
<line x1="429.82" y1="1332" x2="429.82" y2="1341.9" stroke="#000" stroke-width="2.2"/>
<line x1="426.22" y1="1332" x2="433.42" y2="1332" stroke="#000" stroke-width="2.2"/>
<line x1="426.22" y1="1341.9" x2="433.42" y2="1341.9" stroke="#000" stroke-width="2.2"/>
<line x1="313.56" y1="1433.5" x2="313.56" y2="1444.5" stroke="#000" stroke-width="2.2"/>
<line x1="309.96" y1="1433.5" x2="317.16" y2="1433.5" stroke="#000" stroke-width="2.2"/>
<line x1="309.96" y1="1444.5" x2="317.16" y2="1444.5" stroke="#000" stroke-width="2.2"/>
<line x1="371.69" y1="1433.4" x2="371.69" y2="1439.4" stroke="#000" stroke-width="2.2"/>
<line x1="368.09" y1="1433.4" x2="375.29" y2="1433.4" stroke="#000" stroke-width="2.2"/>
<line x1="368.09" y1="1439.4" x2="375.29" y2="1439.4" stroke="#000" stroke-width="2.2"/>
<line x1="429.82" y1="1431" x2="429.82" y2="1440" stroke="#000" stroke-width="2.2"/>
<line x1="426.22" y1="1431" x2="433.42" y2="1431" stroke="#000" stroke-width="2.2"/>
<line x1="426.22" y1="1440" x2="433.42" y2="1440" stroke="#000" stroke-width="2.2"/>
<line x1="168.3" y1="1260.3" x2="168.3" y2="1466.1" stroke="#000" stroke-width="2.6"/>
<line x1="164.8" y1="1261.6" x2="168.3" y2="1261.6" stroke="#000" stroke-width="2.6"/>
<text x="0" y="0" transform="translate(155.8 1267.1) scale(1.06 1)" text-anchor="end" stroke="#000" stroke-width="0.35">12</text>
<line x1="164.8" y1="1329.33" x2="168.3" y2="1329.33" stroke="#000" stroke-width="2.6"/>
<text x="0" y="0" transform="translate(155.8 1334.83) scale(1.06 1)" text-anchor="end" stroke="#000" stroke-width="0.35">8</text>
<line x1="164.8" y1="1397.07" x2="168.3" y2="1397.07" stroke="#000" stroke-width="2.6"/>
<text x="0" y="0" transform="translate(155.8 1402.57) scale(1.06 1)" text-anchor="end" stroke="#000" stroke-width="0.35">4</text>
<line x1="164.8" y1="1464.8" x2="168.3" y2="1464.8" stroke="#000" stroke-width="2.6"/>
<text x="0" y="0" transform="translate(155.8 1470.3) scale(1.06 1)" text-anchor="end" stroke="#000" stroke-width="0.35">0</text>
<line x1="167.1" y1="1464.8" x2="439.7" y2="1464.8" stroke="#000" stroke-width="2.4"/>
<line x1="197.3" y1="1464.8" x2="197.3" y2="1468.8" stroke="#000" stroke-width="2.4"/>
<text x="0" y="0" transform="translate(197.3 1488) scale(1.06 1)" text-anchor="middle" stroke="#000" stroke-width="0.35">0</text>
<line x1="255.43" y1="1464.8" x2="255.43" y2="1468.8" stroke="#000" stroke-width="2.4"/>
<text x="0" y="0" transform="translate(255.43 1488) scale(1.06 1)" text-anchor="middle" stroke="#000" stroke-width="0.35">24</text>
<line x1="313.56" y1="1464.8" x2="313.56" y2="1468.8" stroke="#000" stroke-width="2.4"/>
<text x="0" y="0" transform="translate(313.56 1488) scale(1.06 1)" text-anchor="middle" stroke="#000" stroke-width="0.35">48</text>
<line x1="371.69" y1="1464.8" x2="371.69" y2="1468.8" stroke="#000" stroke-width="2.4"/>
<text x="0" y="0" transform="translate(371.69 1488) scale(1.06 1)" text-anchor="middle" stroke="#000" stroke-width="0.35">72</text>
<line x1="429.82" y1="1464.8" x2="429.82" y2="1468.8" stroke="#000" stroke-width="2.4"/>
<text x="0" y="0" transform="translate(429.82 1488) scale(1.06 1)" text-anchor="middle" stroke="#000" stroke-width="0.35">96</text>
<text x="316" y="1511.8" text-anchor="middle" stroke="#000" stroke-width="0.35">Time (h)</text>
<text x="118" y="1365.2" text-anchor="middle" transform="rotate(-90 118 1365.2)" font-size="22.5" stroke="#000" stroke-width="0.35">Cell number (10<tspan font-size="13" dy="-8">4</tspan><tspan dy="8"> cells)</tspan></text>
<line x1="181.8" y1="1273.2" x2="206.3" y2="1273.2" stroke="#6b9bd0" stroke-width="2.4"/>
<circle cx="194" cy="1273.2" r="2.3" fill="#6b9bd0"/>
<text x="219.3" y="1278.7" font-size="23" stroke="#000" stroke-width="0.35">Vector</text>
<line x1="181.8" y1="1306.8" x2="206.3" y2="1306.8" stroke="#c0504d" stroke-width="2.4"/>
<circle cx="194" cy="1306.8" r="2.3" fill="#c0504d"/>
<text x="219.3" y="1312.3" font-size="23" stroke="#000" stroke-width="0.35">MTA1</text>
<line x1="181.8" y1="1340.4" x2="206.3" y2="1340.4" stroke="#ea8a3e" stroke-width="2.4"/>
<circle cx="194" cy="1340.4" r="2.3" fill="#ea8a3e"/>
<text x="219.3" y="1345.9" font-size="23" stroke="#000" stroke-width="0.35">MTA3</text>
<path d="M439.7 1337.2 H454.3 V1378.6 H439.7" fill="none" stroke="#333" stroke-width="1.8"/>
<text x="463.7" y="1370.87" font-size="23" text-anchor="middle" fill="#333" stroke="#333" stroke-width="0.3">*</text>
<text x="476.3" y="1370.87" font-size="23" text-anchor="middle" fill="#333" stroke="#333" stroke-width="0.3">*</text>
<path d="M439.7 1391.3 H454.3 V1432.4 H439.7" fill="none" stroke="#333" stroke-width="1.8"/>
<text x="463.7" y="1421.87" font-size="23" text-anchor="middle" fill="#333" stroke="#333" stroke-width="0.3">*</text>
<text x="476.3" y="1421.87" font-size="23" text-anchor="middle" fill="#333" stroke="#333" stroke-width="0.3">*</text>
<path d="M654.9 1451.6 L713.4 1437.1 L771.9 1422.2 L830.4 1404.6 L888.9 1388.8" fill="none" stroke="#6b9bd0" stroke-width="2.4"/>
<circle cx="654.9" cy="1451.6" r="2.4" fill="#6b9bd0"/>
<circle cx="713.4" cy="1437.1" r="2.4" fill="#6b9bd0"/>
<circle cx="771.9" cy="1422.2" r="2.4" fill="#6b9bd0"/>
<circle cx="830.4" cy="1404.6" r="2.4" fill="#6b9bd0"/>
<circle cx="888.9" cy="1388.8" r="2.4" fill="#6b9bd0"/>
<path d="M654.9 1451.6 L713.4 1441.7 L771.9 1440 L830.4 1427.2 L888.9 1426.8" fill="none" stroke="#c0504d" stroke-width="2.4"/>
<circle cx="654.9" cy="1451.6" r="2.4" fill="#c0504d"/>
<circle cx="713.4" cy="1441.7" r="2.4" fill="#c0504d"/>
<circle cx="771.9" cy="1440" r="2.4" fill="#c0504d"/>
<circle cx="830.4" cy="1427.2" r="2.4" fill="#c0504d"/>
<circle cx="888.9" cy="1426.8" r="2.4" fill="#c0504d"/>
<path d="M654.9 1451.6 L713.4 1418.6 L771.9 1389.8 L830.4 1338.5 L888.9 1289.5" fill="none" stroke="#ea8a3e" stroke-width="2.4"/>
<circle cx="654.9" cy="1451.6" r="2.4" fill="#ea8a3e"/>
<circle cx="713.4" cy="1418.6" r="2.4" fill="#ea8a3e"/>
<circle cx="771.9" cy="1389.8" r="2.4" fill="#ea8a3e"/>
<circle cx="830.4" cy="1338.5" r="2.4" fill="#ea8a3e"/>
<circle cx="888.9" cy="1289.5" r="2.4" fill="#ea8a3e"/>
<line x1="771.9" y1="1419.5" x2="771.9" y2="1425.5" stroke="#000" stroke-width="2.2"/>
<line x1="768.3" y1="1419.5" x2="775.5" y2="1419.5" stroke="#000" stroke-width="2.2"/>
<line x1="768.3" y1="1425.5" x2="775.5" y2="1425.5" stroke="#000" stroke-width="2.2"/>
<line x1="830.4" y1="1398" x2="830.4" y2="1412" stroke="#000" stroke-width="2.2"/>
<line x1="826.8" y1="1398" x2="834" y2="1398" stroke="#000" stroke-width="2.2"/>
<line x1="826.8" y1="1412" x2="834" y2="1412" stroke="#000" stroke-width="2.2"/>
<line x1="888.9" y1="1379.8" x2="888.9" y2="1397.4" stroke="#000" stroke-width="2.2"/>
<line x1="885.3" y1="1379.8" x2="892.5" y2="1379.8" stroke="#000" stroke-width="2.2"/>
<line x1="885.3" y1="1397.4" x2="892.5" y2="1397.4" stroke="#000" stroke-width="2.2"/>
<line x1="771.9" y1="1437" x2="771.9" y2="1443.4" stroke="#000" stroke-width="2.2"/>
<line x1="768.3" y1="1437" x2="775.5" y2="1437" stroke="#000" stroke-width="2.2"/>
<line x1="768.3" y1="1443.4" x2="775.5" y2="1443.4" stroke="#000" stroke-width="2.2"/>
<line x1="830.4" y1="1421.2" x2="830.4" y2="1433.4" stroke="#000" stroke-width="2.2"/>
<line x1="826.8" y1="1421.2" x2="834" y2="1421.2" stroke="#000" stroke-width="2.2"/>
<line x1="826.8" y1="1433.4" x2="834" y2="1433.4" stroke="#000" stroke-width="2.2"/>
<line x1="888.9" y1="1421.9" x2="888.9" y2="1431.8" stroke="#000" stroke-width="2.2"/>
<line x1="885.3" y1="1421.9" x2="892.5" y2="1421.9" stroke="#000" stroke-width="2.2"/>
<line x1="885.3" y1="1431.8" x2="892.5" y2="1431.8" stroke="#000" stroke-width="2.2"/>
<line x1="830.4" y1="1322" x2="830.4" y2="1355" stroke="#000" stroke-width="2.2"/>
<line x1="826.8" y1="1322" x2="834" y2="1322" stroke="#000" stroke-width="2.2"/>
<line x1="826.8" y1="1355" x2="834" y2="1355" stroke="#000" stroke-width="2.2"/>
<line x1="888.9" y1="1280.6" x2="888.9" y2="1298" stroke="#000" stroke-width="2.2"/>
<line x1="885.3" y1="1280.6" x2="892.5" y2="1280.6" stroke="#000" stroke-width="2.2"/>
<line x1="885.3" y1="1298" x2="892.5" y2="1298" stroke="#000" stroke-width="2.2"/>
<line x1="625.2" y1="1259.4" x2="625.2" y2="1466.5" stroke="#000" stroke-width="2.6"/>
<line x1="621.7" y1="1260.7" x2="625.2" y2="1260.7" stroke="#000" stroke-width="2.6"/>
<text x="0" y="0" transform="translate(612.7 1266.2) scale(1.06 1)" text-anchor="end" stroke="#000" stroke-width="0.35">15</text>
<line x1="621.7" y1="1328.87" x2="625.2" y2="1328.87" stroke="#000" stroke-width="2.6"/>
<text x="0" y="0" transform="translate(612.7 1334.37) scale(1.06 1)" text-anchor="end" stroke="#000" stroke-width="0.35">10</text>
<line x1="621.7" y1="1397.03" x2="625.2" y2="1397.03" stroke="#000" stroke-width="2.6"/>
<text x="0" y="0" transform="translate(612.7 1402.53) scale(1.06 1)" text-anchor="end" stroke="#000" stroke-width="0.35">5</text>
<line x1="621.7" y1="1465.2" x2="625.2" y2="1465.2" stroke="#000" stroke-width="2.6"/>
<text x="0" y="0" transform="translate(612.7 1470.7) scale(1.06 1)" text-anchor="end" stroke="#000" stroke-width="0.35">0</text>
<line x1="624" y1="1465.2" x2="897.5" y2="1465.2" stroke="#000" stroke-width="2.4"/>
<line x1="654.9" y1="1465.2" x2="654.9" y2="1469.2" stroke="#000" stroke-width="2.4"/>
<text x="0" y="0" transform="translate(654.9 1490) scale(1.06 1)" text-anchor="middle" stroke="#000" stroke-width="0.35">0</text>
<line x1="713.4" y1="1465.2" x2="713.4" y2="1469.2" stroke="#000" stroke-width="2.4"/>
<text x="0" y="0" transform="translate(713.4 1490) scale(1.06 1)" text-anchor="middle" stroke="#000" stroke-width="0.35">24</text>
<line x1="771.9" y1="1465.2" x2="771.9" y2="1469.2" stroke="#000" stroke-width="2.4"/>
<text x="0" y="0" transform="translate(771.9 1490) scale(1.06 1)" text-anchor="middle" stroke="#000" stroke-width="0.35">48</text>
<line x1="830.4" y1="1465.2" x2="830.4" y2="1469.2" stroke="#000" stroke-width="2.4"/>
<text x="0" y="0" transform="translate(830.4 1490) scale(1.06 1)" text-anchor="middle" stroke="#000" stroke-width="0.35">72</text>
<line x1="888.9" y1="1465.2" x2="888.9" y2="1469.2" stroke="#000" stroke-width="2.4"/>
<text x="0" y="0" transform="translate(888.9 1490) scale(1.06 1)" text-anchor="middle" stroke="#000" stroke-width="0.35">96</text>
<text x="773" y="1512.2" text-anchor="middle" stroke="#000" stroke-width="0.35">Time (h)</text>
<text x="571" y="1364.95" text-anchor="middle" transform="rotate(-90 571 1364.95)" font-size="22.5" stroke="#000" stroke-width="0.35">Cell number (10<tspan font-size="13" dy="-8">4</tspan><tspan dy="8"> cells)</tspan></text>
<line x1="638.4" y1="1272.3" x2="662.9" y2="1272.3" stroke="#6b9bd0" stroke-width="2.4"/>
<circle cx="650.6" cy="1272.3" r="2.3" fill="#6b9bd0"/>
<text x="675.9" y="1277.8" font-size="23" stroke="#000" stroke-width="0.35">shSCR</text>
<line x1="638.4" y1="1305.7" x2="662.9" y2="1305.7" stroke="#c0504d" stroke-width="2.4"/>
<circle cx="650.6" cy="1305.7" r="2.3" fill="#c0504d"/>
<text x="675.9" y="1311.2" font-size="23" stroke="#000" stroke-width="0.35">shMTA1</text>
<line x1="638.4" y1="1339.1" x2="662.9" y2="1339.1" stroke="#ea8a3e" stroke-width="2.4"/>
<circle cx="650.6" cy="1339.1" r="2.3" fill="#ea8a3e"/>
<text x="675.9" y="1344.6" font-size="23" stroke="#000" stroke-width="0.35">shMTA3</text>
<path d="M896.5 1289.5 H913 V1390.4 H896.5" fill="none" stroke="#333" stroke-width="1.8"/>
<text x="924" y="1349.37" font-size="23" text-anchor="middle" fill="#333" stroke="#333" stroke-width="0.3">*</text>
<text x="936.6" y="1349.37" font-size="23" text-anchor="middle" fill="#333" stroke="#333" stroke-width="0.3">*</text>
<path d="M896.5 1395.4 H913 V1428.5 H896.5" fill="none" stroke="#333" stroke-width="1.8"/>
<text x="924.6" y="1425.87" font-size="23" text-anchor="middle" fill="#333" stroke="#333" stroke-width="0.3">*</text>
<path d="M197.6 1778.5 L255.7 1774.4 L313.8 1760.3 L371.9 1736.8 L430 1682.9" fill="none" stroke="#6b9bd0" stroke-width="2.4"/>
<circle cx="197.6" cy="1778.5" r="2.4" fill="#6b9bd0"/>
<circle cx="255.7" cy="1774.4" r="2.4" fill="#6b9bd0"/>
<circle cx="313.8" cy="1760.3" r="2.4" fill="#6b9bd0"/>
<circle cx="371.9" cy="1736.8" r="2.4" fill="#6b9bd0"/>
<circle cx="430" cy="1682.9" r="2.4" fill="#6b9bd0"/>
<path d="M197.6 1778.5 L255.7 1771.2 L313.8 1748 L371.9 1706.8 L430 1602.4" fill="none" stroke="#c0504d" stroke-width="2.4"/>
<circle cx="197.6" cy="1778.5" r="2.4" fill="#c0504d"/>
<circle cx="255.7" cy="1771.2" r="2.4" fill="#c0504d"/>
<circle cx="313.8" cy="1748" r="2.4" fill="#c0504d"/>
<circle cx="371.9" cy="1706.8" r="2.4" fill="#c0504d"/>
<circle cx="430" cy="1602.4" r="2.4" fill="#c0504d"/>
<path d="M197.6 1778.5 L255.7 1777.4 L313.8 1767 L371.9 1759.7 L430 1744.1" fill="none" stroke="#ea8a3e" stroke-width="2.4"/>
<circle cx="197.6" cy="1778.5" r="2.4" fill="#ea8a3e"/>
<circle cx="255.7" cy="1777.4" r="2.4" fill="#ea8a3e"/>
<circle cx="313.8" cy="1767" r="2.4" fill="#ea8a3e"/>
<circle cx="371.9" cy="1759.7" r="2.4" fill="#ea8a3e"/>
<circle cx="430" cy="1744.1" r="2.4" fill="#ea8a3e"/>
<line x1="371.9" y1="1733.8" x2="371.9" y2="1739.8" stroke="#000" stroke-width="2.2"/>
<line x1="368.3" y1="1733.8" x2="375.5" y2="1733.8" stroke="#000" stroke-width="2.2"/>
<line x1="368.3" y1="1739.8" x2="375.5" y2="1739.8" stroke="#000" stroke-width="2.2"/>
<line x1="430" y1="1679.4" x2="430" y2="1686" stroke="#000" stroke-width="2.2"/>
<line x1="426.4" y1="1679.4" x2="433.6" y2="1679.4" stroke="#000" stroke-width="2.2"/>
<line x1="426.4" y1="1686" x2="433.6" y2="1686" stroke="#000" stroke-width="2.2"/>
<line x1="371.9" y1="1703.8" x2="371.9" y2="1709.7" stroke="#000" stroke-width="2.2"/>
<line x1="368.3" y1="1703.8" x2="375.5" y2="1703.8" stroke="#000" stroke-width="2.2"/>
<line x1="368.3" y1="1709.7" x2="375.5" y2="1709.7" stroke="#000" stroke-width="2.2"/>
<line x1="430" y1="1596.5" x2="430" y2="1607.4" stroke="#000" stroke-width="2.2"/>
<line x1="426.4" y1="1596.5" x2="433.6" y2="1596.5" stroke="#000" stroke-width="2.2"/>
<line x1="426.4" y1="1607.4" x2="433.6" y2="1607.4" stroke="#000" stroke-width="2.2"/>
<line x1="371.9" y1="1755.9" x2="371.9" y2="1763.2" stroke="#000" stroke-width="2.2"/>
<line x1="368.3" y1="1755.9" x2="375.5" y2="1755.9" stroke="#000" stroke-width="2.2"/>
<line x1="368.3" y1="1763.2" x2="375.5" y2="1763.2" stroke="#000" stroke-width="2.2"/>
<line x1="430" y1="1741.8" x2="430" y2="1746.5" stroke="#000" stroke-width="2.2"/>
<line x1="426.4" y1="1741.8" x2="433.6" y2="1741.8" stroke="#000" stroke-width="2.2"/>
<line x1="426.4" y1="1746.5" x2="433.6" y2="1746.5" stroke="#000" stroke-width="2.2"/>
<line x1="167.6" y1="1581.6" x2="167.6" y2="1786.6" stroke="#000" stroke-width="2.6"/>
<line x1="164.1" y1="1582.9" x2="167.6" y2="1582.9" stroke="#000" stroke-width="2.6"/>
<text x="0" y="0" transform="translate(155.1 1588.4) scale(1.06 1)" text-anchor="end" stroke="#000" stroke-width="0.35">30</text>
<line x1="164.1" y1="1650.37" x2="167.6" y2="1650.37" stroke="#000" stroke-width="2.6"/>
<text x="0" y="0" transform="translate(155.1 1655.87) scale(1.06 1)" text-anchor="end" stroke="#000" stroke-width="0.35">20</text>
<line x1="164.1" y1="1717.83" x2="167.6" y2="1717.83" stroke="#000" stroke-width="2.6"/>
<text x="0" y="0" transform="translate(155.1 1723.33) scale(1.06 1)" text-anchor="end" stroke="#000" stroke-width="0.35">10</text>
<line x1="164.1" y1="1785.3" x2="167.6" y2="1785.3" stroke="#000" stroke-width="2.6"/>
<text x="0" y="0" transform="translate(155.1 1790.8) scale(1.06 1)" text-anchor="end" stroke="#000" stroke-width="0.35">0</text>
<line x1="166.4" y1="1785.3" x2="439.7" y2="1785.3" stroke="#000" stroke-width="2.4"/>
<line x1="197.6" y1="1785.3" x2="197.6" y2="1789.3" stroke="#000" stroke-width="2.4"/>
<text x="0" y="0" transform="translate(197.6 1810.3) scale(1.06 1)" text-anchor="middle" stroke="#000" stroke-width="0.35">0</text>
<line x1="255.7" y1="1785.3" x2="255.7" y2="1789.3" stroke="#000" stroke-width="2.4"/>
<text x="0" y="0" transform="translate(255.7 1810.3) scale(1.06 1)" text-anchor="middle" stroke="#000" stroke-width="0.35">24</text>
<line x1="313.8" y1="1785.3" x2="313.8" y2="1789.3" stroke="#000" stroke-width="2.4"/>
<text x="0" y="0" transform="translate(313.8 1810.3) scale(1.06 1)" text-anchor="middle" stroke="#000" stroke-width="0.35">48</text>
<line x1="371.9" y1="1785.3" x2="371.9" y2="1789.3" stroke="#000" stroke-width="2.4"/>
<text x="0" y="0" transform="translate(371.9 1810.3) scale(1.06 1)" text-anchor="middle" stroke="#000" stroke-width="0.35">72</text>
<line x1="430" y1="1785.3" x2="430" y2="1789.3" stroke="#000" stroke-width="2.4"/>
<text x="0" y="0" transform="translate(430 1810.3) scale(1.06 1)" text-anchor="middle" stroke="#000" stroke-width="0.35">96</text>
<text x="315.4" y="1833.8" text-anchor="middle" stroke="#000" stroke-width="0.35">Time (h)</text>
<text x="116" y="1686.1" text-anchor="middle" transform="rotate(-90 116 1686.1)" font-size="22.5" stroke="#000" stroke-width="0.35">Cell number (10<tspan font-size="13" dy="-8">4</tspan><tspan dy="8"> cells)</tspan></text>
<line x1="180.9" y1="1592.6" x2="205.4" y2="1592.6" stroke="#6b9bd0" stroke-width="2.4"/>
<circle cx="193.1" cy="1592.6" r="2.3" fill="#6b9bd0"/>
<text x="218.4" y="1598.1" font-size="23" stroke="#000" stroke-width="0.35">Vector</text>
<line x1="180.9" y1="1627.2" x2="205.4" y2="1627.2" stroke="#c0504d" stroke-width="2.4"/>
<circle cx="193.1" cy="1627.2" r="2.3" fill="#c0504d"/>
<text x="218.4" y="1632.7" font-size="23" stroke="#000" stroke-width="0.35">MTA1</text>
<line x1="180.9" y1="1661.8" x2="205.4" y2="1661.8" stroke="#ea8a3e" stroke-width="2.4"/>
<circle cx="193.1" cy="1661.8" r="2.3" fill="#ea8a3e"/>
<text x="218.4" y="1667.3" font-size="23" stroke="#000" stroke-width="0.35">MTA3</text>
<path d="M438.2 1603 H454.4 V1678.5 H438.2" fill="none" stroke="#333" stroke-width="1.8"/>
<text x="463.1" y="1658.47" font-size="23" text-anchor="middle" fill="#333" stroke="#333" stroke-width="0.3">*</text>
<text x="475.7" y="1658.47" font-size="23" text-anchor="middle" fill="#333" stroke="#333" stroke-width="0.3">*</text>
<path d="M438.2 1685.9 H454.4 V1745 H438.2" fill="none" stroke="#333" stroke-width="1.8"/>
<text x="463.1" y="1734.87" font-size="23" text-anchor="middle" fill="#333" stroke="#333" stroke-width="0.3">*</text>
<text x="475.7" y="1734.87" font-size="23" text-anchor="middle" fill="#333" stroke="#333" stroke-width="0.3">*</text>
<path d="M653.3 1779.6 L711.45 1775.6 L769.6 1758.8 L827.75 1734.3 L885.9 1679" fill="none" stroke="#6b9bd0" stroke-width="2.4"/>
<circle cx="653.3" cy="1779.6" r="2.4" fill="#6b9bd0"/>
<circle cx="711.45" cy="1775.6" r="2.4" fill="#6b9bd0"/>
<circle cx="769.6" cy="1758.8" r="2.4" fill="#6b9bd0"/>
<circle cx="827.75" cy="1734.3" r="2.4" fill="#6b9bd0"/>
<circle cx="885.9" cy="1679" r="2.4" fill="#6b9bd0"/>
<path d="M653.3 1779.6 L711.45 1779.6 L769.6 1765.4 L827.75 1757.5 L885.9 1753.8" fill="none" stroke="#c0504d" stroke-width="2.4"/>
<circle cx="653.3" cy="1779.6" r="2.4" fill="#c0504d"/>
<circle cx="711.45" cy="1779.6" r="2.4" fill="#c0504d"/>
<circle cx="769.6" cy="1765.4" r="2.4" fill="#c0504d"/>
<circle cx="827.75" cy="1757.5" r="2.4" fill="#c0504d"/>
<circle cx="885.9" cy="1753.8" r="2.4" fill="#c0504d"/>
<path d="M653.3 1779.6 L711.45 1772 L769.6 1748.8 L827.75 1702.2 L885.9 1610.9" fill="none" stroke="#ea8a3e" stroke-width="2.4"/>
<circle cx="653.3" cy="1779.6" r="2.4" fill="#ea8a3e"/>
<circle cx="711.45" cy="1772" r="2.4" fill="#ea8a3e"/>
<circle cx="769.6" cy="1748.8" r="2.4" fill="#ea8a3e"/>
<circle cx="827.75" cy="1702.2" r="2.4" fill="#ea8a3e"/>
<circle cx="885.9" cy="1610.9" r="2.4" fill="#ea8a3e"/>
<line x1="827.75" y1="1731.6" x2="827.75" y2="1737.3" stroke="#000" stroke-width="2.2"/>
<line x1="824.15" y1="1731.6" x2="831.35" y2="1731.6" stroke="#000" stroke-width="2.2"/>
<line x1="824.15" y1="1737.3" x2="831.35" y2="1737.3" stroke="#000" stroke-width="2.2"/>
<line x1="885.9" y1="1673.7" x2="885.9" y2="1683.7" stroke="#000" stroke-width="2.2"/>
<line x1="882.3" y1="1673.7" x2="889.5" y2="1673.7" stroke="#000" stroke-width="2.2"/>
<line x1="882.3" y1="1683.7" x2="889.5" y2="1683.7" stroke="#000" stroke-width="2.2"/>
<line x1="827.75" y1="1754.8" x2="827.75" y2="1760.4" stroke="#000" stroke-width="2.2"/>
<line x1="824.15" y1="1754.8" x2="831.35" y2="1754.8" stroke="#000" stroke-width="2.2"/>
<line x1="824.15" y1="1760.4" x2="831.35" y2="1760.4" stroke="#000" stroke-width="2.2"/>
<line x1="885.9" y1="1747.5" x2="885.9" y2="1759.8" stroke="#000" stroke-width="2.2"/>
<line x1="882.3" y1="1747.5" x2="889.5" y2="1747.5" stroke="#000" stroke-width="2.2"/>
<line x1="882.3" y1="1759.8" x2="889.5" y2="1759.8" stroke="#000" stroke-width="2.2"/>
<line x1="769.6" y1="1746.5" x2="769.6" y2="1751.5" stroke="#000" stroke-width="2.2"/>
<line x1="766" y1="1746.5" x2="773.2" y2="1746.5" stroke="#000" stroke-width="2.2"/>
<line x1="766" y1="1751.5" x2="773.2" y2="1751.5" stroke="#000" stroke-width="2.2"/>
<line x1="827.75" y1="1699.5" x2="827.75" y2="1705.2" stroke="#000" stroke-width="2.2"/>
<line x1="824.15" y1="1699.5" x2="831.35" y2="1699.5" stroke="#000" stroke-width="2.2"/>
<line x1="824.15" y1="1705.2" x2="831.35" y2="1705.2" stroke="#000" stroke-width="2.2"/>
<line x1="885.9" y1="1601.9" x2="885.9" y2="1619.8" stroke="#000" stroke-width="2.2"/>
<line x1="882.3" y1="1601.9" x2="889.5" y2="1601.9" stroke="#000" stroke-width="2.2"/>
<line x1="882.3" y1="1619.8" x2="889.5" y2="1619.8" stroke="#000" stroke-width="2.2"/>
<line x1="622.5" y1="1582.1" x2="622.5" y2="1787.5" stroke="#000" stroke-width="2.6"/>
<line x1="619" y1="1583.4" x2="622.5" y2="1583.4" stroke="#000" stroke-width="2.6"/>
<text x="0" y="0" transform="translate(610 1588.9) scale(1.06 1)" text-anchor="end" stroke="#000" stroke-width="0.35">30</text>
<line x1="619" y1="1651" x2="622.5" y2="1651" stroke="#000" stroke-width="2.6"/>
<text x="0" y="0" transform="translate(610 1656.5) scale(1.06 1)" text-anchor="end" stroke="#000" stroke-width="0.35">20</text>
<line x1="619" y1="1718.6" x2="622.5" y2="1718.6" stroke="#000" stroke-width="2.6"/>
<text x="0" y="0" transform="translate(610 1724.1) scale(1.06 1)" text-anchor="end" stroke="#000" stroke-width="0.35">10</text>
<line x1="619" y1="1786.2" x2="622.5" y2="1786.2" stroke="#000" stroke-width="2.6"/>
<text x="0" y="0" transform="translate(610 1791.7) scale(1.06 1)" text-anchor="end" stroke="#000" stroke-width="0.35">0</text>
<line x1="621.3" y1="1786.2" x2="895.5" y2="1786.2" stroke="#000" stroke-width="2.4"/>
<line x1="653.3" y1="1786.2" x2="653.3" y2="1790.2" stroke="#000" stroke-width="2.4"/>
<text x="0" y="0" transform="translate(653.3 1811) scale(1.06 1)" text-anchor="middle" stroke="#000" stroke-width="0.35">0</text>
<line x1="711.45" y1="1786.2" x2="711.45" y2="1790.2" stroke="#000" stroke-width="2.4"/>
<text x="0" y="0" transform="translate(711.45 1811) scale(1.06 1)" text-anchor="middle" stroke="#000" stroke-width="0.35">24</text>
<line x1="769.6" y1="1786.2" x2="769.6" y2="1790.2" stroke="#000" stroke-width="2.4"/>
<text x="0" y="0" transform="translate(769.6 1811) scale(1.06 1)" text-anchor="middle" stroke="#000" stroke-width="0.35">48</text>
<line x1="827.75" y1="1786.2" x2="827.75" y2="1790.2" stroke="#000" stroke-width="2.4"/>
<text x="0" y="0" transform="translate(827.75 1811) scale(1.06 1)" text-anchor="middle" stroke="#000" stroke-width="0.35">72</text>
<line x1="885.9" y1="1786.2" x2="885.9" y2="1790.2" stroke="#000" stroke-width="2.4"/>
<text x="0" y="0" transform="translate(885.9 1811) scale(1.06 1)" text-anchor="middle" stroke="#000" stroke-width="0.35">96</text>
<text x="771.6" y="1833.6" text-anchor="middle" stroke="#000" stroke-width="0.35">Time (h)</text>
<text x="576" y="1686.8" text-anchor="middle" transform="rotate(-90 576 1686.8)" font-size="22.5" stroke="#000" stroke-width="0.35">Cell number (10<tspan font-size="13" dy="-8">4</tspan><tspan dy="8"> cells)</tspan></text>
<line x1="635.8" y1="1595" x2="660.3" y2="1595" stroke="#6b9bd0" stroke-width="2.4"/>
<circle cx="648" cy="1595" r="2.3" fill="#6b9bd0"/>
<text x="673.3" y="1600.5" font-size="23" stroke="#000" stroke-width="0.35">shSCR</text>
<line x1="635.8" y1="1628.3" x2="660.3" y2="1628.3" stroke="#c0504d" stroke-width="2.4"/>
<circle cx="648" cy="1628.3" r="2.3" fill="#c0504d"/>
<text x="673.3" y="1633.8" font-size="23" stroke="#000" stroke-width="0.35">shMTA1</text>
<line x1="635.8" y1="1661.6" x2="660.3" y2="1661.6" stroke="#ea8a3e" stroke-width="2.4"/>
<circle cx="648" cy="1661.6" r="2.3" fill="#ea8a3e"/>
<text x="673.3" y="1667.1" font-size="23" stroke="#000" stroke-width="0.35">shMTA3</text>
<path d="M893.2 1609.9 H908 V1677 H893.2" fill="none" stroke="#333" stroke-width="1.8"/>
<text x="920.5" y="1656.47" font-size="23" text-anchor="middle" fill="#333" stroke="#333" stroke-width="0.3">*</text>
<path d="M893.2 1687.6 H908 V1754.8 H893.2" fill="none" stroke="#333" stroke-width="1.8"/>
<text x="920" y="1729.37" font-size="23" text-anchor="middle" fill="#333" stroke="#333" stroke-width="0.3">*</text>
<text x="932.6" y="1729.37" font-size="23" text-anchor="middle" fill="#333" stroke="#333" stroke-width="0.3">*</text>
<text x="971.2" y="1183.5" font-size="36" font-weight="bold">G</text>
<text x="1294" y="1222.6" font-size="23" text-anchor="middle" stroke="#000" stroke-width="0.35">MCF-7</text>
<line x1="1039.2" y1="1231.5" x2="1550.3" y2="1231.5" stroke="#000" stroke-width="1.8"/>
<text x="1294" y="1543.6" font-size="23" text-anchor="middle" stroke="#000" stroke-width="0.35">MDA-MB-231</text>
<line x1="1039.2" y1="1552.6" x2="1550.3" y2="1552.6" stroke="#000" stroke-width="1.8"/>
<text x="1060.7" y="1375.7" font-size="23.2" text-anchor="middle" transform="rotate(-90 1060.7 1375.7)" stroke="#000" stroke-width="0.35">Fold change</text>
<text x="1090" y="1375.7" font-size="23.2" text-anchor="middle" transform="rotate(-90 1090 1375.7)" stroke="#000" stroke-width="0.35">(EdU+ Population cells %)</text>
<rect x="1158" y="1373.9" width="25.8" height="80.9" fill="#6b97c3"/>
<rect x="1197.3" y="1314.3" width="25" height="140.5" fill="#c45b5d"/>
<rect x="1235.2" y="1410.6" width="25.8" height="44.2" fill="#e5b887"/>
<line x1="1170.9" y1="1368.5" x2="1170.9" y2="1378.3" stroke="#000" stroke-width="2.3"/>
<line x1="1166.7" y1="1368.5" x2="1175.1" y2="1368.5" stroke="#000" stroke-width="2.3"/>
<line x1="1166.7" y1="1378.3" x2="1175.1" y2="1378.3" stroke="#000" stroke-width="2.3"/>
<line x1="1209.8" y1="1309.7" x2="1209.8" y2="1318.7" stroke="#000" stroke-width="2.3"/>
<line x1="1205.6" y1="1309.7" x2="1214" y2="1309.7" stroke="#000" stroke-width="2.3"/>
<line x1="1205.6" y1="1318.7" x2="1214" y2="1318.7" stroke="#000" stroke-width="2.3"/>
<line x1="1248.1" y1="1400.8" x2="1248.1" y2="1420" stroke="#000" stroke-width="2.3"/>
<line x1="1243.9" y1="1400.8" x2="1252.3" y2="1400.8" stroke="#000" stroke-width="2.3"/>
<line x1="1243.9" y1="1420" x2="1252.3" y2="1420" stroke="#000" stroke-width="2.3"/>
<text x="1209.4" y="1302.16" font-size="24" text-anchor="middle" fill="#1a1a1a" stroke="#1a1a1a" stroke-width="0.45">*</text>
<text x="1248" y="1395.36" font-size="24" text-anchor="middle" fill="#1a1a1a" stroke="#1a1a1a" stroke-width="0.45">*</text>
<line x1="1145" y1="1291.5" x2="1145" y2="1456.3" stroke="#000" stroke-width="3"/>
<line x1="1140.5" y1="1293" x2="1145" y2="1293" stroke="#000" stroke-width="3"/>
<text x="1134.5" y="1301.3" font-size="23.5" text-anchor="end" stroke="#000" stroke-width="0.35">2.0</text>
<line x1="1140.5" y1="1333.45" x2="1145" y2="1333.45" stroke="#000" stroke-width="3"/>
<text x="1134.5" y="1341.75" font-size="23.5" text-anchor="end" stroke="#000" stroke-width="0.35">1.5</text>
<line x1="1140.5" y1="1373.9" x2="1145" y2="1373.9" stroke="#000" stroke-width="3"/>
<text x="1134.5" y="1382.2" font-size="23.5" text-anchor="end" stroke="#000" stroke-width="0.35">1.0</text>
<line x1="1140.5" y1="1414.35" x2="1145" y2="1414.35" stroke="#000" stroke-width="3"/>
<text x="1134.5" y="1422.65" font-size="23.5" text-anchor="end" stroke="#000" stroke-width="0.35">0.5</text>
<line x1="1140.5" y1="1454.8" x2="1145" y2="1454.8" stroke="#000" stroke-width="3"/>
<text x="1134.5" y="1463.1" font-size="23.5" text-anchor="end" stroke="#000" stroke-width="0.35">0.0</text>
<line x1="1143.5" y1="1454.8" x2="1274.5" y2="1454.8" stroke="#000" stroke-width="3"/>
<text x="1187" y="1472" font-size="24" text-anchor="end" transform="rotate(-45 1187 1472)" stroke="#000" stroke-width="0.35">Vector</text>
<text x="1223.5" y="1477" font-size="24" text-anchor="end" transform="rotate(-45 1223.5 1477)" stroke="#000" stroke-width="0.35">MTA1</text>
<text x="1263" y="1475" font-size="24" text-anchor="end" transform="rotate(-45 1263 1475)" stroke="#000" stroke-width="0.35">MTA3</text>
<text x="1352.6" y="1376.8" font-size="23.2" text-anchor="middle" transform="rotate(-90 1352.6 1376.8)" stroke="#000" stroke-width="0.35">Fold change</text>
<text x="1383" y="1376.8" font-size="23.2" text-anchor="middle" transform="rotate(-90 1383 1376.8)" stroke="#000" stroke-width="0.35">(EdU+ Population cells %)</text>
<rect x="1451.3" y="1376" width="24.6" height="78.5" fill="#6b97c3"/>
<rect x="1488.7" y="1424.5" width="24.6" height="30" fill="#c45b5d"/>
<rect x="1525.8" y="1328.5" width="25.1" height="126" fill="#e5b887"/>
<line x1="1463.6" y1="1365" x2="1463.6" y2="1386.3" stroke="#000" stroke-width="2.3"/>
<line x1="1459.4" y1="1365" x2="1467.8" y2="1365" stroke="#000" stroke-width="2.3"/>
<line x1="1459.4" y1="1386.3" x2="1467.8" y2="1386.3" stroke="#000" stroke-width="2.3"/>
<line x1="1501" y1="1416.3" x2="1501" y2="1432.2" stroke="#000" stroke-width="2.3"/>
<line x1="1496.8" y1="1416.3" x2="1505.2" y2="1416.3" stroke="#000" stroke-width="2.3"/>
<line x1="1496.8" y1="1432.2" x2="1505.2" y2="1432.2" stroke="#000" stroke-width="2.3"/>
<line x1="1538.35" y1="1323" x2="1538.35" y2="1333.2" stroke="#000" stroke-width="2.3"/>
<line x1="1534.15" y1="1323" x2="1542.55" y2="1323" stroke="#000" stroke-width="2.3"/>
<line x1="1534.15" y1="1333.2" x2="1542.55" y2="1333.2" stroke="#000" stroke-width="2.3"/>
<text x="1496.2" y="1416.56" font-size="24" text-anchor="middle" fill="#1a1a1a" stroke="#1a1a1a" stroke-width="0.45">*</text>
<text x="1508.2" y="1416.56" font-size="24" text-anchor="middle" fill="#1a1a1a" stroke="#1a1a1a" stroke-width="0.45">*</text>
<text x="1537.5" y="1323.26" font-size="24" text-anchor="middle" fill="#1a1a1a" stroke="#1a1a1a" stroke-width="0.45">*</text>
<line x1="1439.1" y1="1294.3" x2="1439.1" y2="1456" stroke="#000" stroke-width="3"/>
<line x1="1434.6" y1="1295.8" x2="1439.1" y2="1295.8" stroke="#000" stroke-width="3"/>
<text x="1428.6" y="1304.1" font-size="23.5" text-anchor="end" stroke="#000" stroke-width="0.35">2.0</text>
<line x1="1434.6" y1="1335.47" x2="1439.1" y2="1335.47" stroke="#000" stroke-width="3"/>
<text x="1428.6" y="1343.77" font-size="23.5" text-anchor="end" stroke="#000" stroke-width="0.35">1.5</text>
<line x1="1434.6" y1="1375.15" x2="1439.1" y2="1375.15" stroke="#000" stroke-width="3"/>
<text x="1428.6" y="1383.45" font-size="23.5" text-anchor="end" stroke="#000" stroke-width="0.35">1.0</text>
<line x1="1434.6" y1="1414.83" x2="1439.1" y2="1414.83" stroke="#000" stroke-width="3"/>
<text x="1428.6" y="1423.12" font-size="23.5" text-anchor="end" stroke="#000" stroke-width="0.35">0.5</text>
<line x1="1434.6" y1="1454.5" x2="1439.1" y2="1454.5" stroke="#000" stroke-width="3"/>
<text x="1428.6" y="1462.8" font-size="23.5" text-anchor="end" stroke="#000" stroke-width="0.35">0.0</text>
<line x1="1437.6" y1="1454.5" x2="1563.2" y2="1454.5" stroke="#000" stroke-width="3"/>
<text x="1469" y="1479.5" font-size="24" text-anchor="end" transform="rotate(-45 1469 1479.5)" stroke="#000" stroke-width="0.35">shSCR</text>
<text x="1503.5" y="1481.5" font-size="24" text-anchor="end" transform="rotate(-45 1503.5 1481.5)" stroke="#000" stroke-width="0.35">shMTA1</text>
<text x="1543" y="1480.5" font-size="24" text-anchor="end" transform="rotate(-45 1543 1480.5)" stroke="#000" stroke-width="0.35">shMTA3</text>
<text x="1056" y="1695.5" font-size="23.2" text-anchor="middle" transform="rotate(-90 1056 1695.5)" stroke="#000" stroke-width="0.35">Fold change</text>
<text x="1087.7" y="1695.5" font-size="23.2" text-anchor="middle" transform="rotate(-90 1087.7 1695.5)" stroke="#000" stroke-width="0.35">(EdU+ Population cells %)</text>
<rect x="1157.3" y="1672.8" width="25.2" height="98" fill="#6b97c3"/>
<rect x="1195.3" y="1653.2" width="25" height="117.6" fill="#c45b5d"/>
<rect x="1232.8" y="1703.4" width="25" height="67.4" fill="#e5b887"/>
<line x1="1169.9" y1="1670.5" x2="1169.9" y2="1674.5" stroke="#000" stroke-width="2.3"/>
<line x1="1165.7" y1="1670.5" x2="1174.1" y2="1670.5" stroke="#000" stroke-width="2.3"/>
<line x1="1165.7" y1="1674.5" x2="1174.1" y2="1674.5" stroke="#000" stroke-width="2.3"/>
<line x1="1207.8" y1="1648.8" x2="1207.8" y2="1657.4" stroke="#000" stroke-width="2.3"/>
<line x1="1203.6" y1="1648.8" x2="1212" y2="1648.8" stroke="#000" stroke-width="2.3"/>
<line x1="1203.6" y1="1657.4" x2="1212" y2="1657.4" stroke="#000" stroke-width="2.3"/>
<line x1="1245.3" y1="1697.8" x2="1245.3" y2="1708.8" stroke="#000" stroke-width="2.3"/>
<line x1="1241.1" y1="1697.8" x2="1249.5" y2="1697.8" stroke="#000" stroke-width="2.3"/>
<line x1="1241.1" y1="1708.8" x2="1249.5" y2="1708.8" stroke="#000" stroke-width="2.3"/>
<text x="1206.9" y="1642.76" font-size="24" text-anchor="middle" fill="#1a1a1a" stroke="#1a1a1a" stroke-width="0.45">*</text>
<text x="1245.9" y="1694.26" font-size="24" text-anchor="middle" fill="#1a1a1a" stroke="#1a1a1a" stroke-width="0.45">*</text>
<line x1="1145" y1="1611.7" x2="1145" y2="1772.3" stroke="#000" stroke-width="3"/>
<line x1="1140.5" y1="1613.2" x2="1145" y2="1613.2" stroke="#000" stroke-width="3"/>
<text x="1134.5" y="1621.5" font-size="23.5" text-anchor="end" stroke="#000" stroke-width="0.35">1.6</text>
<line x1="1140.5" y1="1652.6" x2="1145" y2="1652.6" stroke="#000" stroke-width="3"/>
<text x="1134.5" y="1660.9" font-size="23.5" text-anchor="end" stroke="#000" stroke-width="0.35">1.2</text>
<line x1="1140.5" y1="1692" x2="1145" y2="1692" stroke="#000" stroke-width="3"/>
<text x="1134.5" y="1700.3" font-size="23.5" text-anchor="end" stroke="#000" stroke-width="0.35">0.8</text>
<line x1="1140.5" y1="1731.4" x2="1145" y2="1731.4" stroke="#000" stroke-width="3"/>
<text x="1134.5" y="1739.7" font-size="23.5" text-anchor="end" stroke="#000" stroke-width="0.35">0.4</text>
<line x1="1140.5" y1="1770.8" x2="1145" y2="1770.8" stroke="#000" stroke-width="3"/>
<text x="1134.5" y="1779.1" font-size="23.5" text-anchor="end" stroke="#000" stroke-width="0.35">0.0</text>
<line x1="1143.5" y1="1770.8" x2="1270.5" y2="1770.8" stroke="#000" stroke-width="3"/>
<text x="1180.5" y="1786.5" font-size="23.5" text-anchor="end" transform="rotate(-45 1180.5 1786.5)" stroke="#000" stroke-width="0.35">Vector</text>
<text x="1216.5" y="1791" font-size="23.5" text-anchor="end" transform="rotate(-45 1216.5 1791)" stroke="#000" stroke-width="0.35">MTA1</text>
<text x="1257" y="1790" font-size="23.5" text-anchor="end" transform="rotate(-45 1257 1790)" stroke="#000" stroke-width="0.35">MTA3</text>
<text x="1351.2" y="1693.6" font-size="23.2" text-anchor="middle" transform="rotate(-90 1351.2 1693.6)" stroke="#000" stroke-width="0.35">Fold change</text>
<text x="1381.3" y="1693.6" font-size="23.2" text-anchor="middle" transform="rotate(-90 1381.3 1693.6)" stroke="#000" stroke-width="0.35">(EdU+ Population cells %)</text>
<rect x="1454.6" y="1671.3" width="24.8" height="97.3" fill="#6b97c3"/>
<rect x="1491.7" y="1742.7" width="25.1" height="25.9" fill="#c45b5d"/>
<rect x="1529" y="1652.2" width="25.2" height="116.4" fill="#e5b887"/>
<line x1="1467" y1="1666.9" x2="1467" y2="1675.3" stroke="#000" stroke-width="2.3"/>
<line x1="1462.8" y1="1666.9" x2="1471.2" y2="1666.9" stroke="#000" stroke-width="2.3"/>
<line x1="1462.8" y1="1675.3" x2="1471.2" y2="1675.3" stroke="#000" stroke-width="2.3"/>
<line x1="1504.25" y1="1739.2" x2="1504.25" y2="1746.2" stroke="#000" stroke-width="2.3"/>
<line x1="1500.05" y1="1739.2" x2="1508.45" y2="1739.2" stroke="#000" stroke-width="2.3"/>
<line x1="1500.05" y1="1746.2" x2="1508.45" y2="1746.2" stroke="#000" stroke-width="2.3"/>
<line x1="1541.6" y1="1646.4" x2="1541.6" y2="1657.6" stroke="#000" stroke-width="2.3"/>
<line x1="1537.4" y1="1646.4" x2="1545.8" y2="1646.4" stroke="#000" stroke-width="2.3"/>
<line x1="1537.4" y1="1657.6" x2="1545.8" y2="1657.6" stroke="#000" stroke-width="2.3"/>
<text x="1496.8" y="1736.06" font-size="24" text-anchor="middle" fill="#1a1a1a" stroke="#1a1a1a" stroke-width="0.45">*</text>
<text x="1508.8" y="1736.06" font-size="24" text-anchor="middle" fill="#1a1a1a" stroke="#1a1a1a" stroke-width="0.45">*</text>
<text x="1540" y="1644.56" font-size="24" text-anchor="middle" fill="#1a1a1a" stroke="#1a1a1a" stroke-width="0.45">*</text>
<line x1="1441.8" y1="1609.8" x2="1441.8" y2="1770.1" stroke="#000" stroke-width="3"/>
<line x1="1437.3" y1="1611.3" x2="1441.8" y2="1611.3" stroke="#000" stroke-width="3"/>
<text x="1431.3" y="1619.6" font-size="23.5" text-anchor="end" stroke="#000" stroke-width="0.35">1.6</text>
<line x1="1437.3" y1="1650.62" x2="1441.8" y2="1650.62" stroke="#000" stroke-width="3"/>
<text x="1431.3" y="1658.92" font-size="23.5" text-anchor="end" stroke="#000" stroke-width="0.35">1.2</text>
<line x1="1437.3" y1="1689.95" x2="1441.8" y2="1689.95" stroke="#000" stroke-width="3"/>
<text x="1431.3" y="1698.25" font-size="23.5" text-anchor="end" stroke="#000" stroke-width="0.35">0.8</text>
<line x1="1437.3" y1="1729.27" x2="1441.8" y2="1729.27" stroke="#000" stroke-width="3"/>
<text x="1431.3" y="1737.57" font-size="23.5" text-anchor="end" stroke="#000" stroke-width="0.35">0.4</text>
<line x1="1437.3" y1="1768.6" x2="1441.8" y2="1768.6" stroke="#000" stroke-width="3"/>
<text x="1431.3" y="1776.9" font-size="23.5" text-anchor="end" stroke="#000" stroke-width="0.35">0.0</text>
<line x1="1440.3" y1="1768.6" x2="1565.9" y2="1768.6" stroke="#000" stroke-width="3"/>
<text x="1472.5" y="1793" font-size="24" text-anchor="end" transform="rotate(-45 1472.5 1793)" stroke="#000" stroke-width="0.35">shSCR</text>
<text x="1508" y="1793.5" font-size="24" text-anchor="end" transform="rotate(-45 1508 1793.5)" stroke="#000" stroke-width="0.35">shMTA1</text>
<text x="1546.5" y="1793.5" font-size="24" text-anchor="end" transform="rotate(-45 1546.5 1793.5)" stroke="#000" stroke-width="0.35">shMTA3</text>
<text x="1.5" y="1882.3" font-size="36" font-weight="bold">H</text>
<line x1="125" y1="1933.5" x2="125" y2="2103" stroke="#000" stroke-width="2.1"/>
<text x="107.7" y="2018" font-size="27.3" text-anchor="middle" transform="rotate(-90 107.7 2018)" stroke="#000" stroke-width="0.35">MCF-7</text>
<line x1="929.1" y1="1935.6" x2="929.1" y2="2106.2" stroke="#000" stroke-width="2.1"/>
<text x="912.2" y="2018.5" font-size="27.3" text-anchor="middle" transform="rotate(-90 912.2 2018.5)" stroke="#000" stroke-width="0.35">MCF-7</text>
<line x1="125" y1="2198.3" x2="125" y2="2368.2" stroke="#000" stroke-width="2.1"/>
<text x="107.7" y="2284.5" font-size="27.3" text-anchor="middle" transform="rotate(-90 107.7 2284.5)" stroke="#000" stroke-width="0.35">MDA-MB-231</text>
<line x1="929.1" y1="2198.8" x2="929.1" y2="2367.6" stroke="#000" stroke-width="2.1"/>
<text x="912.2" y="2284.7" font-size="27.3" text-anchor="middle" transform="rotate(-90 912.2 2284.7)" stroke="#000" stroke-width="0.35">MDA-MB-231</text>
<text x="210.5" y="1943" font-size="22" text-anchor="middle" stroke="#000" stroke-width="0.35">Vector</text>
<text x="376.8" y="1943" font-size="22" text-anchor="middle" stroke="#000" stroke-width="0.35">MTA1</text>
<text x="540.4" y="1943" font-size="22" text-anchor="middle" stroke="#000" stroke-width="0.35">MTA3</text>
<text x="1010.6" y="1941.5" font-size="22" text-anchor="middle" stroke="#000" stroke-width="0.35">shSCR</text>
<text x="1178.2" y="1941.5" font-size="22" text-anchor="middle" stroke="#000" stroke-width="0.35">shMTA1</text>
<text x="1344.7" y="1941.5" font-size="22" text-anchor="middle" stroke="#000" stroke-width="0.35">shMTA3</text>
<text x="211.4" y="2207.5" font-size="22" text-anchor="middle" stroke="#000" stroke-width="0.35">Vector</text>
<text x="375.7" y="2207.5" font-size="22" text-anchor="middle" stroke="#000" stroke-width="0.35">MTA1</text>
<text x="539" y="2207.5" font-size="22" text-anchor="middle" stroke="#000" stroke-width="0.35">MTA3</text>
<text x="1011.5" y="2207.6" font-size="22" text-anchor="middle" stroke="#000" stroke-width="0.35">shSCR</text>
<text x="1178.8" y="2207.6" font-size="22" text-anchor="middle" stroke="#000" stroke-width="0.35">shMTA1</text>
<text x="1345.3" y="2207.6" font-size="22" text-anchor="middle" stroke="#000" stroke-width="0.35">shMTA3</text>
<circle cx="210.4" cy="2036" r="77.8" fill="url(#rg1)"/>
<g clip-path="url(#cp1)" fill="none" stroke-linecap="round"><path stroke="#cfc7ec" stroke-width="1.2" d="M213.5 2000.3h0M225.5 1975.0h0M214.3 1985.0h0M237.0 2025.3h0M212.7 2049.0h0M217.7 2072.7h0M262.7 2085.7h0M246.9 1992.0h0M153.2 2051.0h0M177.6 2020.6h0M262.2 2045.2h0M177.2 1972.8h0M210.5 2069.8h0M147.4 2054.4h0M189.1 2047.5h0M180.4 2003.7h0M152.4 2069.7h0M197.7 2014.3h0M269.1 1993.2h0M226.2 1960.3h0M264.3 2031.1h0M162.2 2088.6h0M220.1 2094.0h0M262.5 2009.5h0M223.5 2059.0h0M171.6 2041.6h0M214.4 2035.6h0M176.4 1981.1h0M210.8 2047.1h0M238.6 2094.1h0M208.1 2081.2h0M264.7 2058.4h0M219.8 2018.6h0M218.8 2089.2h0M236.7 2088.6h0M236.5 2080.0h0M164.7 2027.8h0M165.4 2079.6h0M237.2 1990.4h0M206.9 2039.0h0M157.4 2047.1h0M182.7 1965.6h0M175.3 2030.9h0M187.9 2098.0h0M219.9 2058.7h0M191.0 2050.1h0M226.4 2002.1h0M236.4 2020.3h0M196.9 2048.8h0M225.5 2049.7h0M178.7 2015.7h0M262.6 2057.0h0M183.8 2045.9h0M232.7 2040.9h0"/><path stroke="#8c74c8" stroke-width="1.2" d="M275.2 2006.6h0M224.0 2027.5h0M234.8 2042.1h0M203.4 2028.0h0M230.4 2016.6h0M162.0 1985.5h0M200.2 2083.1h0M241.6 2030.7h0M262.1 2007.1h0M282.6 2052.4h0"/><path stroke="#3b1f6e" stroke-width="1.2" d="M148.8 2018.2h0M245.8 2045.1h0M244.1 2054.9h0M209.4 2099.6h0M175.6 2099.5h0M211.3 1969.9h0M176.0 2042.8h0"/><path stroke="#cfc7ec" stroke-width="1.7" d="M177.0 2023.6h0M144.0 2071.4h0M254.5 1995.9h0M211.1 2050.4h0M193.6 1980.9h0M220.3 1981.4h0M140.9 2027.8h0M184.0 2074.3h0M221.4 2053.3h0M213.5 2040.1h0M219.8 2091.1h0M281.9 2024.1h0M223.0 2080.1h0M281.0 2041.5h0M167.1 2023.7h0M248.0 2037.8h0M190.4 1988.5h0M198.6 2109.6h0M195.1 1995.4h0M274.5 2057.8h0M238.9 2084.0h0M215.1 2007.4h0M266.2 2087.9h0M210.6 2057.1h0M261.5 2042.8h0M202.7 2070.5h0M181.6 2035.9h0M175.7 2061.4h0M254.7 1995.3h0M231.0 2073.7h0M167.7 1984.1h0M237.6 1973.5h0M256.4 1989.4h0M179.4 2075.9h0M217.2 2096.4h0M214.1 1985.0h0M205.8 2096.4h0M189.2 2061.2h0M177.0 2086.9h0M184.4 1974.1h0M271.1 2024.3h0M145.6 2069.5h0M282.6 2047.3h0"/><path stroke="#8c74c8" stroke-width="1.7" d="M211.6 2030.3h0M232.0 1967.1h0M224.5 2089.7h0M172.1 2095.6h0M192.3 2076.7h0M251.3 2095.6h0M244.8 2063.4h0M194.6 2000.4h0M192.1 2009.8h0M245.7 2043.8h0M178.7 2093.6h0M218.2 2009.0h0"/><path stroke="#3b1f6e" stroke-width="1.7" d="M223.3 2039.6h0M233.8 2078.8h0M216.0 2061.3h0M228.0 2069.6h0"/><path stroke="#cfc7ec" stroke-width="2.3" d="M245.4 2023.5h0M185.1 2104.3h0M216.8 2022.3h0M268.4 2018.9h0M171.4 1986.7h0M256.7 2093.2h0M154.7 2021.2h0M256.5 2012.2h0M204.4 1976.8h0M219.7 2070.3h0M280.6 2049.6h0M215.3 2020.0h0M255.9 1977.0h0"/><path stroke="#8c74c8" stroke-width="2.3" d="M183.6 2061.7h0M234.9 1966.3h0M155.1 1998.6h0M153.0 2039.3h0M178.1 2026.6h0M169.2 1990.0h0"/><path stroke="#3b1f6e" stroke-width="2.3" d="M250.6 2052.8h0"/></g>
<circle cx="210.4" cy="2036" r="77.8" fill="none" stroke="#2b2b2b" stroke-width="2.3"/>
<circle cx="374.1" cy="2036" r="77.8" fill="url(#rg2)"/>
<g clip-path="url(#cp2)" fill="none" stroke-linecap="round"><path stroke="#a898dc" stroke-width="1.3" d="M301.2 2015.2h0M321.7 2015.1h0M372.5 2023.7h0M424.9 2079.7h0M383.2 2037.9h0M379.2 2047.2h0M415.7 2031.7h0M352.0 2049.9h0M320.7 2077.4h0M421.1 2097.9h0M352.1 2017.3h0M362.6 2046.6h0M326.2 1985.7h0M342.5 2072.0h0M331.2 2083.1h0M393.7 2026.2h0M324.8 2028.3h0M380.5 2015.5h0M345.0 2037.4h0M432.5 2050.3h0M350.2 2024.2h0M368.0 2036.8h0M352.9 2021.2h0M388.1 1991.3h0M409.6 2031.8h0M335.4 2017.5h0M385.8 2051.6h0M391.2 1982.2h0M341.6 2024.7h0M339.9 1966.9h0M382.8 2104.1h0M331.3 1974.6h0M337.6 2046.5h0M358.9 2060.7h0M410.6 1970.4h0M398.7 2072.0h0M350.9 2005.8h0M366.8 2051.3h0M421.7 2072.1h0M371.7 2049.9h0M361.5 2036.6h0M409.0 2043.2h0M405.6 2042.1h0M405.8 1966.2h0M372.1 2112.1h0M385.2 1973.9h0M366.0 2105.5h0M410.3 2037.6h0M383.3 2042.9h0M419.3 2057.4h0M362.0 2090.8h0M376.6 2025.3h0M345.3 2079.9h0M399.0 2019.3h0M441.6 2046.2h0M401.0 2069.0h0M399.8 2042.6h0M307.8 2022.2h0M393.8 2004.3h0M343.0 2052.3h0M413.9 2084.8h0M389.4 2039.0h0M439.8 2049.3h0M412.7 2090.1h0M326.2 2020.4h0M440.6 2025.0h0M330.3 2039.9h0M390.3 2034.6h0M352.6 2049.1h0M432.6 1985.0h0M368.4 2097.8h0M431.0 2016.3h0M368.7 2020.0h0M371.8 1968.0h0M369.1 1985.1h0M316.9 2073.1h0M449.7 2031.4h0M391.4 2022.2h0M315.6 2005.4h0M322.8 2063.8h0M323.3 2019.7h0M395.5 2020.0h0M431.6 1997.8h0M420.8 2059.3h0M361.1 2040.6h0M310.2 2038.2h0M352.9 2030.7h0M380.9 2038.9h0M399.6 2038.9h0M355.7 2054.9h0M411.3 2027.5h0M308.0 2037.0h0M330.6 2043.0h0M366.6 2072.9h0M410.5 2020.4h0M383.5 2050.0h0M328.2 2049.8h0M328.3 1993.1h0M340.6 2053.5h0M365.9 2084.0h0M395.0 2081.4h0M370.8 2087.7h0M423.7 1992.1h0M344.1 2027.9h0M439.3 2030.9h0M310.4 2020.8h0M378.9 2056.2h0M368.0 2000.1h0M389.2 2013.1h0M343.2 2065.9h0M377.1 2032.2h0M380.8 2032.3h0M360.2 2050.8h0M393.6 2058.9h0M353.9 1993.4h0M336.7 2091.0h0M366.3 2095.7h0M369.1 2002.3h0M380.0 1998.9h0M441.0 2032.4h0M374.6 2003.4h0M343.3 2092.8h0M325.6 2042.1h0M314.8 1987.8h0M382.6 1991.0h0M399.3 2086.2h0M366.0 2014.0h0M308.7 2042.4h0M349.3 1965.1h0M390.2 2017.0h0M375.5 2001.0h0M375.8 1981.6h0M405.9 2048.8h0M342.6 2038.7h0M346.4 2088.2h0M349.7 2010.5h0M342.7 2097.7h0M323.7 2085.8h0M414.3 2081.3h0M321.3 2028.8h0M335.6 2037.5h0M367.5 1993.0h0M333.9 2042.7h0M331.1 2066.4h0M386.7 2096.6h0M342.1 2017.2h0M392.7 2055.9h0M392.9 2015.3h0M431.7 2019.2h0M299.2 2027.6h0M389.4 2096.3h0M358.6 1999.2h0M337.2 2096.5h0M325.1 2013.4h0M419.2 2003.7h0M436.0 2005.5h0M376.4 2026.2h0M340.1 2047.4h0M356.7 2040.9h0M404.3 2056.2h0M364.1 2038.7h0M363.4 2094.4h0M338.3 2041.4h0M364.5 2042.7h0M335.7 2030.5h0M421.7 1984.4h0M415.3 1980.5h0M363.6 1999.1h0M388.8 2024.9h0M410.2 1978.8h0M395.5 2029.0h0M363.2 2045.5h0M351.2 2015.3h0M417.2 2013.6h0M398.6 2106.5h0M352.4 1970.5h0M412.9 1992.9h0M327.1 2057.6h0M386.9 2024.2h0M310.2 2002.5h0M302.7 2058.4h0M382.2 2037.2h0M409.6 2068.9h0M368.8 2097.4h0M410.1 2088.3h0M391.7 2036.3h0M420.5 2081.8h0M402.1 2044.7h0M362.0 2001.3h0M304.2 2032.9h0M352.7 2020.2h0M446.4 2028.1h0M367.5 1984.1h0"/><path stroke="#5b3eae" stroke-width="1.3" d="M367.8 2037.4h0M366.8 2003.0h0M396.6 2067.5h0M347.6 2050.6h0M371.4 2101.5h0M364.0 1960.3h0M390.0 1985.8h0M355.4 2037.3h0M346.5 2046.7h0M341.1 2033.9h0M341.6 2091.0h0M402.5 2030.0h0M358.2 2018.4h0M401.4 2040.9h0M379.4 1963.1h0M357.0 2045.3h0M359.5 2023.8h0M391.0 2041.9h0M367.1 2058.8h0M408.4 2014.4h0M388.7 1972.9h0M372.6 2089.5h0M377.1 2032.8h0M367.7 1997.2h0M352.6 2057.3h0M384.5 2082.8h0M325.0 2031.5h0M428.5 2024.7h0M410.2 2095.0h0M349.3 2048.3h0M315.6 2029.9h0M332.4 1980.4h0M373.9 2094.7h0M397.8 2038.8h0M314.6 2031.9h0M343.3 2053.7h0M400.3 1997.9h0M385.5 2103.1h0M355.0 2045.5h0M377.7 2018.8h0M366.0 2057.1h0M395.5 2014.0h0M388.1 2067.0h0M447.7 2054.2h0M398.3 1984.8h0M430.4 2061.3h0M319.8 1999.7h0M390.7 2002.2h0M321.3 2059.9h0M388.6 2001.7h0M362.2 2071.3h0M339.4 2010.1h0M370.1 2024.6h0M402.5 1986.1h0M392.3 2002.2h0M363.5 2062.9h0M380.1 2023.3h0M376.8 1976.1h0M325.4 2052.6h0M405.1 2019.1h0M393.4 2107.1h0M348.5 2021.1h0M408.7 2000.8h0M421.9 2022.4h0M410.9 2049.2h0M358.5 2067.0h0M352.6 2096.5h0M366.1 2070.1h0M444.8 2061.6h0M369.4 2011.7h0M384.0 2004.1h0M343.0 1991.4h0M383.2 2054.8h0M301.4 2044.0h0M395.4 2010.8h0M393.8 2008.3h0M342.7 2003.8h0M379.4 2022.2h0M398.6 2007.1h0M402.8 1985.6h0M402.1 2026.5h0M407.3 2021.3h0M421.7 2078.7h0M337.0 2080.6h0M345.2 2025.7h0M426.2 2086.5h0M353.8 2015.9h0M326.3 2039.9h0M379.7 2047.1h0M408.3 2053.6h0M342.2 2088.2h0M331.9 2049.5h0M366.0 2072.1h0M401.2 2025.7h0M412.6 2033.7h0M332.5 2065.8h0M444.8 2037.6h0M380.8 1968.4h0M411.8 2031.5h0M351.5 1998.9h0M424.2 2094.3h0M382.9 2054.0h0M371.0 2067.4h0M343.1 2001.6h0M331.3 2041.7h0M339.6 2057.9h0M378.7 2043.5h0M369.5 2016.8h0M393.8 2099.7h0M365.0 2049.2h0M371.0 2086.5h0M393.7 2057.6h0M406.8 2022.2h0M319.4 1997.1h0M353.3 2048.8h0M324.6 2009.6h0M386.9 2105.4h0M408.4 2046.0h0M353.8 2054.6h0M398.6 2064.3h0M385.8 2026.3h0M439.4 2022.3h0M372.3 2057.9h0M308.1 2008.2h0M337.3 2039.3h0M433.2 2048.4h0M415.8 2044.0h0M339.4 2096.3h0M448.9 2036.0h0M395.5 2046.2h0M441.9 2035.0h0M337.7 2027.8h0M433.7 2031.3h0M350.1 2066.3h0M424.1 2061.2h0M343.3 2002.3h0M390.6 2037.3h0M404.3 2022.9h0M375.0 2093.6h0M339.5 1972.1h0M332.3 2029.5h0M426.0 2077.0h0M377.6 2035.0h0M363.6 2084.2h0M389.6 1983.1h0M421.1 2068.3h0M377.5 2018.9h0M389.2 2082.8h0M428.5 2033.9h0M368.5 1985.5h0M439.8 2004.5h0M304.0 2005.1h0M345.6 2075.6h0M320.5 2069.5h0M435.6 2037.1h0M387.8 2070.0h0M414.6 2022.4h0M338.4 2091.2h0M312.9 2055.4h0M367.1 2052.2h0M445.8 2029.2h0M342.1 2021.4h0M386.8 2105.8h0M317.4 2021.1h0M338.8 2037.6h0M407.2 2007.7h0M426.9 2077.6h0M317.6 2036.1h0M442.8 2009.6h0M360.5 2056.4h0M380.7 1975.0h0M328.3 2093.4h0M440.5 2014.4h0M328.5 1986.5h0M385.8 2029.3h0M413.3 1983.8h0M355.5 2005.1h0M437.0 2025.8h0M430.3 1988.3h0M411.4 2044.0h0M329.9 1991.3h0M415.8 2081.1h0M415.6 2089.8h0M405.4 2072.0h0M348.8 2080.8h0M317.3 2013.9h0M397.0 2102.4h0M375.1 2070.7h0M395.8 2057.7h0M414.5 1970.1h0"/><path stroke="#2a1260" stroke-width="1.3" d="M445.1 2062.4h0M346.0 2049.1h0M383.7 2089.4h0M387.2 2023.8h0M309.7 2047.1h0M325.5 2031.5h0M367.9 2040.0h0M369.6 2056.6h0M368.1 2008.7h0M353.3 1963.6h0M429.5 1986.9h0M374.4 2025.0h0M409.7 1998.4h0M423.2 2006.8h0M344.4 2047.3h0M346.7 2058.7h0M408.0 2033.2h0M360.3 2087.2h0M351.3 2096.1h0M362.5 2017.7h0M341.3 1973.3h0M434.5 2046.7h0M401.0 1997.5h0M321.5 2070.1h0M359.1 2040.4h0M367.7 1975.8h0M356.2 2023.1h0M365.6 2051.4h0M394.1 2078.3h0M406.7 2036.3h0M407.7 2044.4h0M316.9 1986.1h0M404.0 2028.7h0M303.0 2019.7h0M400.3 2102.0h0M413.8 2055.3h0M408.2 2088.0h0M412.5 2098.7h0M397.4 2032.2h0M382.0 2004.6h0M432.9 2043.9h0M360.5 2007.2h0M394.3 2106.0h0M382.7 1966.7h0M340.4 2048.7h0M306.2 2053.8h0M375.0 1963.5h0M374.7 2038.4h0M384.7 2061.3h0M331.9 1992.4h0M408.4 2024.4h0M334.5 2099.3h0M418.2 2070.9h0M355.2 2047.5h0M421.1 1995.9h0M371.5 2071.4h0M368.3 2054.6h0M388.6 2045.7h0M385.1 2105.0h0M347.0 2031.0h0M349.3 2031.3h0M348.0 1977.3h0M365.3 2081.7h0M449.4 2016.3h0M349.3 2037.2h0M369.2 1959.2h0M323.8 2025.2h0M406.2 2083.0h0M403.2 2034.5h0M337.6 2046.3h0M333.7 1986.5h0M388.0 1969.3h0M399.0 2022.4h0M418.2 1987.3h0M380.6 1984.3h0M336.4 2101.8h0M364.1 1975.9h0M347.6 2021.6h0M382.6 1962.2h0M370.1 2043.2h0M396.1 1968.0h0M400.9 2016.4h0M408.6 2020.4h0M399.3 2050.6h0M376.9 2068.5h0M428.5 2087.0h0M343.7 2020.7h0M393.1 2102.8h0M382.7 2073.5h0M339.4 2017.0h0M368.6 2026.6h0M305.7 2064.0h0M367.2 2049.4h0M339.6 2024.8h0M328.3 1986.7h0M388.4 2058.2h0M326.3 2012.4h0M370.5 2013.3h0M416.6 1996.4h0M425.6 2085.5h0M384.1 2085.1h0M390.9 1977.3h0M376.9 2046.3h0M377.6 2011.2h0M398.3 2055.4h0M326.9 2058.4h0M407.0 2017.5h0M330.5 2003.7h0M400.7 2040.8h0M373.8 2023.8h0M431.8 1998.9h0M328.5 2096.1h0M370.6 2004.9h0M438.6 2068.5h0M409.6 2086.5h0M405.6 2016.2h0M359.2 1971.5h0M358.5 2067.2h0M316.1 2001.8h0M370.0 2101.1h0M322.1 2040.2h0M394.0 1995.4h0M368.1 2024.5h0M385.6 2036.8h0M359.2 2090.0h0M398.8 2046.6h0M351.7 2039.8h0M360.5 2109.2h0M359.5 1981.8h0M346.8 2038.7h0M335.1 2004.1h0M362.5 2041.2h0M404.0 2024.8h0M398.8 2099.5h0M306.4 2015.6h0M353.4 2050.6h0M345.5 2000.3h0M424.5 1991.4h0M390.8 2029.5h0M394.8 2011.7h0M370.4 1984.8h0M352.0 2023.0h0M386.2 2089.5h0M367.0 2038.3h0M368.4 2055.1h0M441.4 2070.8h0M341.2 2040.5h0M392.9 2029.0h0M363.5 2052.5h0M420.9 1976.6h0M320.7 2032.1h0M351.9 2014.5h0M377.8 2018.2h0M416.0 2024.5h0M406.0 2068.2h0M399.6 2056.5h0M376.7 1988.2h0M373.2 2030.4h0M358.8 2000.6h0M364.4 2012.1h0M327.6 2079.2h0M378.8 2055.1h0M400.5 1990.7h0M339.1 2081.2h0M346.7 2006.5h0M357.3 2076.2h0M382.8 1972.7h0M376.5 2000.6h0M380.7 2056.3h0M365.6 2000.0h0M375.2 2030.3h0M362.0 2033.5h0M337.2 2044.2h0M399.6 2108.6h0M365.1 2018.1h0M329.5 1979.4h0M351.8 2032.3h0M362.3 2003.4h0M365.3 1985.5h0M385.9 2049.8h0M393.5 1999.4h0M385.8 2034.6h0M348.6 2020.1h0M391.0 2009.4h0M385.4 2043.4h0M343.8 2031.0h0M378.9 2040.3h0M362.6 2031.0h0M440.5 2039.6h0M384.4 1986.4h0M350.0 1988.9h0M376.5 2012.1h0M304.9 2033.5h0M347.4 2036.1h0M311.7 2045.7h0M308.1 2039.0h0M386.6 2055.6h0M386.8 2093.3h0M352.2 2027.0h0M425.8 2040.7h0M380.9 2053.8h0M371.1 2034.1h0M367.5 2054.8h0M389.7 2011.7h0M407.0 2056.2h0M334.9 1998.8h0M399.9 2023.6h0M410.5 1982.8h0M362.8 2019.6h0M415.6 2058.0h0M389.5 2005.1h0M376.8 2023.8h0M352.4 2008.9h0M387.5 2016.5h0M401.7 2033.1h0M373.8 2013.6h0M368.2 2072.5h0M371.9 2020.8h0M376.3 1980.6h0"/><path stroke="#a898dc" stroke-width="1.9" d="M405.4 2048.1h0M385.1 2056.7h0M354.7 2085.3h0M358.8 2044.7h0M310.1 1997.7h0M410.8 2033.4h0M372.8 2001.3h0M393.6 2061.8h0M411.6 2080.5h0M436.1 2048.1h0M310.6 2054.3h0M444.7 2044.1h0M390.7 2042.8h0M396.2 2028.2h0M414.2 2014.8h0M371.5 2037.7h0M321.8 2011.8h0M327.3 1980.3h0M384.5 2101.3h0M320.5 1988.7h0M360.9 2046.2h0M416.5 1985.4h0M385.6 2016.3h0M371.8 2008.2h0M400.7 1983.4h0M416.7 2084.1h0M341.1 2017.1h0M350.2 2030.5h0M341.5 2032.0h0M423.4 1989.8h0M367.9 1985.2h0M388.9 2064.5h0M435.6 2057.8h0M400.6 1976.3h0M354.7 2057.7h0M353.6 2050.7h0M372.3 2055.5h0M362.2 2031.7h0M298.8 2029.4h0M359.7 2017.1h0M368.7 2040.6h0M342.7 1980.0h0M315.3 2051.7h0M369.9 2072.9h0M379.7 1999.4h0M395.9 2064.1h0M399.6 2063.0h0M373.8 2085.7h0M353.6 2100.7h0M358.5 2059.0h0M344.3 2016.0h0M389.2 2088.1h0M403.6 1987.0h0M306.4 2065.9h0M404.4 2023.7h0M336.6 2039.1h0M371.8 2046.6h0M393.8 2105.6h0M366.2 2009.7h0M412.2 1982.9h0M354.1 2092.1h0M354.7 1961.0h0M321.3 2092.0h0M361.1 1960.6h0M409.0 1972.3h0M392.0 2031.6h0M355.3 2031.9h0M409.1 2038.7h0M394.1 2050.7h0M348.1 2056.6h0M388.8 2075.2h0M416.5 2040.1h0M439.5 2021.0h0M357.6 2015.7h0M376.4 2004.9h0M358.3 2026.2h0M391.4 2011.4h0M381.8 2015.4h0M407.2 2039.0h0M376.6 2098.4h0M360.6 2046.1h0M360.2 2025.9h0M377.6 2074.2h0M363.5 1969.3h0M384.1 2069.1h0M382.8 2028.8h0M324.2 2036.8h0M400.9 2013.0h0M368.3 1963.5h0M395.9 2034.9h0M393.4 2020.6h0M395.2 2009.0h0M409.2 2091.2h0M347.9 2051.1h0M367.0 2112.2h0M308.6 2014.5h0M393.9 2049.9h0M436.1 2049.3h0M367.2 2041.4h0M394.3 1976.1h0M422.0 2055.8h0M423.2 2007.1h0M353.4 2044.5h0M397.8 2018.0h0M352.5 2110.6h0M440.9 2020.4h0M361.7 2039.7h0M393.9 2080.0h0M414.7 2101.5h0M382.5 2041.0h0M449.8 2033.0h0M322.6 2048.8h0M391.5 2049.1h0M438.8 2067.0h0M407.9 2038.7h0M354.9 2019.0h0M346.8 2103.6h0M405.9 2033.6h0M384.1 1968.7h0M366.6 2101.9h0M392.3 2068.4h0M356.9 2069.8h0M398.7 2058.7h0M344.8 1989.2h0M343.1 2013.4h0M403.0 2011.1h0M397.7 2030.1h0M377.2 1998.5h0M383.2 2035.5h0M330.7 2076.5h0M395.9 2061.2h0M411.6 2042.1h0M429.6 2002.9h0M383.0 2063.6h0M347.9 2032.6h0M405.1 2050.2h0M382.1 2076.3h0M383.4 2002.4h0M335.7 2032.7h0M320.3 2020.8h0M324.2 2064.4h0M299.1 2049.5h0M347.0 2022.8h0M374.0 2021.7h0M385.5 2024.4h0"/><path stroke="#5b3eae" stroke-width="1.9" d="M351.4 2095.5h0M299.3 2035.6h0M386.6 2064.2h0M374.0 2061.9h0M386.1 2067.6h0M379.5 2004.9h0M365.2 2019.6h0M391.9 1976.0h0M381.1 2053.6h0M346.0 2031.9h0M349.1 2091.9h0M433.5 1995.2h0M398.9 2055.3h0M400.3 1971.6h0M407.6 2012.4h0M313.0 1996.5h0M399.0 2051.0h0M353.2 2030.6h0M356.4 2034.1h0M352.4 2020.6h0M416.3 2009.9h0M363.7 2065.9h0M364.4 2088.2h0M434.9 2052.8h0M358.7 1976.6h0M355.4 2033.9h0M364.4 2069.6h0M418.7 2064.2h0M393.7 2039.2h0M351.1 2039.7h0M346.6 2042.8h0M362.1 2048.0h0M298.5 2051.6h0M420.4 1989.6h0M442.0 2060.8h0M338.2 2040.0h0M405.6 2048.8h0M371.1 2074.5h0M311.5 2049.8h0M368.1 2104.1h0M408.8 2038.6h0M349.7 1979.3h0M359.4 2033.2h0M428.2 2042.0h0M306.6 2007.0h0M404.6 2035.0h0M349.5 2026.9h0M344.5 2019.5h0M388.0 2074.0h0M395.9 2095.2h0M330.1 2022.8h0M350.4 2054.0h0M397.5 2039.1h0M445.4 2033.3h0M344.4 2031.8h0M329.8 2051.0h0M363.6 2000.4h0M419.4 2009.3h0M339.9 2083.1h0M437.7 2036.2h0M352.8 2048.0h0M407.4 2044.0h0M422.7 2021.2h0M378.0 2041.7h0M397.8 2097.6h0M428.1 2024.1h0M318.4 2032.3h0M370.0 2110.7h0M323.9 1991.2h0M360.0 2028.7h0M402.3 2002.3h0M311.3 2022.3h0M314.8 2063.3h0M417.5 2085.4h0M315.7 2038.9h0M368.6 2017.0h0M326.8 2045.5h0M370.8 2084.3h0M372.2 2095.5h0M380.7 2102.2h0M362.7 1978.8h0M370.6 2052.9h0M410.6 2074.7h0M339.7 1981.6h0M379.8 2001.8h0M392.0 2059.6h0M363.6 2026.3h0M403.6 2055.8h0M366.6 2003.0h0M373.5 2091.5h0M353.3 1987.7h0M366.3 2075.8h0M354.1 2047.9h0M415.8 1980.0h0M351.9 2016.2h0M425.5 2073.8h0M395.1 2022.1h0M354.0 2004.8h0M365.8 1987.6h0M323.2 1992.0h0M361.4 2049.2h0M345.8 2027.2h0M433.9 2083.6h0M389.9 2054.9h0M398.8 1967.5h0M356.8 2018.6h0M318.9 2065.8h0M358.7 2027.5h0M386.8 2059.3h0M386.5 1961.9h0M388.6 2044.1h0M323.7 2019.2h0M406.3 2032.0h0M427.8 2038.0h0M366.2 2042.6h0M342.8 2029.4h0M406.3 2018.1h0M359.3 2062.3h0M353.1 2037.5h0M398.3 2064.6h0M342.7 2097.0h0M335.1 2102.8h0M330.2 2098.4h0M338.0 2102.0h0M436.9 1999.2h0M369.6 2025.0h0M366.3 2001.3h0M321.1 2032.4h0M357.5 2006.9h0M341.1 2002.7h0M399.6 2062.4h0M435.6 2005.3h0M396.7 2042.9h0M399.6 2008.5h0M384.9 1991.3h0M334.2 2031.7h0M376.8 2048.5h0M429.7 1985.3h0M375.0 2056.3h0M404.1 2012.3h0M366.1 2030.2h0M375.8 2035.1h0M393.1 2036.5h0M356.5 2039.2h0M369.4 2063.9h0"/><path stroke="#2a1260" stroke-width="1.9" d="M384.7 2000.8h0M302.5 2053.9h0M308.7 2034.3h0M385.5 2077.9h0M383.2 2016.7h0M402.7 2058.5h0M350.9 2062.0h0M365.6 2059.2h0M337.6 1979.6h0M349.0 2053.6h0M365.9 2037.9h0M388.2 2012.9h0M351.6 1991.9h0M381.4 2105.0h0M435.4 2015.6h0M399.8 2025.3h0M390.4 2002.5h0M356.0 2012.6h0M425.3 2051.9h0M386.6 2107.1h0M311.6 2037.8h0M314.0 2002.5h0M331.5 1998.1h0M418.5 2020.8h0M396.9 2039.3h0M381.8 2075.6h0M418.4 2002.9h0M315.0 2084.6h0M428.9 1994.2h0M360.4 2023.4h0M376.1 2023.6h0M352.3 2049.6h0M356.2 2050.1h0M403.7 1990.7h0M362.9 1959.1h0M393.6 2038.2h0M361.1 2014.2h0M378.8 2025.7h0M367.7 2062.1h0M379.2 2054.3h0M374.0 2000.2h0M376.8 1977.3h0M317.0 2077.0h0M324.7 2022.8h0M351.8 2040.9h0M324.1 2002.6h0M313.4 2068.8h0M376.4 2089.3h0M367.4 1998.5h0M411.4 2053.7h0M396.3 2084.9h0M381.0 1959.8h0M349.2 2022.0h0M386.5 2033.6h0M314.8 1992.0h0M423.6 2038.6h0M376.6 1963.0h0M348.4 2014.6h0M371.0 2066.8h0M372.0 2102.2h0M449.8 2020.6h0M390.2 2105.8h0M414.5 2045.2h0M422.0 2012.3h0M360.3 2051.5h0M362.3 2070.6h0M306.7 2009.7h0M391.6 2009.3h0M430.7 2000.4h0M330.8 2049.5h0M352.6 2029.3h0M440.4 2029.0h0M353.7 2019.5h0M423.9 1985.5h0M406.6 2057.1h0M364.9 1970.0h0M348.8 2056.1h0M448.6 2038.6h0M313.6 2031.4h0M378.0 2096.5h0M333.1 2073.8h0M409.4 2090.3h0M363.8 2081.2h0M355.5 2011.2h0M341.7 2047.2h0M357.2 1992.2h0M382.4 2020.8h0M383.0 2023.7h0M352.2 2036.2h0M403.4 2018.3h0M398.2 2056.5h0M356.0 2042.5h0M331.0 2044.1h0M435.1 2060.0h0M395.5 2095.5h0M428.2 2020.1h0M437.2 2053.3h0M344.1 2098.6h0M362.2 2112.6h0M378.5 1971.6h0M407.2 2057.1h0M407.8 2006.0h0M410.9 2042.5h0M355.5 2014.7h0M336.8 1999.2h0M423.3 2080.6h0M389.4 2064.9h0M369.2 2096.1h0M373.7 2046.5h0M358.9 2047.9h0M407.8 2042.4h0M431.7 2050.8h0M424.4 2022.2h0M398.7 2035.4h0M344.1 2020.6h0M364.8 2111.1h0M397.5 2021.7h0M383.1 2018.5h0M374.0 2084.3h0M409.8 2047.0h0M361.4 2038.9h0M391.2 2017.3h0M399.6 2012.8h0M383.9 1962.9h0M348.2 2048.9h0M364.7 2080.3h0M381.8 2046.1h0M437.9 2061.3h0M408.4 2030.1h0M355.8 1984.5h0M403.9 2046.3h0M370.6 2013.0h0M363.1 2063.1h0M395.1 2039.1h0M336.3 2046.4h0M375.6 1959.6h0M338.7 2056.4h0M374.5 2063.9h0M393.0 1967.7h0M426.9 2080.0h0M347.0 2032.1h0M335.8 1992.3h0M415.6 1982.2h0M394.6 2030.9h0M364.9 1983.9h0M396.3 2020.9h0M387.3 2022.7h0M405.0 2074.8h0M364.2 1998.5h0M405.5 2001.3h0M362.6 2065.1h0M352.4 2074.4h0M399.2 2032.5h0M321.2 2048.0h0M369.4 2017.5h0M361.8 1979.9h0M361.2 2110.8h0M327.0 2085.1h0M377.6 2051.2h0M359.5 2030.6h0M329.0 2013.0h0M316.2 2058.1h0M333.4 2054.4h0M387.7 2036.2h0M400.6 1970.0h0M349.3 2059.0h0"/><path stroke="#a898dc" stroke-width="2.6" d="M350.6 2044.0h0M388.9 2087.1h0M367.7 2072.9h0M375.8 1960.8h0M328.3 2042.8h0M433.8 2055.3h0M326.0 2028.2h0M394.9 2031.3h0M414.3 2095.4h0M383.0 1964.9h0M407.3 2027.7h0M418.5 2036.4h0M376.3 1995.0h0M349.9 2027.8h0M335.5 2003.0h0M337.6 2024.4h0M446.1 2026.6h0M344.0 2031.3h0M405.8 2054.5h0M349.5 2033.5h0M373.8 2036.0h0M359.9 2048.0h0M388.4 2050.1h0M410.7 2072.3h0M366.9 2087.4h0M391.9 2001.1h0M382.8 2024.9h0M399.0 2021.8h0M374.1 1987.2h0M402.6 2091.0h0M382.7 2041.2h0M353.3 2005.2h0M392.0 2100.1h0M377.8 2076.7h0M386.7 1988.9h0M404.9 2017.2h0M354.0 2026.4h0M393.3 1964.6h0M429.7 2055.6h0M386.4 2007.5h0M426.6 2052.6h0M394.7 2110.5h0M406.4 2012.5h0M364.5 2095.3h0M367.9 2026.9h0M429.2 2072.1h0M401.4 2024.7h0M329.2 2008.2h0M328.0 1992.9h0M354.4 2057.9h0M450.0 2020.4h0M337.2 2073.7h0M376.6 2022.9h0M349.1 2017.8h0M380.9 2069.6h0M335.4 2062.7h0"/><path stroke="#5b3eae" stroke-width="2.6" d="M369.9 2072.8h0M341.0 1996.2h0M386.0 2051.2h0M326.2 2073.4h0M329.3 2055.0h0M378.7 2017.2h0M385.1 2005.3h0M359.2 2029.9h0M319.7 1982.4h0M378.2 2086.7h0M395.1 2011.7h0M337.7 2094.0h0M370.1 2007.9h0M376.3 1975.8h0M400.3 2081.7h0M367.9 2078.5h0M385.1 2067.6h0M378.9 2017.2h0M354.3 1971.1h0M356.6 2055.1h0M356.9 1960.9h0M346.9 2064.9h0M371.9 2024.5h0M343.8 1987.8h0M411.6 1971.9h0M379.7 1991.3h0M309.6 2022.8h0M409.6 2037.5h0M375.0 2063.4h0M359.3 2058.0h0M373.7 2053.7h0M393.3 1998.1h0M373.3 2073.4h0M378.0 2109.2h0M363.1 1962.9h0M373.6 1988.0h0M329.6 2027.1h0M354.4 1996.6h0M319.8 1984.2h0M374.3 2105.1h0M360.9 2063.2h0M350.0 1964.5h0M365.6 2029.1h0M349.9 2031.6h0M398.2 2098.0h0M364.3 2079.7h0M396.0 1993.4h0M359.9 2044.8h0M381.3 1984.3h0M425.0 1994.0h0M336.1 1977.8h0M339.6 2074.8h0M319.5 1998.0h0M360.0 1982.8h0M438.8 2065.8h0M367.0 2059.3h0M398.8 1977.8h0M432.0 2035.6h0M376.7 1992.0h0M398.0 2079.7h0M433.9 1986.6h0M368.1 2019.9h0M363.2 2077.6h0M406.3 2015.7h0M326.0 1979.2h0M429.5 2034.8h0M337.9 2074.0h0M402.0 2027.2h0M347.8 1963.7h0"/><path stroke="#2a1260" stroke-width="2.6" d="M345.4 2034.2h0M332.1 2091.0h0M369.8 1968.0h0M429.3 2030.2h0M351.4 2008.2h0M399.6 1964.4h0M348.9 2029.4h0M320.3 2073.0h0M444.0 2043.6h0M335.4 2095.1h0M430.9 2030.6h0M396.4 2088.9h0M370.8 2029.8h0M318.9 2049.8h0M303.6 2067.4h0M307.1 2046.1h0M402.7 2011.2h0M379.3 2015.6h0M332.2 1993.2h0M401.5 2018.7h0M388.2 2015.0h0M414.7 2031.8h0M310.5 2026.8h0M334.6 2030.3h0M409.8 2037.7h0M384.4 2058.1h0M376.1 2104.7h0M398.9 2101.0h0M333.6 2053.5h0M351.7 1985.5h0M304.1 2031.8h0M413.3 2032.8h0M330.9 2006.2h0M321.3 2024.8h0M401.4 2009.2h0M363.9 2036.7h0M393.1 2093.9h0M387.7 2071.9h0M365.4 2012.3h0M335.5 2044.3h0M426.3 2070.2h0M398.9 2011.5h0M390.3 2053.3h0M366.0 2024.0h0M348.5 2039.8h0M372.7 2049.6h0M350.0 2067.3h0M413.4 1981.3h0M381.4 1971.2h0M375.4 2057.5h0M320.1 2047.1h0M415.0 2048.5h0M339.8 1984.2h0M388.1 2081.1h0M348.7 2045.8h0M344.3 2092.4h0M400.3 2022.9h0M338.6 2022.6h0M375.3 2038.2h0M394.5 2052.9h0M330.7 2064.0h0M364.1 2097.0h0M424.3 2094.6h0M404.5 2040.2h0M379.5 2071.2h0M378.7 2031.9h0M409.6 2084.7h0"/></g>
<circle cx="374.1" cy="2036" r="77.8" fill="none" stroke="#2b2b2b" stroke-width="2.3"/>
<circle cx="537.8" cy="2036.5" r="77.8" fill="url(#rg3)"/>
<g clip-path="url(#cp3)" fill="none" stroke-linecap="round"><path stroke="#9a8ee0" stroke-width="1.5" d="M501.3 2026.1h0M594.2 2061.1h0"/><path stroke="#9a8ee0" stroke-width="3.0" d="M541.7 2075.9h0"/></g>
<circle cx="537.8" cy="2036.5" r="77.8" fill="none" stroke="#2b2b2b" stroke-width="2.3"/>
<circle cx="1014.6" cy="2035.7" r="78.5" fill="url(#rg4)"/>
<g clip-path="url(#cp4)" fill="none" stroke-linecap="round"><path stroke="#c8bfe8" stroke-width="1.2" d="M994.6 2051.0h0M1033.9 2072.2h0M973.5 2006.3h0M1034.5 2076.3h0M1040.2 1979.4h0M1038.9 2032.9h0M1063.6 2047.2h0M943.0 2036.3h0M1047.4 2101.4h0M1057.4 2083.1h0M1041.6 2016.6h0M985.2 2092.0h0M987.6 2019.9h0M1055.7 2091.4h0M974.9 2029.6h0M1056.4 1986.2h0M1071.4 2031.2h0M975.0 2032.9h0M940.5 2036.1h0M1029.0 2066.9h0M1071.8 2079.6h0M1081.0 2051.8h0M1076.7 2013.1h0M938.6 2037.0h0M1046.1 2073.5h0M1052.7 2069.3h0M1060.0 2089.3h0M955.9 2019.1h0M1033.2 2106.4h0M1073.2 1986.0h0M1092.9 2040.9h0M987.0 2008.1h0M997.1 2075.3h0M1038.9 2034.9h0M954.1 2083.6h0M1008.4 1984.4h0M1050.1 2041.8h0M1019.4 2099.9h0M1001.7 2102.1h0M950.4 2003.3h0M999.7 2022.7h0M1027.8 2104.5h0M1060.6 2078.1h0M975.6 2038.3h0M1055.4 2037.6h0M1007.3 2055.4h0M994.4 2021.3h0M1017.5 2004.0h0M1039.7 2085.7h0M964.6 2072.6h0M1081.7 2026.7h0M1083.7 2000.0h0M1050.6 2102.2h0M1087.7 2008.0h0M1043.0 2056.6h0M1050.9 2084.8h0M992.6 2034.3h0M974.3 2002.7h0M1044.8 1995.6h0M1059.2 1980.2h0M1043.7 2033.9h0M971.2 1972.2h0M1078.1 2064.2h0M950.7 2058.0h0M1036.7 1975.8h0M1022.2 2094.5h0M1080.6 2075.5h0M1031.1 2079.5h0M1067.2 1986.6h0M1006.3 1987.3h0M944.7 2020.8h0M1023.2 2068.1h0M942.4 2022.0h0M981.1 1969.2h0M1041.4 2039.9h0M948.9 2037.3h0M997.7 2100.2h0M1026.5 1976.5h0M1039.7 1999.2h0M1069.2 2044.9h0M1055.9 1997.3h0M1008.6 2073.9h0M1062.4 1985.5h0M1071.3 2006.8h0M1079.4 2040.7h0M998.6 2010.5h0M1032.4 2071.6h0M1047.7 2082.8h0"/><path stroke="#7858b8" stroke-width="1.2" d="M1082.8 2054.7h0M1036.9 1998.7h0M1025.8 2019.8h0M957.2 2057.6h0M1081.7 2022.2h0M956.3 2034.8h0M1004.0 1982.6h0M953.4 1998.4h0M962.1 1983.2h0M970.0 1992.6h0M993.5 2103.4h0M1053.7 2103.3h0M1026.9 2018.0h0M958.5 2021.1h0M1050.3 2041.8h0M1049.0 2075.3h0M979.3 2014.2h0M1000.3 2088.4h0M1036.0 1966.0h0M1017.3 2035.6h0M971.8 2100.3h0M973.4 2057.7h0M1008.7 2078.4h0M1000.1 2036.3h0M1029.6 2007.2h0M965.7 1980.7h0M1067.6 2087.9h0M990.0 2069.6h0M980.0 2094.6h0M973.2 2094.9h0M1051.9 2034.7h0M1001.3 2006.1h0M1049.6 2096.3h0M1030.3 2063.4h0M955.2 2005.8h0M987.7 2079.8h0M1020.5 2041.1h0M1020.6 2018.1h0M1045.2 2047.0h0M979.8 1977.0h0M1019.9 1984.7h0M942.4 2023.9h0M1021.3 1998.4h0M983.6 2105.9h0M1050.5 2068.5h0M1076.3 2067.3h0"/><path stroke="#33165e" stroke-width="1.2" d="M958.1 2046.0h0M989.7 1977.3h0M1019.1 2079.3h0M1026.7 1964.0h0M1060.1 2007.4h0M1066.1 2070.0h0M1013.4 2059.4h0M1030.5 2051.0h0M1024.0 2026.5h0M1031.3 2057.1h0M1041.4 2053.2h0M980.3 2042.0h0M1039.6 2010.4h0M1046.6 1965.9h0M993.2 2071.7h0M1029.0 2061.8h0M966.6 1994.4h0M953.1 2000.8h0M1002.8 1991.2h0M939.4 2034.0h0M992.3 2024.5h0M1053.1 2000.0h0M967.1 2006.5h0M967.3 2072.2h0M1028.7 1975.1h0M980.3 2038.3h0M1046.9 1989.9h0M1017.9 1981.5h0M1065.8 2006.5h0"/><path stroke="#c8bfe8" stroke-width="1.7" d="M1038.0 1964.2h0M1039.5 1968.7h0M1000.2 2008.8h0M1029.4 2083.9h0M1035.2 2031.2h0M1018.6 2043.0h0M1019.1 2043.7h0M1030.7 1974.3h0M1036.6 2105.9h0M946.7 2048.0h0M1019.8 1988.7h0M1076.0 2072.1h0M1062.2 2002.9h0M956.9 2040.6h0M987.0 1980.0h0M964.6 1990.0h0M974.3 2064.7h0M1059.8 2021.4h0M1022.6 2005.0h0M1032.6 2010.4h0M961.5 2020.0h0M1050.6 1966.9h0M1030.4 1972.4h0M979.7 1999.7h0M1065.2 2091.2h0M1059.3 2030.9h0M1034.9 2091.6h0M1068.3 2026.8h0M965.2 2000.2h0M994.2 2083.3h0M970.4 2025.1h0M1063.1 2096.8h0M1031.9 2013.0h0M961.2 2018.6h0M1037.5 2053.3h0M1035.8 2067.7h0M987.1 2069.2h0M964.0 2007.6h0M1012.3 2032.4h0M1050.5 2058.2h0M1016.0 2012.1h0M1012.8 2099.9h0M1021.6 2020.6h0M1010.0 2010.1h0M966.1 2089.7h0M1052.2 2017.0h0M1088.4 2017.8h0M949.2 2050.2h0M967.3 2031.6h0M1041.1 2044.6h0M983.6 2070.1h0M980.7 2075.5h0M1060.0 2053.6h0M984.9 2072.5h0M1040.5 1978.9h0M1022.0 2047.2h0M1007.6 1984.2h0M1013.2 2015.0h0M1031.1 1973.8h0M942.5 2040.1h0M1048.8 2002.5h0M1014.2 2015.8h0M1011.9 2049.2h0M990.9 2063.8h0M1002.0 2053.3h0M992.0 2017.8h0M1057.8 2015.3h0M984.8 1963.1h0M965.0 2009.5h0M953.7 2057.5h0M1057.3 2002.3h0M1048.7 2047.8h0M955.8 2035.0h0M986.2 1967.9h0M991.8 2034.8h0M958.6 2004.5h0M1028.4 2005.1h0"/><path stroke="#7858b8" stroke-width="1.7" d="M1017.2 2055.0h0M1034.1 1975.1h0M1004.0 2023.6h0M1033.0 2002.2h0M1018.2 2043.9h0M992.6 1965.0h0M1000.6 1963.5h0M1069.7 1986.0h0M992.3 2109.8h0M1057.3 2063.8h0M1087.7 2026.5h0M1062.6 1989.7h0M1087.4 2041.1h0M1058.2 1990.5h0M1009.5 2063.8h0M987.1 1965.9h0M1045.1 2061.6h0M991.5 2028.9h0M1068.4 2031.8h0M993.0 2014.6h0M1023.5 1993.8h0M953.2 2023.8h0M963.7 2074.3h0M1050.5 2026.4h0M1030.8 1975.5h0M976.1 1969.5h0M1058.5 2000.6h0M1006.0 2067.7h0M1024.9 1992.5h0M986.5 2099.3h0"/><path stroke="#33165e" stroke-width="1.7" d="M985.5 2097.0h0M1085.9 2014.9h0M1024.4 2010.8h0M997.2 2069.1h0M1039.5 2031.7h0M953.5 2009.6h0M1016.6 1979.8h0M962.0 2007.9h0M955.4 2064.5h0M1032.0 1967.5h0M1038.8 2017.5h0M1073.3 2059.0h0M1068.4 1995.4h0M945.3 2034.0h0M937.6 2021.6h0M1010.8 1959.9h0M1051.5 2069.1h0"/><path stroke="#c8bfe8" stroke-width="2.3" d="M1036.1 2026.3h0M993.3 2055.3h0M1014.8 2063.2h0M956.5 2072.9h0M1018.8 2071.3h0M979.9 2020.6h0M1051.3 2036.5h0M1005.0 2026.6h0M1024.7 2053.5h0M1072.7 2004.4h0M1022.6 2028.8h0M994.8 2045.8h0M1004.7 1971.5h0M1018.0 1968.4h0M955.9 2080.7h0M1003.4 1991.5h0M1044.9 2046.6h0M991.9 1975.8h0M1014.2 1965.9h0M1005.7 2101.4h0M957.0 2080.8h0M1021.5 2106.0h0M1045.6 1974.7h0M1037.3 2057.0h0M963.0 2007.3h0M1014.4 1987.3h0M1030.5 2017.9h0M998.2 2087.5h0M986.8 2031.9h0M994.1 1991.9h0"/><path stroke="#7858b8" stroke-width="2.3" d="M947.4 2002.8h0M1035.7 2031.8h0M1040.5 2062.4h0M984.4 2037.8h0M974.0 2006.5h0M1053.2 2032.7h0M988.4 2001.1h0M1013.5 2066.9h0M1018.7 2015.1h0M1087.2 2063.1h0M1083.2 2022.6h0M981.2 1990.1h0M998.5 2009.3h0M1053.5 1977.5h0M983.7 2078.2h0M1043.7 1996.2h0"/><path stroke="#33165e" stroke-width="2.3" d="M1007.5 1973.9h0M1027.3 2022.9h0M1021.7 2067.5h0M952.6 2018.0h0M1047.3 2039.3h0M1038.4 2060.4h0M1033.5 2073.0h0"/></g>
<circle cx="1014.6" cy="2035.7" r="78.5" fill="none" stroke="#2b2b2b" stroke-width="2.3"/>
<circle cx="1180" cy="2035.7" r="78.5" fill="#fefefe"/>
<g clip-path="url(#cp5)" fill="none" stroke-linecap="round"><path stroke="#9a8ee0" stroke-width="1.5" d="M1239.6 2004.0h0"/><path stroke="#9a8ee0" stroke-width="2.2" d="M1176.8 1973.8h0"/><path stroke="#9a8ee0" stroke-width="3.0" d="M1134.8 1974.3h0"/></g>
<circle cx="1180" cy="2035.7" r="78.5" fill="none" stroke="#2b2b2b" stroke-width="2.3"/>
<circle cx="1345.2" cy="2035.5" r="78.5" fill="url(#rg6)"/>
<g clip-path="url(#cp6)" fill="none" stroke-linecap="round"><path stroke="#cdc4ec" stroke-width="1.3" d="M1375.7 1972.6h0M1331.2 2012.6h0M1356.8 1981.9h0M1321.9 2020.8h0M1392.6 2012.3h0M1289.1 1987.8h0M1379.2 2077.8h0M1387.5 2037.1h0M1372.2 1971.5h0M1351.8 2048.1h0M1288.6 2048.5h0M1279.8 2071.9h0M1329.7 2065.8h0M1338.8 2009.7h0M1397.3 2007.8h0M1330.6 2097.1h0M1325.4 2021.9h0M1374.5 2037.3h0M1307.2 2097.3h0M1374.5 1997.7h0M1409.2 2075.7h0M1354.6 1979.7h0M1363.9 1975.1h0M1402.3 2079.1h0M1395.6 1975.9h0M1359.9 2036.8h0M1361.9 2018.8h0M1375.1 2020.1h0M1377.9 1981.7h0M1321.0 2108.9h0M1394.5 2061.9h0M1370.7 2086.8h0M1323.5 2051.6h0M1363.8 2072.3h0M1347.7 2047.4h0M1295.3 1993.2h0M1366.8 2093.1h0M1386.4 2084.8h0M1296.2 2091.8h0M1308.5 2012.4h0M1395.3 2013.8h0M1405.5 2085.5h0M1277.8 2073.9h0M1334.7 2002.0h0M1393.8 2045.6h0M1337.8 1992.1h0M1398.6 2039.6h0M1385.2 1969.4h0M1337.4 2045.8h0M1284.8 2026.4h0M1355.8 2011.2h0M1292.4 1991.3h0M1389.8 2029.2h0M1412.9 2009.8h0M1407.7 2065.5h0M1286.3 1985.5h0M1324.8 2109.8h0M1340.7 2009.5h0M1276.9 2053.8h0M1349.1 2110.6h0M1341.5 1994.6h0M1337.0 2092.0h0M1374.2 1963.3h0M1361.4 2012.2h0M1340.9 1991.6h0M1370.7 2025.9h0M1354.8 2039.0h0M1326.1 2031.1h0M1399.1 1993.7h0M1330.7 2111.0h0M1344.7 2106.0h0M1296.6 1993.9h0M1385.0 1967.9h0M1311.6 2074.0h0M1316.5 1969.2h0M1308.1 2035.3h0M1357.4 2075.6h0M1388.6 2069.2h0M1365.4 2080.5h0M1351.2 2026.1h0M1282.2 2045.1h0M1369.7 2014.4h0M1340.2 1999.5h0M1315.4 1978.1h0M1364.1 2043.4h0M1360.5 2068.1h0M1397.7 2039.7h0M1350.4 2011.7h0M1342.8 2032.0h0M1322.2 2003.9h0M1350.2 2088.3h0M1397.9 2085.9h0M1319.8 1963.0h0M1376.6 2050.3h0M1315.0 2027.6h0M1364.6 2060.4h0M1312.8 1997.0h0M1338.5 1961.5h0M1311.3 1979.7h0M1301.4 2017.9h0M1371.2 2075.5h0M1313.8 2096.2h0M1345.4 2079.0h0M1390.3 1988.7h0M1387.2 2000.0h0M1401.0 1988.4h0M1387.6 1972.0h0M1371.4 2093.9h0M1281.6 2043.4h0M1390.8 2097.3h0M1317.1 2017.0h0M1317.1 2041.7h0M1300.2 2009.8h0M1348.3 2062.4h0M1302.3 1996.7h0M1408.3 2040.8h0M1279.3 2000.5h0M1355.9 2111.1h0M1313.0 2067.0h0M1411.7 2077.0h0M1332.1 2013.5h0M1350.4 2039.5h0M1325.0 2039.7h0"/><path stroke="#6e50b0" stroke-width="1.3" d="M1324.0 2032.8h0M1339.2 2065.3h0M1353.4 2083.7h0M1280.1 2053.2h0M1300.8 2065.9h0M1330.5 2073.2h0M1384.8 2008.6h0M1301.9 2023.7h0M1407.4 2038.4h0M1347.1 1962.9h0M1367.1 2025.7h0M1319.6 2033.6h0M1330.0 2030.7h0M1419.5 2048.1h0M1293.7 2045.0h0M1288.6 1981.4h0M1414.2 2036.2h0M1283.6 2011.2h0M1305.1 2101.6h0M1312.5 2092.9h0M1422.1 2020.8h0M1326.2 2007.1h0M1334.7 2056.0h0M1321.9 1997.6h0"/><path stroke="#2a0f55" stroke-width="1.3" d="M1344.3 2034.1h0M1351.3 1987.9h0M1280.2 1995.1h0M1380.5 2077.2h0M1308.2 2066.4h0M1394.6 1994.4h0M1275.5 2028.2h0M1347.2 2022.0h0M1329.1 2054.4h0M1329.6 2015.3h0M1326.5 1976.1h0M1279.7 2058.1h0M1408.3 2024.5h0M1390.3 2053.7h0M1389.1 1985.2h0M1370.7 2027.0h0M1320.2 2049.4h0M1338.3 2089.5h0M1369.9 1974.9h0M1347.5 2033.4h0M1394.3 2055.4h0M1310.5 2001.4h0M1369.0 1993.9h0M1320.8 2002.1h0M1301.4 2012.5h0M1291.7 2087.9h0M1320.0 2083.0h0M1311.7 2080.8h0M1353.1 1995.9h0M1291.4 2065.9h0M1303.8 1986.1h0M1409.6 2069.0h0M1286.4 2042.2h0M1284.5 2036.2h0M1333.9 2084.4h0M1375.4 2070.8h0M1361.1 2095.5h0M1324.6 2061.3h0M1295.5 2029.8h0M1297.0 2001.9h0M1397.7 2073.9h0M1369.0 2066.3h0M1354.1 2010.4h0M1390.4 2071.2h0M1313.0 1997.6h0M1328.4 1964.8h0M1327.4 1975.7h0M1409.1 2030.8h0M1305.1 1991.0h0M1333.2 2110.3h0M1398.3 1978.5h0M1364.8 2008.4h0M1312.9 1987.5h0M1399.1 2007.3h0M1395.4 1987.9h0M1405.3 2033.0h0M1271.6 2044.3h0M1312.7 2061.5h0M1364.0 2085.5h0M1302.2 2035.8h0M1327.7 1962.7h0M1326.0 1985.3h0M1342.5 2043.4h0M1325.3 2090.0h0M1323.4 2015.1h0M1306.1 2075.5h0M1353.0 1997.7h0M1278.2 2003.7h0M1375.1 2013.3h0M1375.9 2081.3h0M1291.1 1979.2h0M1299.6 2084.7h0M1407.6 2039.9h0M1404.0 2029.5h0M1330.8 2110.8h0M1324.7 2032.3h0M1372.1 2017.1h0M1319.3 2084.2h0M1349.7 2046.9h0M1368.5 2094.5h0M1318.3 2097.9h0M1411.4 2060.4h0M1348.1 2112.9h0M1413.7 2036.6h0M1397.5 2081.2h0M1331.0 2001.3h0M1311.5 2055.5h0M1319.9 2018.1h0M1321.0 2065.8h0M1363.0 2013.4h0M1288.2 2087.5h0"/><path stroke="#cdc4ec" stroke-width="1.8" d="M1312.7 2024.1h0M1317.5 1970.8h0M1352.6 2012.7h0M1353.0 2058.2h0M1336.7 2045.6h0M1410.6 2040.7h0M1382.6 2009.9h0M1329.1 2044.0h0M1388.3 2061.3h0M1291.5 2088.5h0M1377.8 2024.3h0M1382.9 2083.6h0M1385.8 2057.1h0M1304.5 1983.0h0M1331.6 2031.8h0M1358.3 1963.9h0M1274.9 2065.6h0M1406.1 2072.8h0M1373.1 1964.4h0M1324.5 2019.8h0M1368.1 2032.6h0M1422.0 2020.6h0M1397.7 2029.3h0M1309.4 1977.9h0M1271.6 2037.7h0M1308.4 2080.4h0M1330.4 1964.5h0M1403.4 2082.0h0M1374.6 2017.5h0M1351.6 2029.8h0M1394.3 2058.8h0M1391.6 2040.1h0M1346.9 1987.8h0M1350.8 1983.7h0M1355.8 2043.7h0M1335.7 2110.1h0M1367.2 2057.9h0M1317.4 2088.5h0M1341.4 2031.0h0M1340.3 2052.0h0M1376.2 2038.4h0M1321.8 2007.5h0M1396.3 2005.6h0M1373.4 2036.1h0M1323.2 2080.5h0M1304.1 2051.8h0M1287.9 2045.8h0M1352.1 2066.8h0M1378.5 2002.4h0M1402.5 1987.6h0M1383.9 1988.5h0M1398.5 1998.9h0M1299.6 2058.9h0M1321.3 1999.0h0M1331.0 2106.4h0M1405.2 2014.9h0M1401.0 2016.1h0M1346.0 1978.0h0M1326.6 2008.9h0M1400.0 2044.2h0M1321.6 2048.5h0M1421.2 2044.5h0M1381.9 1980.9h0M1358.1 2049.9h0M1386.8 2023.6h0M1354.8 2071.6h0M1280.3 2074.8h0M1320.1 2056.3h0M1333.4 2041.6h0M1322.8 2082.9h0M1334.7 2014.3h0M1359.3 1999.5h0M1318.7 2023.3h0M1321.1 2081.9h0M1303.4 2017.1h0M1380.8 2036.4h0M1334.8 2110.3h0M1405.6 2074.5h0M1326.2 2086.0h0M1309.2 1967.2h0M1360.0 2090.3h0M1367.3 2001.6h0M1304.7 1971.9h0M1341.7 2103.7h0M1368.2 2054.2h0M1411.1 2073.2h0M1321.2 2018.0h0M1370.8 2072.1h0M1268.8 2042.5h0M1384.0 2024.6h0M1401.2 2073.4h0M1399.7 2010.1h0M1312.3 2010.6h0M1333.2 2068.1h0M1368.2 1991.0h0M1355.3 2041.0h0M1293.7 2080.0h0"/><path stroke="#6e50b0" stroke-width="1.8" d="M1354.5 2014.5h0M1310.6 2018.6h0M1312.5 2046.5h0M1360.1 2107.7h0M1300.8 2009.4h0M1309.8 1988.3h0M1318.2 1998.0h0M1361.5 2038.6h0M1359.0 2004.2h0M1311.4 1985.2h0M1398.7 2067.7h0M1384.3 2032.0h0M1291.1 2079.1h0M1376.2 2056.4h0M1369.0 2078.8h0M1403.9 2000.6h0"/><path stroke="#2a0f55" stroke-width="1.8" d="M1287.7 2070.0h0M1324.9 1975.8h0M1313.9 2098.6h0M1295.8 2039.2h0M1274.4 2057.5h0M1394.7 2034.7h0M1345.3 1960.2h0M1343.3 2095.9h0M1324.9 1959.9h0M1304.8 2008.5h0M1382.8 2057.0h0M1384.1 1971.5h0M1387.8 1969.9h0M1387.4 2072.0h0M1370.6 2074.5h0M1358.4 2065.6h0M1362.8 1985.5h0M1360.3 2049.9h0M1312.4 2083.1h0M1374.0 2046.5h0M1354.3 2038.5h0M1351.7 2005.4h0M1384.7 2098.1h0M1305.2 1987.3h0M1380.0 2030.3h0M1314.6 2054.1h0M1310.8 2051.4h0M1411.8 2061.4h0M1329.7 2003.5h0M1350.2 2031.1h0M1340.0 2027.4h0M1373.2 2009.5h0M1307.4 2032.8h0M1372.4 2039.2h0M1327.3 1993.9h0M1393.7 2093.0h0M1392.9 2065.3h0M1325.8 2011.0h0M1335.1 2096.2h0M1351.7 2091.5h0M1350.1 1959.3h0M1321.5 2055.7h0M1366.3 2048.4h0M1334.0 1962.5h0M1370.5 2041.9h0M1385.8 2014.9h0M1309.9 2078.7h0M1327.7 2101.7h0M1362.3 1966.4h0M1409.4 1996.3h0M1358.9 1964.6h0M1300.3 2078.2h0M1375.6 2010.5h0M1325.6 2073.8h0M1325.9 2083.6h0M1368.0 1985.9h0M1351.4 1959.4h0M1297.4 2034.3h0M1321.6 2070.4h0M1309.3 2069.0h0M1404.5 2019.8h0M1314.9 2008.0h0M1299.6 2048.4h0M1415.3 2025.5h0M1384.8 2041.0h0"/><path stroke="#cdc4ec" stroke-width="2.5" d="M1388.9 2017.7h0M1372.4 2025.4h0M1351.3 2016.7h0M1411.0 2073.7h0M1275.2 2068.0h0M1365.9 2053.1h0M1290.8 1980.5h0M1318.9 2004.4h0M1270.1 2013.6h0M1337.2 1980.8h0M1367.7 2095.6h0M1276.2 1998.5h0M1315.1 2017.4h0M1350.9 2050.8h0M1403.5 2020.2h0M1290.2 2022.2h0M1370.4 2008.7h0M1358.7 2063.4h0M1335.0 1967.2h0M1299.9 2020.2h0M1390.0 2099.8h0M1310.5 1973.7h0M1344.5 2069.7h0M1384.5 2017.7h0M1303.8 1980.6h0M1333.8 2010.7h0M1389.4 2059.4h0M1302.6 2043.3h0M1295.8 2001.0h0"/><path stroke="#6e50b0" stroke-width="2.5" d="M1388.2 2016.2h0M1396.1 2067.7h0M1285.6 2045.4h0M1332.8 2078.2h0M1377.2 1977.8h0"/><path stroke="#2a0f55" stroke-width="2.5" d="M1347.5 2113.2h0M1328.5 2020.2h0M1352.7 1957.6h0M1387.3 2096.9h0M1289.7 1990.5h0M1403.8 1992.0h0M1381.4 1983.0h0M1353.3 1973.2h0M1408.5 2040.8h0M1418.8 2043.4h0M1292.2 1987.5h0M1364.5 2054.6h0M1422.1 2042.1h0M1331.5 2044.7h0M1334.8 1991.4h0M1269.9 2016.7h0M1278.5 2006.2h0M1364.4 2010.5h0M1293.3 2036.8h0M1403.9 2052.3h0"/></g>
<circle cx="1345.2" cy="2035.5" r="78.5" fill="none" stroke="#2b2b2b" stroke-width="2.3"/>
<circle cx="210.8" cy="2300.8" r="77.8" fill="#fefeff"/>
<g clip-path="url(#cp7)" fill="none" stroke-linecap="round"><path stroke="#b0a4ea" stroke-width="1.4" d="M197.0 2306.9h0M234.3 2255.9h0M264.0 2322.9h0M257.0 2247.7h0M206.0 2360.3h0M228.5 2308.8h0M253.7 2315.5h0M247.1 2349.8h0M158.0 2306.2h0M186.8 2232.6h0M174.0 2296.7h0M160.7 2357.9h0M166.9 2286.9h0M266.7 2307.4h0M185.4 2310.5h0M156.9 2322.0h0M278.8 2288.6h0M213.6 2285.6h0M224.4 2322.7h0M234.9 2350.3h0M182.3 2341.3h0M209.6 2280.1h0M183.9 2334.7h0M210.3 2306.3h0M226.5 2303.0h0M258.5 2255.5h0M247.4 2308.1h0M184.8 2245.0h0M276.9 2290.6h0M265.9 2330.0h0M279.8 2286.8h0M240.8 2278.4h0M206.1 2301.0h0M168.8 2321.2h0M169.3 2247.6h0M263.0 2354.5h0M244.2 2340.9h0M249.0 2325.4h0M161.3 2293.2h0M138.5 2312.1h0M189.4 2227.6h0M185.7 2252.0h0M267.5 2272.0h0M231.8 2351.4h0M271.0 2280.7h0M246.2 2295.0h0M164.9 2344.6h0M242.8 2301.4h0M264.8 2260.8h0M211.4 2266.2h0M283.7 2295.2h0M231.8 2364.3h0M206.6 2315.8h0M186.2 2327.5h0M171.1 2283.2h0M283.1 2299.3h0M163.4 2299.5h0M279.1 2286.4h0M285.5 2289.2h0M202.1 2292.7h0M223.5 2234.0h0M273.4 2271.6h0M215.1 2254.3h0M254.3 2301.3h0M208.4 2303.9h0M225.4 2229.7h0M242.8 2363.2h0M146.8 2320.5h0M283.5 2307.8h0M239.5 2336.3h0M280.7 2275.3h0M171.8 2321.1h0M202.0 2260.4h0M248.1 2287.1h0M172.8 2349.4h0M216.3 2373.8h0M247.0 2246.5h0M234.9 2295.0h0M188.5 2274.5h0M254.3 2317.0h0M239.2 2236.4h0M203.0 2372.1h0M210.8 2363.8h0M217.0 2263.7h0M205.5 2358.5h0M261.8 2320.4h0M245.0 2247.3h0M140.5 2280.2h0M265.4 2341.2h0M140.4 2325.4h0M184.2 2246.3h0M165.3 2272.2h0M161.7 2295.5h0M279.4 2284.8h0M225.5 2332.4h0M246.4 2309.6h0M199.5 2323.4h0M237.2 2347.9h0M249.3 2349.0h0M176.7 2321.9h0M198.7 2353.2h0M173.0 2359.6h0M150.0 2265.9h0M223.4 2376.3h0M226.7 2265.3h0M195.9 2229.8h0M156.1 2300.5h0M174.6 2359.0h0M159.6 2299.3h0M244.7 2346.5h0M175.7 2324.2h0M169.5 2276.1h0M165.1 2284.2h0M253.8 2273.7h0M233.6 2248.9h0M146.4 2335.8h0M155.2 2299.1h0M195.1 2260.7h0M232.0 2243.7h0M176.2 2349.1h0M173.2 2265.4h0M262.9 2283.8h0M225.2 2248.6h0M212.3 2346.9h0M202.4 2271.3h0M218.7 2355.5h0M189.0 2355.2h0M249.6 2317.9h0M205.1 2273.8h0M195.3 2236.0h0M220.8 2330.5h0M190.2 2253.8h0M222.6 2230.7h0M154.7 2255.9h0M242.7 2241.6h0M198.9 2315.6h0M204.4 2326.3h0M233.9 2341.6h0M210.2 2363.6h0M156.1 2301.0h0M261.7 2291.0h0M177.0 2348.4h0M227.7 2280.9h0M263.1 2329.6h0M222.8 2279.0h0M274.9 2325.0h0M202.9 2295.4h0M240.2 2243.7h0M160.7 2340.9h0M268.3 2317.0h0M163.7 2276.0h0M205.5 2297.9h0M263.3 2296.3h0M162.9 2333.0h0M254.9 2297.6h0M214.5 2339.0h0M191.8 2356.3h0M249.9 2306.5h0M223.7 2364.8h0M260.5 2251.5h0"/><path stroke="#6450cc" stroke-width="1.4" d="M173.0 2343.4h0M232.6 2320.7h0M153.2 2329.0h0M213.1 2250.5h0M183.3 2254.8h0M187.2 2258.7h0M234.4 2322.2h0M214.5 2333.2h0M171.6 2329.7h0M208.4 2313.6h0M144.1 2310.1h0M200.4 2338.4h0M212.3 2296.2h0M148.7 2277.8h0M223.2 2244.2h0M212.8 2342.1h0M157.2 2299.9h0M236.2 2239.2h0M281.7 2270.8h0M244.4 2288.9h0M211.2 2341.3h0M160.9 2284.1h0M154.3 2249.7h0M203.8 2344.0h0M210.5 2349.2h0M142.1 2323.6h0M226.5 2312.4h0M263.1 2334.5h0M238.4 2345.8h0M263.3 2267.4h0M260.9 2275.5h0M189.5 2358.6h0M183.3 2258.1h0M252.7 2334.2h0M261.6 2261.6h0M233.5 2331.8h0M242.7 2278.7h0M214.6 2350.2h0M247.2 2309.9h0M194.0 2290.1h0M199.1 2307.9h0M205.7 2301.1h0M145.7 2301.5h0M246.5 2268.9h0M207.6 2237.6h0M150.7 2268.2h0M258.2 2311.1h0M187.5 2283.0h0M151.1 2318.6h0M210.8 2362.5h0M264.6 2292.2h0M258.0 2284.8h0M203.0 2305.2h0M206.4 2346.8h0M136.5 2288.0h0M222.3 2348.1h0M164.3 2248.5h0M246.8 2292.5h0M230.7 2347.5h0M212.1 2342.0h0M247.4 2242.2h0M214.2 2295.5h0M240.0 2266.2h0M218.1 2244.9h0M192.5 2341.6h0M224.0 2240.2h0M173.1 2321.0h0M267.8 2275.6h0M241.0 2303.8h0M236.3 2362.3h0M261.3 2320.7h0M187.9 2254.6h0M241.3 2243.1h0M249.7 2267.9h0M210.5 2304.0h0M200.8 2269.3h0M156.2 2356.1h0M236.9 2294.0h0M266.2 2254.2h0M174.7 2362.3h0M140.8 2289.0h0M235.2 2341.1h0M205.5 2300.1h0M200.2 2258.0h0M232.8 2362.0h0M276.1 2273.8h0M251.2 2243.4h0M280.6 2270.3h0M185.0 2266.4h0M135.0 2294.2h0M176.4 2253.2h0M212.9 2344.1h0M252.2 2297.5h0M196.0 2313.3h0M194.9 2326.9h0M251.2 2244.8h0M199.7 2332.3h0M161.3 2342.0h0M193.6 2318.2h0M270.7 2317.1h0M158.9 2282.8h0M248.5 2359.6h0M216.3 2260.7h0M230.2 2274.4h0M187.0 2291.0h0M206.1 2328.7h0M173.1 2351.7h0M205.0 2283.6h0M233.2 2239.5h0M183.8 2289.5h0M214.6 2243.3h0M207.1 2319.6h0M250.3 2334.7h0M211.0 2223.3h0M139.9 2270.8h0M248.7 2364.3h0M198.7 2281.6h0M210.3 2357.5h0M177.6 2284.5h0M209.9 2268.9h0M236.8 2304.2h0M179.2 2289.6h0M278.7 2316.2h0M201.8 2363.9h0M179.3 2232.3h0M215.4 2296.0h0M228.4 2373.4h0M194.8 2310.4h0"/><path stroke="#3d28a8" stroke-width="1.4" d="M211.2 2328.8h0M194.6 2319.5h0M176.2 2320.1h0M159.6 2289.9h0M282.4 2286.0h0M149.5 2296.1h0M224.7 2283.1h0M146.7 2329.9h0M181.7 2311.1h0M137.4 2278.4h0M194.6 2325.0h0M223.4 2279.4h0M227.6 2327.8h0M270.4 2300.9h0M213.2 2264.3h0M193.8 2303.7h0M197.3 2296.2h0M200.5 2349.5h0M229.9 2364.4h0M232.5 2255.0h0M237.2 2239.7h0M217.0 2314.4h0M150.1 2310.5h0M176.2 2365.1h0M185.1 2275.9h0M240.0 2305.8h0M265.4 2256.3h0M177.4 2301.9h0M189.5 2341.5h0M214.7 2252.2h0M256.5 2241.4h0M226.5 2228.4h0M272.4 2306.6h0M229.9 2229.3h0M207.9 2244.2h0M237.3 2295.1h0M195.2 2241.1h0M205.2 2257.8h0M195.4 2357.3h0M264.2 2255.1h0M266.4 2308.0h0M250.7 2258.6h0M224.1 2294.3h0M148.7 2279.2h0M246.8 2275.7h0M203.4 2373.1h0M140.4 2289.4h0M161.6 2263.5h0M207.5 2332.6h0M256.7 2241.4h0M222.6 2365.7h0M256.1 2320.5h0M260.2 2351.9h0M256.9 2288.5h0M236.5 2356.9h0M217.5 2275.7h0M166.0 2361.3h0M166.0 2285.9h0M191.7 2360.4h0M200.6 2319.6h0M217.9 2254.9h0"/><path stroke="#b0a4ea" stroke-width="2.2" d="M236.6 2336.8h0M269.1 2280.9h0M182.0 2284.6h0M273.3 2298.1h0M169.5 2263.2h0M206.6 2346.1h0M222.1 2297.2h0M257.4 2284.6h0M246.3 2263.8h0M265.3 2280.5h0M204.3 2270.9h0M182.4 2313.8h0M196.4 2332.1h0M253.7 2274.1h0M238.5 2330.0h0M196.1 2341.7h0M268.6 2326.3h0M208.7 2321.9h0M188.3 2364.0h0M210.8 2297.6h0M207.0 2339.5h0M191.0 2360.6h0M255.4 2262.6h0M243.7 2282.7h0M218.8 2348.6h0M171.1 2322.5h0M206.1 2231.5h0M181.8 2371.7h0M241.6 2287.7h0M229.7 2254.7h0M220.9 2231.0h0M182.4 2334.4h0M249.3 2245.6h0M191.4 2369.5h0M233.5 2280.5h0M259.7 2298.5h0M178.9 2277.8h0M206.9 2308.1h0M248.6 2360.5h0M239.0 2260.1h0M181.4 2322.2h0M196.2 2294.8h0M188.8 2309.2h0M263.2 2319.4h0M207.9 2336.2h0M184.9 2295.7h0M235.9 2299.7h0M274.8 2320.8h0M214.8 2328.8h0M178.9 2282.3h0M205.7 2294.2h0M247.4 2247.2h0M273.9 2278.0h0M202.6 2250.0h0M238.9 2245.6h0M230.9 2315.0h0M197.9 2256.8h0M271.6 2339.8h0M192.9 2335.1h0M192.0 2273.3h0M251.5 2341.6h0M177.7 2262.1h0M163.1 2284.0h0M152.6 2341.1h0M269.5 2265.6h0M226.9 2232.1h0M250.8 2330.7h0M238.6 2303.9h0M251.2 2249.0h0M249.0 2292.1h0M205.3 2293.1h0M182.0 2263.8h0M248.4 2233.7h0M258.7 2264.1h0M257.9 2248.9h0M218.8 2279.2h0M249.2 2358.2h0M138.7 2307.0h0M279.1 2329.9h0M270.8 2284.0h0M271.8 2259.1h0M274.6 2305.9h0M225.5 2289.4h0M225.5 2373.6h0M215.0 2268.1h0M155.0 2337.1h0M156.1 2290.2h0M152.3 2292.3h0M184.0 2287.6h0M170.0 2347.4h0M204.6 2362.8h0M261.7 2274.6h0M264.2 2288.1h0M258.8 2251.4h0M160.3 2314.5h0M246.2 2232.5h0M149.6 2264.0h0M267.5 2299.8h0M225.8 2323.4h0M180.6 2362.1h0M254.6 2339.3h0M247.8 2309.0h0M211.9 2348.0h0M211.4 2365.9h0M205.0 2315.1h0M146.3 2270.4h0M268.5 2335.5h0M262.9 2354.7h0M161.1 2242.5h0M229.7 2348.4h0M212.8 2288.0h0M228.6 2341.6h0M262.7 2329.4h0M229.5 2348.9h0M161.5 2291.4h0M140.5 2271.4h0M274.1 2279.4h0M234.1 2289.0h0M144.0 2297.1h0M250.5 2255.3h0M275.7 2285.5h0M158.9 2335.9h0"/><path stroke="#6450cc" stroke-width="2.2" d="M194.7 2350.6h0M203.2 2287.4h0M182.4 2367.8h0M215.2 2269.3h0M235.6 2233.4h0M140.1 2310.0h0M254.7 2275.9h0M204.3 2339.0h0M149.9 2298.7h0M237.1 2286.2h0M232.6 2309.0h0M230.2 2292.9h0M249.6 2304.5h0M233.3 2261.2h0M152.3 2289.9h0M256.4 2363.1h0M257.3 2263.7h0M223.7 2279.2h0M210.0 2231.3h0M189.0 2251.6h0M208.5 2319.8h0M194.6 2362.7h0M273.6 2321.0h0M225.3 2322.0h0M197.5 2226.5h0M210.5 2328.6h0M234.3 2311.9h0M231.0 2259.0h0M241.5 2369.2h0M186.6 2301.0h0M178.2 2319.6h0M270.4 2347.5h0M223.3 2342.4h0M263.4 2348.8h0M264.8 2331.5h0M272.7 2294.6h0M183.8 2279.0h0M224.0 2289.8h0M214.3 2295.7h0M157.5 2323.4h0M167.6 2252.5h0M236.2 2306.4h0M216.0 2279.3h0M212.4 2244.1h0M232.3 2226.7h0M146.0 2300.6h0M143.7 2332.4h0M189.5 2312.6h0M188.7 2289.6h0M175.1 2258.1h0M278.7 2335.6h0M255.2 2295.7h0M282.8 2316.4h0M265.5 2292.1h0M168.1 2257.1h0M225.8 2363.2h0M222.1 2311.3h0M250.2 2324.1h0M211.1 2261.5h0M191.5 2361.8h0M232.6 2290.3h0M182.8 2345.0h0M229.5 2312.2h0M221.9 2340.0h0M188.7 2294.2h0M160.4 2285.1h0M216.0 2372.8h0M246.7 2251.4h0M208.0 2234.0h0M283.4 2302.8h0M267.9 2300.2h0M254.5 2286.0h0M262.9 2351.5h0M243.0 2242.2h0M239.2 2333.6h0M212.8 2338.7h0M217.7 2269.6h0M247.6 2310.6h0M254.6 2244.5h0M189.0 2265.6h0M275.9 2326.6h0M215.7 2312.8h0M244.5 2261.8h0M259.8 2336.2h0M178.5 2312.0h0M286.5 2317.3h0M221.9 2229.0h0M195.5 2340.7h0"/><path stroke="#3d28a8" stroke-width="2.2" d="M176.5 2283.5h0M153.8 2316.9h0M189.8 2307.7h0M244.4 2333.5h0M267.3 2310.5h0M218.3 2344.8h0M220.6 2333.9h0M165.6 2238.9h0M166.1 2312.8h0M200.6 2282.4h0M183.0 2345.2h0M162.1 2298.8h0M238.9 2253.2h0M233.4 2252.2h0M211.3 2328.1h0M254.4 2355.9h0M142.4 2276.1h0M155.2 2326.0h0M189.1 2243.0h0M239.3 2255.7h0M211.6 2303.5h0M217.6 2350.8h0M159.1 2333.9h0M222.7 2241.3h0M156.3 2301.4h0M200.7 2292.4h0M236.0 2233.6h0M193.5 2234.0h0M222.1 2315.3h0M175.1 2361.0h0M204.8 2274.4h0M243.1 2338.4h0M261.8 2294.8h0M183.7 2232.4h0M222.6 2322.4h0M224.9 2289.3h0M187.5 2367.1h0M152.4 2315.3h0M164.9 2242.0h0M189.1 2275.2h0M168.8 2317.8h0M237.3 2337.8h0M174.7 2284.1h0M201.6 2346.7h0M220.3 2320.6h0"/><path stroke="#b0a4ea" stroke-width="3.2" d="M284.4 2323.0h0M195.1 2365.4h0M245.6 2269.8h0M224.9 2258.2h0M257.2 2255.2h0M177.4 2306.1h0M249.9 2336.8h0M181.8 2296.4h0M193.6 2227.9h0M207.9 2258.4h0M207.5 2319.9h0M172.9 2260.7h0M255.0 2239.0h0M254.3 2245.1h0M277.4 2299.8h0M265.0 2354.1h0M188.3 2326.5h0M224.2 2306.4h0M161.2 2245.2h0M170.9 2243.4h0M144.3 2262.5h0M263.4 2286.1h0M247.5 2357.6h0M202.6 2298.1h0M185.6 2269.6h0M273.7 2338.6h0M210.8 2266.0h0M204.8 2324.4h0M192.9 2364.6h0M263.1 2254.3h0M159.5 2323.5h0M193.1 2234.2h0M261.3 2331.9h0M248.4 2240.0h0M174.2 2264.4h0M228.9 2343.7h0M233.9 2240.5h0M190.6 2302.8h0"/><path stroke="#6450cc" stroke-width="3.2" d="M167.6 2281.7h0M224.6 2228.3h0M198.7 2281.6h0M226.9 2323.4h0M224.6 2274.4h0M214.5 2242.6h0M223.1 2281.8h0M219.1 2286.8h0M140.4 2296.9h0M173.7 2330.4h0M256.5 2287.9h0M263.7 2268.8h0M207.3 2287.3h0M169.4 2311.2h0M153.7 2349.3h0M204.4 2370.0h0M152.2 2322.4h0M134.4 2299.0h0M207.9 2336.0h0M227.4 2342.2h0M189.7 2235.7h0M217.0 2270.2h0M213.1 2306.5h0M226.1 2239.6h0M266.1 2278.0h0M221.7 2253.7h0M258.0 2265.1h0M149.4 2331.6h0M265.2 2306.1h0M224.2 2287.0h0M223.5 2225.3h0M239.1 2313.4h0M214.8 2326.2h0M152.3 2301.8h0M253.7 2260.4h0M206.4 2366.0h0M143.6 2335.6h0M282.2 2289.2h0M172.6 2282.5h0M221.9 2324.6h0M261.7 2345.4h0M152.3 2330.1h0M240.4 2338.6h0M154.7 2345.2h0M170.3 2364.3h0M178.0 2293.0h0"/><path stroke="#3d28a8" stroke-width="3.2" d="M138.9 2325.6h0M161.9 2304.7h0M221.1 2354.7h0M195.8 2312.7h0M173.6 2306.6h0M260.5 2358.1h0M238.8 2344.7h0M257.7 2298.2h0M222.4 2227.5h0M191.4 2233.1h0M167.9 2311.7h0M143.8 2272.8h0"/></g>
<circle cx="210.8" cy="2300.8" r="77.8" fill="none" stroke="#2b2b2b" stroke-width="2.3"/>
<circle cx="374.2" cy="2300.8" r="77.8" fill="#fefeff"/>
<g clip-path="url(#cp8)" fill="none" stroke-linecap="round"><path stroke="#aa9ee8" stroke-width="1.5" d="M386.4 2364.8h0M377.8 2266.0h0M396.1 2340.7h0M406.4 2294.6h0M320.1 2310.0h0M332.3 2333.9h0M366.5 2309.6h0M386.9 2277.4h0M429.9 2341.2h0M361.0 2325.9h0M355.8 2261.7h0M329.8 2239.5h0M308.2 2334.4h0M360.7 2264.1h0M355.6 2345.3h0M391.6 2250.2h0M320.2 2247.4h0M331.0 2255.2h0M379.9 2249.6h0M388.1 2280.4h0M350.4 2253.1h0M441.4 2275.0h0M320.3 2330.8h0M390.4 2357.0h0M370.7 2349.4h0M435.4 2262.7h0M335.4 2241.5h0M388.9 2282.3h0M402.8 2257.1h0M384.8 2349.4h0M335.5 2322.7h0M374.2 2247.5h0M426.0 2297.2h0M354.2 2265.9h0M420.7 2283.3h0M429.1 2266.4h0M359.1 2268.1h0M406.8 2244.3h0M379.7 2277.2h0M374.5 2338.5h0M334.6 2360.8h0M405.4 2341.0h0M323.6 2263.8h0M370.9 2277.3h0M336.0 2298.5h0M427.5 2292.2h0M345.6 2295.5h0M321.8 2325.2h0M333.4 2297.4h0M313.9 2320.8h0M340.7 2312.4h0M306.3 2263.2h0M397.5 2268.2h0M420.5 2346.7h0M432.7 2310.3h0M358.2 2249.0h0M352.4 2367.7h0M387.7 2323.4h0M395.9 2352.1h0M397.9 2345.4h0M343.7 2360.8h0M343.4 2253.5h0M385.2 2357.6h0M429.6 2290.6h0M407.1 2367.6h0M365.0 2340.4h0M377.9 2352.7h0M393.3 2316.6h0M308.0 2281.4h0M376.8 2294.6h0M428.6 2295.0h0M445.9 2321.0h0M354.5 2292.5h0M321.4 2275.4h0M431.6 2325.6h0M372.7 2317.3h0M344.0 2287.9h0M357.6 2271.9h0M388.3 2345.1h0M432.6 2273.2h0M364.8 2319.4h0M304.9 2333.9h0M398.5 2366.0h0M372.4 2327.4h0M443.5 2276.1h0M409.5 2247.6h0M409.8 2359.1h0M407.3 2305.2h0M363.4 2258.8h0M308.8 2263.8h0M347.5 2349.3h0M420.1 2261.6h0M450.4 2291.0h0M405.5 2321.0h0M412.6 2246.3h0M409.1 2325.7h0M355.0 2330.1h0M372.8 2328.0h0M357.8 2226.8h0M398.5 2259.1h0M428.2 2292.5h0M443.9 2319.8h0M405.4 2241.2h0M445.6 2275.4h0M361.9 2238.4h0M367.9 2301.7h0M389.5 2295.6h0M397.7 2276.5h0M392.1 2340.8h0M421.5 2298.2h0M403.4 2241.2h0M394.8 2253.7h0M356.3 2297.3h0M362.7 2291.5h0M422.4 2339.9h0M379.6 2257.3h0M354.9 2274.8h0M430.9 2308.3h0M375.5 2316.5h0M366.7 2306.4h0M325.1 2269.8h0M438.8 2259.7h0M419.5 2278.6h0M408.6 2349.2h0M338.3 2269.2h0M343.0 2306.3h0M362.4 2370.2h0M334.6 2364.2h0M426.9 2268.6h0M338.6 2260.3h0M372.0 2282.5h0M391.7 2306.1h0M342.2 2278.9h0M385.6 2292.9h0M420.2 2344.1h0M421.3 2324.3h0M364.3 2236.6h0M309.9 2285.8h0M386.1 2317.5h0M434.8 2291.0h0M350.0 2270.1h0M398.6 2328.5h0M388.8 2345.0h0M389.6 2307.2h0M387.4 2331.5h0M352.5 2354.7h0M387.1 2310.7h0M392.6 2271.4h0M353.1 2249.7h0M331.7 2280.0h0M423.6 2359.9h0M341.2 2241.2h0M345.2 2236.9h0M423.0 2302.4h0M422.5 2279.9h0M401.4 2303.4h0M358.7 2257.1h0M369.4 2234.9h0M373.8 2378.3h0M352.5 2246.5h0M362.0 2318.2h0M447.3 2306.1h0M339.6 2338.4h0M326.5 2354.6h0M353.4 2274.7h0M409.6 2320.8h0"/><path stroke="#5e4ccc" stroke-width="1.5" d="M348.8 2260.3h0M422.9 2255.6h0M376.8 2272.3h0M348.3 2320.6h0M410.9 2338.1h0M398.1 2265.9h0M347.0 2367.0h0M332.2 2321.4h0M398.9 2339.5h0M426.4 2343.4h0M352.6 2317.7h0M434.1 2315.6h0M416.8 2309.6h0M322.6 2310.6h0M400.0 2323.8h0M335.6 2235.5h0M365.2 2275.2h0M387.9 2229.7h0M428.9 2331.9h0M376.2 2332.0h0M423.2 2360.8h0M337.5 2238.8h0M429.3 2258.9h0M385.2 2325.9h0M409.2 2328.4h0M358.6 2306.5h0M411.5 2319.7h0M378.7 2245.3h0M428.4 2349.9h0M348.7 2233.8h0M399.0 2363.7h0M326.1 2246.1h0M399.9 2299.1h0M419.6 2324.0h0M393.3 2284.3h0M320.1 2306.0h0M362.6 2349.9h0M371.2 2298.4h0M352.9 2292.2h0M368.1 2258.8h0M349.7 2246.6h0M330.4 2357.0h0M326.1 2245.6h0M416.1 2311.9h0M423.1 2309.1h0M386.1 2328.7h0M334.7 2353.4h0M358.3 2301.4h0M337.8 2311.5h0M428.8 2289.8h0M366.5 2224.9h0M372.3 2305.7h0M391.2 2281.5h0M431.7 2309.9h0M328.3 2315.1h0M369.7 2374.0h0M350.3 2242.7h0M357.1 2312.3h0M376.3 2276.1h0M385.1 2245.2h0M390.7 2307.9h0M420.4 2335.8h0M438.2 2340.7h0M380.3 2246.0h0M400.4 2334.4h0M353.2 2232.6h0M428.6 2355.2h0M400.9 2241.7h0M351.0 2313.5h0M447.9 2283.2h0M373.2 2274.7h0M358.1 2370.1h0M415.8 2259.7h0M317.6 2326.6h0M369.7 2254.2h0M422.1 2302.6h0M378.5 2348.8h0M331.5 2358.9h0M424.7 2352.7h0M335.4 2265.4h0M424.4 2330.0h0M346.3 2335.2h0M337.5 2324.2h0M329.6 2341.6h0M411.8 2366.9h0M394.8 2322.4h0M384.1 2359.7h0M364.5 2334.4h0M346.6 2320.5h0M358.5 2249.5h0M418.4 2319.6h0M361.2 2309.5h0M355.6 2372.8h0M320.7 2276.0h0M319.6 2273.1h0M365.9 2263.9h0M422.6 2274.1h0M362.3 2283.1h0M322.5 2282.7h0M357.5 2281.7h0M407.8 2265.6h0M393.0 2329.8h0M344.5 2314.9h0M390.6 2271.0h0M420.5 2301.5h0M372.4 2375.8h0M375.6 2238.2h0M349.8 2243.9h0M343.2 2294.5h0M341.4 2367.6h0M394.6 2325.4h0M392.9 2276.4h0M424.5 2320.9h0M403.3 2312.0h0M390.7 2295.1h0M401.8 2312.4h0M349.4 2355.9h0M405.6 2266.5h0M411.7 2321.0h0M355.4 2231.5h0M367.1 2317.2h0M394.1 2283.4h0M312.0 2336.4h0M425.6 2254.6h0M393.7 2236.3h0M416.0 2357.8h0M430.0 2270.9h0M382.9 2294.7h0M302.5 2311.8h0M411.9 2256.1h0M404.4 2268.4h0M399.0 2248.6h0M361.5 2250.1h0M366.2 2275.1h0M337.8 2327.6h0M391.2 2302.9h0M427.5 2312.0h0M350.6 2366.0h0M419.4 2275.6h0M367.7 2310.0h0M401.4 2265.6h0M393.8 2275.3h0M400.7 2315.2h0M409.2 2369.5h0M398.0 2289.1h0M396.8 2267.7h0M420.2 2360.3h0M310.0 2332.5h0M376.7 2280.1h0M373.0 2279.2h0M404.7 2325.5h0M420.4 2318.4h0M303.9 2281.6h0M310.7 2259.4h0M307.7 2288.7h0M425.4 2259.1h0M367.9 2259.1h0M299.1 2311.9h0M345.3 2290.7h0M367.2 2363.0h0M397.9 2305.6h0M313.1 2268.9h0M299.8 2313.0h0M349.9 2293.9h0M350.6 2333.6h0M357.0 2348.9h0M388.1 2341.6h0M389.4 2248.5h0M369.3 2269.2h0M373.4 2363.5h0M322.8 2270.5h0M307.7 2340.8h0M445.3 2298.2h0M423.8 2264.6h0M406.2 2290.1h0M372.9 2271.6h0M377.2 2226.5h0M336.2 2323.5h0M349.5 2291.5h0M344.7 2311.0h0M406.9 2368.4h0M315.3 2322.4h0M353.2 2291.8h0M361.0 2297.8h0M349.3 2277.1h0M318.1 2339.0h0M345.9 2328.0h0M413.5 2305.5h0M371.1 2226.1h0"/><path stroke="#3a26a0" stroke-width="1.5" d="M373.0 2311.7h0M336.5 2303.5h0M317.7 2297.3h0M338.6 2319.4h0M403.1 2248.1h0M308.4 2275.0h0M297.2 2305.8h0M347.5 2339.5h0M316.3 2267.0h0M416.7 2274.3h0M354.6 2239.1h0M314.3 2312.7h0M328.9 2262.6h0M423.0 2266.2h0M400.9 2320.3h0M342.0 2243.0h0M422.6 2356.1h0M356.0 2316.4h0M368.8 2287.4h0M373.8 2307.6h0M396.0 2289.6h0M446.8 2320.4h0M345.6 2305.1h0M382.7 2273.7h0M358.7 2310.2h0M369.1 2334.4h0M374.5 2326.4h0M426.8 2279.9h0M342.6 2340.5h0M373.3 2293.5h0M408.8 2306.1h0M388.3 2227.6h0M399.4 2292.0h0M356.0 2278.0h0M367.1 2297.0h0M318.1 2295.2h0M373.9 2329.3h0M443.9 2278.6h0M325.2 2260.6h0M307.6 2281.6h0M360.6 2339.8h0M390.1 2350.7h0M342.8 2359.0h0M404.8 2310.8h0M420.6 2316.5h0M418.2 2298.4h0M299.7 2319.5h0M313.1 2344.7h0M377.1 2338.0h0M424.8 2285.6h0M438.7 2342.6h0M363.7 2330.0h0M391.8 2285.0h0M427.3 2356.1h0M426.1 2270.3h0M324.8 2308.8h0M402.9 2363.3h0M389.6 2329.1h0M382.7 2224.8h0M355.6 2325.2h0M430.8 2266.2h0M337.2 2279.6h0M343.0 2286.9h0M308.1 2319.3h0M417.7 2295.8h0M408.7 2361.7h0M311.0 2310.4h0M382.9 2312.2h0M381.6 2257.1h0M379.7 2272.1h0M409.6 2293.1h0M372.1 2308.8h0M417.6 2357.3h0M429.7 2290.6h0M339.8 2347.4h0M371.6 2303.8h0M340.8 2238.8h0M397.7 2283.2h0M443.8 2295.6h0M395.3 2239.4h0M341.9 2258.4h0M358.4 2227.3h0M404.6 2354.9h0M330.7 2339.9h0M348.2 2310.9h0M312.0 2280.4h0M441.9 2276.1h0M381.1 2235.4h0M373.1 2262.3h0M416.2 2292.6h0M423.9 2308.7h0M444.9 2288.6h0M402.3 2252.0h0M421.8 2341.9h0M315.2 2262.3h0M449.5 2283.1h0M376.9 2262.7h0M396.1 2354.8h0M425.7 2280.9h0M331.7 2364.8h0M382.6 2248.1h0M315.0 2267.3h0M352.4 2303.1h0M326.9 2273.7h0M373.3 2308.6h0M330.5 2248.6h0M372.1 2238.7h0M332.7 2280.0h0"/><path stroke="#aa9ee8" stroke-width="2.4" d="M427.7 2355.2h0M393.6 2352.0h0M425.3 2264.4h0M416.2 2237.7h0M329.0 2326.4h0M450.6 2302.2h0M306.6 2299.7h0M372.1 2244.4h0M410.8 2317.7h0M393.3 2226.8h0M394.2 2278.1h0M363.1 2231.5h0M352.6 2342.0h0M359.7 2257.3h0M383.0 2320.9h0M393.9 2326.6h0M387.9 2367.2h0M436.3 2305.1h0M360.9 2268.6h0M314.0 2345.0h0M392.6 2355.4h0M314.4 2325.2h0M440.4 2299.4h0M443.1 2294.9h0M368.4 2268.9h0M429.0 2286.0h0M336.3 2322.3h0M333.9 2266.3h0M352.5 2338.9h0M321.8 2291.4h0M402.6 2294.4h0M383.7 2283.1h0M323.4 2276.5h0M370.2 2313.6h0M408.5 2274.2h0M419.5 2347.1h0M367.0 2259.1h0M395.0 2345.1h0M351.3 2339.0h0M363.0 2317.3h0M371.7 2299.8h0M376.4 2324.9h0M367.8 2288.2h0M411.4 2320.6h0M450.0 2291.5h0M305.1 2272.0h0M358.1 2310.9h0M388.5 2264.2h0M400.7 2285.1h0M347.0 2287.3h0M373.3 2331.4h0M368.1 2333.6h0M365.3 2247.2h0M325.7 2327.9h0M366.3 2333.9h0M414.2 2264.8h0M321.3 2270.5h0M423.5 2253.4h0M342.1 2326.6h0M384.2 2297.2h0M359.5 2255.4h0M348.5 2228.2h0M309.2 2259.0h0M412.7 2339.6h0M386.1 2228.9h0M367.1 2324.4h0M336.2 2305.6h0M345.7 2255.9h0M418.6 2262.1h0M358.9 2317.1h0M381.7 2313.5h0M385.4 2334.0h0M434.7 2297.7h0M331.5 2280.4h0M324.4 2293.6h0M305.8 2271.5h0M365.0 2227.2h0M406.6 2297.9h0M395.2 2272.7h0M347.6 2307.5h0M375.0 2295.3h0M366.0 2325.5h0M364.9 2296.0h0M340.7 2286.9h0M419.9 2299.1h0M389.4 2274.6h0M387.4 2373.9h0M322.4 2277.9h0M339.9 2345.1h0M411.4 2266.5h0M415.8 2309.7h0M342.1 2357.7h0M329.3 2351.8h0M355.1 2295.6h0M333.2 2287.8h0M375.9 2338.2h0M356.2 2337.4h0M358.6 2328.8h0M365.6 2323.3h0M387.9 2347.9h0M354.9 2261.5h0M349.6 2350.9h0M413.7 2335.9h0M348.0 2290.9h0M409.0 2288.6h0M329.3 2348.5h0M405.5 2359.6h0M322.8 2334.1h0M330.6 2359.4h0M412.6 2357.1h0M393.7 2228.8h0M379.3 2345.1h0M423.3 2321.1h0M309.4 2317.5h0M343.6 2256.7h0M362.5 2334.8h0M371.7 2326.0h0M340.5 2352.1h0M355.5 2267.5h0M366.3 2333.3h0M408.1 2233.9h0"/><path stroke="#5e4ccc" stroke-width="2.4" d="M393.8 2376.0h0M383.1 2307.8h0M363.2 2310.3h0M414.6 2333.5h0M419.2 2353.1h0M397.8 2271.9h0M388.8 2288.3h0M306.0 2324.3h0M334.2 2279.3h0M417.4 2294.5h0M334.7 2295.2h0M315.1 2253.6h0M309.8 2295.1h0M324.0 2276.2h0M329.7 2295.1h0M323.1 2358.7h0M351.1 2291.7h0M397.2 2231.4h0M383.8 2283.0h0M424.6 2255.6h0M449.1 2282.9h0M395.2 2240.9h0M367.4 2318.0h0M415.9 2304.9h0M357.8 2348.0h0M426.6 2324.7h0M307.5 2273.8h0M379.1 2349.8h0M415.8 2278.9h0M370.5 2367.7h0M361.5 2259.3h0M364.9 2292.8h0M351.4 2268.7h0M357.3 2343.5h0M389.3 2284.7h0M428.5 2282.8h0M352.1 2277.3h0M358.1 2316.2h0M430.9 2301.5h0M327.1 2251.1h0M353.7 2318.3h0M359.7 2373.1h0M313.8 2328.7h0M404.3 2314.2h0M341.5 2306.6h0M417.2 2297.6h0M417.6 2250.0h0M329.0 2291.6h0M376.2 2278.0h0M375.6 2364.1h0M350.7 2249.0h0M427.9 2248.2h0M324.3 2302.4h0M366.7 2239.1h0M396.4 2368.6h0M324.2 2347.5h0M370.8 2374.9h0M391.6 2255.7h0M420.5 2286.0h0M434.3 2260.3h0M325.4 2358.4h0M310.6 2269.4h0M299.1 2302.9h0M328.6 2288.4h0M308.3 2329.6h0M338.4 2328.5h0M375.6 2246.8h0M326.9 2264.4h0M321.0 2306.6h0M329.2 2359.3h0M417.0 2299.4h0M318.1 2307.8h0M448.2 2310.7h0M332.2 2350.6h0M322.7 2308.5h0M410.5 2237.2h0M299.5 2314.3h0M367.0 2326.9h0M431.2 2345.3h0M416.4 2359.3h0M313.7 2263.3h0M390.2 2332.6h0M323.3 2264.7h0M394.8 2271.0h0M413.9 2316.2h0M430.3 2330.2h0M354.6 2280.8h0M339.8 2287.2h0M301.8 2315.2h0M396.7 2292.0h0M357.5 2265.7h0M367.1 2352.5h0M353.6 2292.4h0M397.9 2316.7h0M384.2 2277.7h0M402.3 2335.5h0M347.2 2283.1h0M358.9 2285.9h0M405.6 2351.4h0M381.2 2279.6h0M393.9 2315.6h0M353.2 2275.2h0M346.7 2304.3h0M401.3 2308.3h0M351.7 2355.2h0M378.9 2277.5h0M325.6 2282.5h0M336.0 2310.0h0M357.0 2283.3h0M411.8 2356.2h0M344.6 2249.6h0M398.2 2301.4h0M321.5 2291.2h0M403.4 2358.0h0"/><path stroke="#3a26a0" stroke-width="2.4" d="M388.0 2297.7h0M302.8 2293.5h0M433.4 2275.6h0M346.9 2260.8h0M428.3 2291.0h0M338.4 2294.8h0M361.7 2291.6h0M355.6 2356.0h0M353.5 2334.9h0M379.2 2352.6h0M363.8 2298.5h0M423.6 2309.9h0M317.2 2331.5h0M415.7 2353.8h0M382.4 2348.4h0M418.4 2302.5h0M409.9 2350.9h0M363.7 2329.1h0M367.9 2333.6h0M415.4 2266.2h0M367.5 2345.9h0M325.5 2296.1h0M367.0 2318.5h0M378.6 2248.3h0M370.9 2247.8h0M442.3 2281.2h0M313.5 2333.9h0M369.8 2296.2h0M361.7 2241.9h0M356.6 2285.6h0M412.3 2343.5h0M370.8 2330.5h0M372.4 2327.2h0M397.8 2298.4h0M347.6 2311.9h0M358.5 2318.5h0M333.4 2318.3h0M328.1 2240.3h0M423.1 2284.0h0M405.8 2350.4h0M407.3 2354.5h0M342.6 2304.4h0M380.1 2247.7h0M397.2 2326.8h0M390.2 2301.5h0M367.2 2232.0h0M313.9 2288.7h0M363.6 2322.3h0M442.3 2311.8h0M445.2 2304.6h0M416.1 2339.0h0M357.7 2335.3h0M348.6 2296.3h0M421.4 2267.3h0M306.4 2327.4h0M399.4 2264.3h0M343.2 2342.9h0M388.4 2343.9h0M382.6 2271.3h0M413.4 2334.5h0M360.9 2249.1h0M347.8 2323.7h0M380.5 2245.8h0M369.1 2268.4h0M370.4 2324.8h0M434.2 2258.4h0M341.6 2311.3h0M348.6 2338.6h0M386.4 2268.0h0M360.7 2354.1h0M325.8 2285.0h0M329.9 2281.1h0"/><path stroke="#aa9ee8" stroke-width="3.6" d="M372.8 2327.0h0M359.8 2247.4h0M339.5 2263.7h0M417.2 2262.5h0M418.2 2361.1h0M315.3 2283.5h0M362.9 2320.3h0M322.5 2278.6h0M368.1 2356.1h0M340.8 2322.6h0M367.5 2292.9h0M348.4 2355.0h0M328.0 2329.1h0M328.8 2293.3h0M396.6 2344.8h0M424.4 2242.3h0M409.1 2343.7h0M349.6 2362.7h0M322.7 2332.4h0M335.7 2270.6h0M358.5 2321.5h0M364.9 2312.2h0M376.2 2331.5h0M437.0 2308.4h0M374.3 2267.7h0M404.1 2250.7h0M382.8 2265.3h0M370.8 2270.7h0M322.4 2243.5h0M403.0 2300.4h0M447.8 2305.9h0M361.9 2343.3h0M380.7 2285.2h0M361.8 2252.2h0M353.6 2311.8h0M434.9 2255.9h0M424.9 2326.3h0M385.7 2337.6h0M351.1 2273.8h0M357.9 2293.6h0M421.6 2283.3h0M374.1 2224.5h0M327.2 2324.2h0M334.8 2284.4h0M398.3 2285.3h0M387.7 2278.0h0M399.5 2318.3h0M334.5 2267.2h0M396.3 2335.7h0"/><path stroke="#5e4ccc" stroke-width="3.6" d="M333.7 2288.4h0M364.8 2355.2h0M346.6 2304.0h0M378.4 2247.7h0M356.0 2248.3h0M364.6 2360.6h0M367.1 2329.7h0M400.6 2272.9h0M401.0 2333.5h0M314.0 2266.5h0M341.7 2355.8h0M371.2 2302.3h0M414.6 2332.4h0M330.0 2336.9h0M328.7 2333.7h0M338.8 2302.6h0M415.5 2361.6h0M408.6 2287.0h0M386.6 2243.3h0M377.9 2326.0h0M446.3 2276.6h0M401.5 2366.4h0M361.0 2225.6h0M351.9 2253.4h0M301.6 2322.8h0M393.7 2263.9h0M365.5 2285.1h0M445.1 2320.5h0M382.2 2367.6h0M356.0 2338.5h0M331.6 2285.9h0M329.4 2246.8h0M427.3 2251.2h0M334.4 2264.5h0M441.5 2271.5h0M317.1 2265.0h0M300.9 2309.7h0M400.6 2355.1h0M411.9 2238.6h0M333.1 2245.4h0M334.4 2242.7h0"/><path stroke="#3a26a0" stroke-width="3.6" d="M371.1 2226.7h0M392.2 2281.4h0M324.5 2280.1h0M307.8 2265.2h0M428.3 2266.0h0M326.3 2250.6h0M349.8 2362.7h0M370.8 2330.6h0M350.4 2259.4h0M417.5 2351.2h0M343.2 2312.7h0M362.5 2272.6h0M406.3 2338.8h0M387.8 2298.3h0M301.5 2291.3h0M411.2 2298.3h0M327.8 2302.0h0M401.8 2362.7h0M422.6 2331.7h0M326.6 2269.8h0M367.3 2377.3h0M403.1 2308.5h0M416.2 2270.2h0M425.5 2243.7h0M338.3 2235.1h0M371.3 2316.4h0M326.1 2268.3h0M364.0 2319.8h0M344.6 2270.3h0M345.8 2297.8h0M412.1 2326.1h0M434.0 2273.8h0M374.0 2367.2h0M393.0 2371.5h0M366.3 2284.4h0M345.6 2263.5h0M366.6 2228.0h0M381.5 2287.3h0M320.8 2299.5h0M429.3 2337.7h0"/></g>
<circle cx="374.2" cy="2300.8" r="77.8" fill="none" stroke="#2b2b2b" stroke-width="2.3"/>
<circle cx="538.1" cy="2300.5" r="77.8" fill="#fefeff"/>
<g clip-path="url(#cp9)" fill="none" stroke-linecap="round"><path stroke="#b8aeee" stroke-width="1.5" d="M495.1 2261.7h0M581.1 2327.0h0M606.8 2325.1h0M573.1 2302.3h0M549.8 2350.4h0M574.5 2292.1h0M546.0 2303.7h0M597.6 2287.8h0M576.0 2344.8h0M542.1 2308.4h0M484.7 2335.9h0M563.5 2355.6h0M544.2 2334.0h0M586.5 2282.7h0M549.2 2360.0h0M601.6 2343.3h0M550.6 2348.0h0M482.8 2275.2h0M515.7 2344.5h0"/><path stroke="#6a58d0" stroke-width="1.5" d="M501.1 2338.3h0M547.2 2241.4h0M553.2 2262.1h0M547.0 2305.7h0M600.4 2280.7h0M596.7 2336.0h0M522.2 2283.6h0M597.6 2326.5h0M560.6 2343.4h0M475.8 2319.2h0M523.8 2289.7h0M486.1 2288.7h0M523.4 2321.1h0M612.6 2289.3h0M485.4 2293.2h0M603.1 2325.2h0M477.7 2303.7h0"/><path stroke="#3a26a0" stroke-width="1.5" d="M481.4 2318.4h0M534.1 2371.8h0M591.2 2280.0h0M547.3 2256.5h0"/><path stroke="#b8aeee" stroke-width="2.2" d="M475.8 2319.9h0M497.7 2330.6h0M521.1 2294.4h0M527.4 2312.5h0M596.7 2307.3h0M540.5 2288.3h0M538.8 2366.0h0M488.9 2353.3h0M561.5 2307.8h0M591.4 2331.7h0M467.6 2280.3h0M606.1 2330.2h0M531.4 2258.4h0M536.6 2338.3h0M530.0 2267.7h0"/><path stroke="#6a58d0" stroke-width="2.2" d="M567.2 2324.9h0M531.8 2324.5h0M581.6 2342.0h0M554.7 2267.0h0M609.1 2316.8h0"/><path stroke="#3a26a0" stroke-width="2.2" d="M565.8 2352.9h0"/><path stroke="#b8aeee" stroke-width="3.0" d="M531.9 2300.4h0M527.5 2305.9h0M578.4 2299.2h0M487.7 2346.1h0M547.0 2235.3h0"/><path stroke="#6a58d0" stroke-width="3.0" d="M568.6 2289.8h0M597.2 2291.7h0M551.3 2260.0h0M605.1 2269.3h0"/></g>
<circle cx="538.1" cy="2300.5" r="77.8" fill="none" stroke="#2b2b2b" stroke-width="2.3"/>
<circle cx="1016.2" cy="2301.2" r="77.8" fill="#fefeff"/>
<g clip-path="url(#cp10)" fill="none" stroke-linecap="round"><path stroke="#b0a4ea" stroke-width="1.4" d="M1021.1 2331.6h0M1040.2 2323.6h0M997.3 2341.8h0M1071.9 2324.4h0M1030.8 2310.8h0M939.0 2308.5h0M996.2 2328.8h0M997.9 2310.7h0M965.1 2318.9h0M1032.3 2339.3h0M1068.6 2245.1h0M1081.5 2282.1h0M976.8 2272.1h0M941.7 2296.0h0M960.0 2316.2h0M1061.6 2315.9h0M962.0 2327.2h0M1011.7 2276.2h0M968.4 2285.3h0M995.6 2319.3h0M1003.5 2313.7h0M1058.6 2321.3h0M985.7 2303.2h0M1071.9 2336.9h0M1048.2 2259.5h0M1031.9 2330.1h0M978.1 2277.3h0M1000.9 2315.8h0M956.1 2320.4h0M993.1 2367.5h0M1021.0 2258.3h0M985.1 2304.5h0M1022.7 2351.4h0M966.0 2295.9h0M965.9 2334.0h0M1003.2 2283.7h0M976.4 2239.2h0M988.3 2328.6h0M962.1 2283.5h0M1072.8 2321.9h0M952.2 2265.0h0M1036.0 2233.3h0M1006.0 2271.3h0M1002.8 2247.2h0M1087.2 2304.8h0M967.5 2353.3h0M1047.7 2273.3h0M1004.1 2317.3h0M1049.5 2362.2h0M981.9 2239.1h0M944.7 2316.4h0M1078.0 2342.5h0M1058.5 2260.1h0M961.2 2324.2h0M1004.2 2343.8h0M1071.4 2341.0h0M1072.8 2257.6h0M1073.0 2279.1h0M981.6 2319.2h0M978.4 2307.0h0M975.1 2246.7h0M987.8 2245.3h0M1061.5 2254.4h0M1061.4 2251.3h0M1039.6 2373.6h0M998.5 2355.9h0M1048.7 2302.9h0M989.8 2237.4h0M964.7 2301.2h0M1047.9 2322.8h0M1006.2 2299.2h0M1012.8 2352.5h0M1025.4 2327.9h0M1080.8 2329.6h0M1087.5 2307.0h0M1034.5 2312.5h0M1060.0 2298.9h0M1022.0 2362.0h0M1088.6 2282.1h0M957.0 2256.9h0M1079.2 2334.6h0M996.7 2302.6h0M1049.4 2305.4h0M1039.9 2301.9h0M1082.5 2339.8h0M1039.5 2249.3h0M1077.6 2254.3h0M1023.4 2296.4h0M961.7 2327.6h0M1005.6 2376.6h0M1027.2 2337.1h0M1008.8 2345.3h0M1067.6 2288.2h0M970.3 2315.7h0M1002.9 2283.7h0M989.3 2319.3h0M1087.5 2283.1h0M984.7 2360.2h0M1021.2 2291.5h0M1027.3 2278.5h0M1022.5 2249.5h0M1017.9 2302.0h0M1084.0 2309.3h0M1073.4 2338.4h0M974.7 2266.2h0M1084.6 2276.3h0M1067.2 2275.8h0M1060.4 2348.3h0M1029.2 2267.5h0M974.3 2263.6h0M945.2 2297.2h0M1028.1 2376.9h0M1053.4 2335.4h0M1010.1 2266.8h0M1063.6 2301.3h0M1086.5 2281.8h0M957.9 2349.9h0M1022.4 2371.3h0M1077.5 2316.6h0M1036.3 2342.0h0M1087.3 2271.2h0M952.7 2286.7h0M971.9 2343.4h0M1066.7 2304.9h0M1022.9 2251.7h0M1066.1 2321.4h0M1034.6 2352.2h0M942.7 2297.5h0M1029.0 2373.8h0M951.7 2271.2h0M950.0 2267.4h0M1017.4 2329.8h0M1033.1 2314.9h0M1088.6 2321.9h0M1071.1 2308.9h0"/><path stroke="#6450cc" stroke-width="1.4" d="M982.3 2246.4h0M1054.0 2273.1h0M1017.6 2351.2h0M974.1 2319.5h0M1065.1 2312.2h0M1084.2 2284.8h0M978.9 2315.5h0M1079.8 2274.0h0M982.1 2349.5h0M1043.9 2288.6h0M1088.4 2324.4h0M945.3 2287.1h0M1025.1 2332.1h0M1006.1 2290.8h0M1046.3 2344.6h0M1039.3 2319.0h0M1041.5 2266.9h0M1026.5 2231.3h0M1037.4 2333.0h0M955.9 2262.1h0M1065.2 2253.3h0M1053.3 2263.7h0M1021.9 2270.5h0M1016.7 2317.3h0M984.9 2343.2h0M1038.5 2333.9h0M1021.6 2247.9h0M951.0 2313.2h0M1006.7 2242.4h0M990.2 2228.1h0M1049.3 2245.0h0M1067.2 2247.8h0M1019.4 2370.8h0M1007.8 2366.9h0M1012.0 2238.8h0M958.8 2272.4h0M994.3 2335.6h0M1069.6 2293.7h0M1014.2 2260.7h0M961.4 2274.1h0M1057.1 2288.7h0M978.7 2240.3h0M1017.3 2312.9h0M980.5 2313.1h0M1006.3 2366.7h0M961.1 2327.3h0M984.4 2278.7h0M981.9 2328.5h0M981.4 2249.2h0M1011.3 2332.4h0M1012.1 2300.5h0M970.9 2322.1h0M1046.3 2266.9h0M1046.0 2286.0h0M961.5 2341.8h0M1004.0 2336.2h0M1006.5 2233.5h0M1037.3 2296.9h0M984.9 2275.9h0M1011.9 2367.5h0M998.6 2361.2h0M947.9 2264.4h0M1053.0 2345.9h0M1054.5 2304.4h0M1068.9 2245.9h0M945.9 2322.2h0M1030.8 2289.6h0M1062.9 2314.8h0M969.7 2293.1h0M1038.7 2267.5h0M1008.2 2317.7h0M1031.6 2355.1h0M1047.3 2358.1h0M1016.1 2360.6h0M997.7 2370.6h0M1049.9 2293.1h0M1011.6 2350.8h0M964.3 2326.9h0M1011.1 2374.2h0M980.5 2290.1h0M981.1 2248.3h0M1030.1 2365.4h0M1021.2 2329.9h0M984.3 2232.0h0M954.7 2314.5h0M1040.3 2348.2h0M1012.6 2298.4h0M1036.5 2309.4h0M1020.0 2294.6h0M1035.0 2308.3h0M1021.4 2320.6h0M968.4 2344.7h0M959.8 2256.9h0M1040.7 2236.1h0M1004.5 2263.6h0M1076.7 2348.2h0M979.0 2325.6h0M1049.6 2341.3h0M1015.9 2225.3h0M1024.7 2323.7h0M970.9 2299.8h0M975.5 2288.6h0M989.3 2319.5h0M1042.1 2363.1h0M994.1 2251.8h0M1030.1 2258.5h0"/><path stroke="#3d28a8" stroke-width="1.4" d="M989.8 2350.8h0M1043.7 2348.2h0M1066.7 2258.8h0M1065.8 2253.8h0M1064.9 2261.7h0M1021.5 2292.5h0M1006.2 2293.0h0M1000.4 2254.6h0M1058.8 2329.2h0M961.0 2344.7h0M1085.8 2315.6h0M991.1 2353.1h0M1056.8 2320.3h0M1020.4 2226.7h0M1048.8 2357.3h0M977.5 2237.6h0M1001.6 2255.5h0M1052.7 2330.6h0M1054.7 2354.9h0M1052.7 2264.8h0M1026.6 2255.8h0M1050.9 2269.5h0M1044.0 2354.1h0M1029.6 2237.4h0M1019.2 2251.6h0M976.3 2339.0h0M999.0 2298.0h0M972.1 2312.5h0M1020.8 2294.3h0M952.1 2323.5h0M1010.5 2370.9h0"/><path stroke="#b0a4ea" stroke-width="2.2" d="M963.2 2326.6h0M1047.5 2238.4h0M1006.1 2348.2h0M1091.9 2286.5h0M1058.6 2359.3h0M1062.0 2340.5h0M1043.3 2244.7h0M963.2 2268.3h0M990.2 2257.8h0M983.5 2267.5h0M1004.0 2237.7h0M1027.6 2284.9h0M1043.4 2372.0h0M1030.8 2272.1h0M1074.2 2291.9h0M990.2 2318.7h0M968.5 2262.8h0M1002.5 2273.5h0M954.9 2311.2h0M1003.8 2335.0h0M965.5 2352.5h0M1072.0 2284.2h0M992.7 2245.8h0M1001.4 2241.1h0M994.1 2236.2h0M997.8 2303.3h0M989.7 2319.3h0M950.2 2286.4h0M1074.1 2271.3h0M994.2 2316.5h0M978.4 2346.6h0M1040.1 2334.2h0M1016.5 2296.5h0M1076.8 2320.9h0M998.9 2301.0h0M1038.8 2347.4h0M987.5 2372.1h0M960.6 2350.8h0M1082.6 2320.9h0M973.1 2265.8h0M986.3 2326.5h0M1015.2 2259.7h0M980.2 2293.0h0M1018.1 2279.5h0M1051.9 2319.4h0M1005.8 2243.6h0M943.1 2304.9h0M986.0 2293.6h0M978.5 2236.4h0M954.8 2283.3h0M950.8 2329.4h0M1048.3 2285.0h0M946.0 2318.8h0M1053.3 2337.0h0M987.3 2333.2h0M973.3 2330.0h0M1020.9 2317.9h0M976.6 2248.1h0M1000.7 2310.8h0M993.2 2294.5h0M1042.2 2264.5h0M1059.9 2286.6h0M977.1 2331.0h0M1061.8 2360.1h0M971.8 2290.3h0M1005.4 2324.5h0M1005.3 2358.5h0M1091.3 2306.0h0M994.6 2284.5h0M994.3 2283.4h0M990.3 2368.8h0M1042.3 2372.5h0M1039.4 2254.8h0M980.9 2326.2h0M1056.2 2305.1h0M976.4 2340.9h0M1007.4 2256.4h0M1046.5 2311.3h0M985.2 2319.3h0M1070.4 2279.8h0M957.2 2314.8h0M975.1 2330.4h0M1045.6 2311.0h0M978.3 2268.3h0M941.1 2298.7h0M1080.8 2289.6h0M977.3 2272.1h0M1041.8 2320.6h0M1010.5 2333.5h0M992.8 2238.4h0M1004.7 2377.9h0M1061.6 2267.3h0M1041.3 2264.6h0M1065.1 2307.6h0M1006.8 2282.1h0M1062.3 2320.4h0M1008.5 2305.4h0M1026.2 2246.4h0"/><path stroke="#6450cc" stroke-width="2.2" d="M1063.3 2321.6h0M1038.9 2251.3h0M973.0 2324.8h0M1018.6 2331.6h0M1014.1 2248.3h0M978.4 2311.7h0M1002.2 2262.3h0M996.7 2341.2h0M952.2 2269.0h0M1077.7 2321.3h0M1017.1 2339.9h0M1041.8 2236.2h0M955.5 2330.9h0M968.2 2262.1h0M1025.9 2340.8h0M996.5 2349.9h0M1092.2 2295.1h0M1062.6 2302.6h0M1037.5 2293.4h0M1075.7 2309.9h0M1070.0 2293.6h0M1040.2 2238.0h0M1007.6 2234.9h0M1009.8 2268.0h0M1068.9 2271.5h0M968.8 2245.2h0M1084.0 2326.7h0M954.6 2340.0h0M1004.2 2284.1h0M1089.1 2303.2h0M1048.0 2312.6h0M1051.1 2349.7h0M1063.6 2360.6h0M983.3 2284.6h0M1023.7 2312.1h0M1049.8 2317.0h0M990.1 2261.0h0M1058.7 2277.5h0M989.8 2339.1h0M1039.8 2368.9h0M950.4 2270.6h0M999.8 2310.3h0M981.5 2370.3h0M949.7 2285.2h0M1000.3 2234.5h0M1049.8 2342.5h0M1033.2 2237.2h0M949.8 2261.5h0M952.9 2335.3h0M991.6 2348.2h0M1088.2 2330.1h0M1049.8 2349.2h0M992.9 2295.4h0M1087.1 2292.2h0M986.7 2330.1h0M956.4 2326.6h0M1023.7 2256.9h0M1070.5 2275.4h0M1059.0 2323.3h0M1048.6 2322.2h0M1068.0 2299.5h0M1076.0 2252.8h0M980.6 2344.5h0M998.0 2296.2h0M968.3 2312.0h0M981.9 2327.7h0M1067.5 2286.4h0M1001.2 2232.1h0M1055.1 2323.5h0M970.4 2279.9h0M985.7 2328.3h0M1062.2 2252.8h0M992.8 2288.1h0M1054.0 2250.9h0M1065.8 2275.3h0M947.5 2315.2h0M962.5 2255.1h0M1042.8 2300.9h0M1056.8 2237.9h0M1062.1 2274.4h0M999.1 2365.7h0M1030.2 2341.8h0M945.7 2269.6h0M1073.8 2263.7h0M969.1 2300.7h0M996.4 2242.0h0M1085.1 2323.6h0M1049.9 2268.3h0M956.5 2351.0h0M1013.8 2261.4h0"/><path stroke="#3d28a8" stroke-width="2.2" d="M964.1 2319.2h0M958.6 2331.3h0M1056.4 2350.6h0M965.8 2259.6h0M964.1 2329.6h0M974.4 2352.7h0M1028.4 2305.6h0M1024.1 2253.9h0M988.5 2258.0h0M949.0 2279.0h0M999.1 2351.6h0M1020.5 2364.5h0M1055.1 2262.9h0M1006.7 2297.6h0M1068.9 2268.4h0M971.9 2265.5h0M1014.9 2352.5h0M1068.1 2266.9h0M946.3 2319.7h0M966.8 2318.5h0M941.8 2309.2h0M971.7 2245.5h0M1069.9 2249.8h0M993.9 2285.6h0M1009.7 2246.1h0M1045.9 2354.3h0M1018.5 2247.5h0M983.9 2340.8h0M964.6 2305.0h0M985.0 2322.6h0M1026.4 2376.7h0"/><path stroke="#b0a4ea" stroke-width="3.1" d="M1019.5 2304.9h0M1027.4 2271.5h0M1082.4 2285.2h0M1056.1 2255.6h0M1034.6 2344.1h0M1056.6 2328.4h0M993.9 2329.8h0M990.9 2358.1h0M952.6 2265.0h0M991.8 2335.5h0M947.3 2285.0h0M1064.1 2316.8h0M949.5 2341.0h0M1042.5 2348.6h0M1055.5 2336.8h0M986.9 2261.9h0M1017.2 2274.3h0M1035.0 2279.1h0M966.0 2319.0h0M1021.1 2247.4h0M966.8 2360.1h0M1075.9 2332.0h0M1084.4 2300.5h0M1035.3 2367.6h0M1024.8 2349.1h0M1053.6 2261.0h0M995.3 2281.7h0M957.0 2255.2h0M1006.6 2362.4h0M1039.3 2280.2h0M1009.6 2279.9h0M984.5 2285.6h0"/><path stroke="#6450cc" stroke-width="3.1" d="M1090.8 2322.7h0M970.3 2338.9h0M978.5 2295.1h0M1059.1 2258.2h0M1083.8 2286.0h0M971.2 2256.7h0M991.9 2254.5h0M1036.5 2367.3h0M1055.6 2362.7h0M1032.1 2343.9h0M1087.7 2308.5h0M949.0 2276.2h0M1011.2 2371.4h0M1067.3 2293.7h0M1056.1 2296.3h0M1053.1 2295.5h0M1040.4 2361.4h0M1081.0 2311.4h0M1014.7 2235.8h0M979.3 2246.3h0M1019.7 2378.5h0M1057.5 2308.1h0M1036.1 2290.1h0M1017.5 2233.2h0M1009.9 2254.9h0M1048.0 2286.8h0M991.6 2252.5h0M1080.4 2329.8h0M1013.8 2289.7h0M1021.9 2376.2h0"/><path stroke="#3d28a8" stroke-width="3.1" d="M1045.4 2321.3h0M1062.2 2348.7h0M972.4 2360.7h0M1038.0 2292.4h0M1000.8 2358.4h0M1030.4 2263.5h0M1013.5 2271.4h0"/></g>
<circle cx="1016.2" cy="2301.2" r="77.8" fill="none" stroke="#2b2b2b" stroke-width="2.3"/>
<circle cx="1179.7" cy="2301.2" r="77.8" fill="url(#rg11)"/>
<g clip-path="url(#cp11)" fill="none" stroke-linecap="round"><path stroke="#b8aeee" stroke-width="1.5" d="M1132.4 2272.3h0M1196.2 2241.7h0M1181.4 2335.1h0M1150.9 2254.3h0M1185.3 2344.5h0M1223.4 2238.8h0M1180.3 2327.9h0M1156.4 2313.9h0M1204.3 2299.5h0M1147.1 2361.3h0M1219.1 2257.3h0M1210.3 2233.7h0M1121.6 2256.9h0M1173.7 2269.2h0M1200.9 2372.6h0M1227.9 2320.5h0M1168.9 2293.2h0M1242.1 2280.9h0M1171.5 2352.8h0M1106.0 2323.9h0M1190.9 2259.4h0M1199.8 2362.3h0M1137.9 2359.8h0M1186.3 2243.9h0M1190.3 2257.4h0M1247.2 2266.0h0M1152.5 2299.4h0M1127.5 2323.1h0M1174.1 2263.5h0M1160.2 2255.9h0M1210.3 2315.7h0M1184.6 2248.5h0M1216.1 2247.2h0M1124.3 2338.7h0M1239.4 2329.6h0M1147.6 2324.1h0"/><path stroke="#6a58d0" stroke-width="1.5" d="M1175.8 2267.4h0M1204.9 2228.8h0M1159.4 2289.6h0M1194.6 2297.6h0M1219.6 2344.5h0M1243.1 2286.1h0M1206.9 2257.3h0M1219.0 2304.0h0M1219.9 2268.7h0M1118.2 2303.6h0M1182.1 2240.3h0M1143.6 2295.1h0M1157.7 2350.2h0M1145.8 2269.5h0M1210.1 2348.9h0"/><path stroke="#3a26a0" stroke-width="1.5" d="M1242.0 2276.7h0M1208.1 2307.6h0M1173.1 2247.6h0M1194.2 2246.1h0M1150.0 2368.9h0M1241.6 2343.4h0"/><path stroke="#b8aeee" stroke-width="2.2" d="M1188.3 2279.4h0M1210.4 2304.1h0M1124.5 2341.1h0M1165.3 2285.9h0M1210.2 2363.6h0M1197.3 2265.9h0M1214.6 2254.6h0M1125.1 2349.7h0M1231.5 2309.3h0M1207.6 2309.7h0M1171.8 2302.6h0M1156.7 2334.7h0M1106.1 2318.3h0M1244.1 2328.6h0M1197.6 2357.3h0M1195.2 2254.5h0M1238.9 2327.2h0M1231.1 2355.6h0M1184.6 2335.1h0M1117.2 2334.8h0M1122.2 2295.8h0M1129.2 2325.0h0M1221.6 2251.1h0M1186.7 2236.7h0M1214.9 2288.4h0M1122.4 2274.4h0"/><path stroke="#6a58d0" stroke-width="2.2" d="M1254.9 2284.3h0M1208.0 2258.0h0M1257.4 2299.1h0M1137.2 2237.0h0M1134.3 2342.6h0M1129.0 2344.0h0M1151.0 2301.8h0M1249.9 2319.9h0M1207.2 2241.1h0M1170.5 2246.1h0M1118.2 2292.3h0M1187.5 2372.8h0M1182.5 2245.9h0M1213.3 2280.3h0M1174.8 2307.5h0M1131.0 2240.6h0M1255.9 2312.2h0"/><path stroke="#3a26a0" stroke-width="2.2" d="M1159.2 2295.1h0M1160.5 2237.2h0M1114.7 2302.3h0M1148.3 2315.8h0M1145.0 2250.1h0M1152.8 2309.3h0M1147.8 2330.7h0M1154.4 2312.4h0M1189.2 2333.2h0"/><path stroke="#b8aeee" stroke-width="3.0" d="M1131.0 2282.0h0M1106.8 2315.1h0M1134.3 2314.9h0M1104.1 2304.7h0M1200.7 2272.6h0M1239.3 2311.7h0M1216.0 2300.8h0M1234.3 2267.2h0"/><path stroke="#6a58d0" stroke-width="3.0" d="M1168.3 2321.1h0M1151.6 2323.2h0M1161.4 2258.8h0M1192.4 2252.6h0M1165.6 2284.3h0M1196.6 2331.8h0M1242.9 2339.8h0M1136.3 2281.2h0M1118.6 2289.7h0M1235.1 2306.6h0M1119.5 2299.6h0M1121.5 2340.4h0"/><path stroke="#3a26a0" stroke-width="3.0" d="M1208.8 2280.1h0"/></g>
<circle cx="1179.7" cy="2301.2" r="77.8" fill="none" stroke="#2b2b2b" stroke-width="2.3"/>
<circle cx="1343.7" cy="2301.3" r="78.3" fill="#fefeff"/>
<g clip-path="url(#cp12)" fill="none" stroke-linecap="round"><path stroke="#aa9ee8" stroke-width="1.5" d="M1313.7 2243.6h0M1326.4 2305.8h0M1372.2 2286.6h0M1401.4 2265.7h0M1306.2 2358.9h0M1358.4 2365.4h0M1357.6 2245.8h0M1326.1 2260.4h0M1308.2 2343.8h0M1307.9 2291.1h0M1377.7 2362.9h0M1369.9 2276.6h0M1359.4 2341.0h0M1393.0 2353.4h0M1365.0 2309.2h0M1377.1 2284.6h0M1416.3 2296.5h0M1283.4 2287.5h0M1328.1 2333.1h0M1366.3 2266.3h0M1280.8 2335.5h0M1391.4 2317.4h0M1269.3 2287.9h0M1380.2 2322.0h0M1281.5 2328.8h0M1280.6 2309.3h0M1305.6 2278.1h0M1368.5 2271.2h0M1386.2 2353.2h0M1418.6 2300.6h0M1397.8 2302.7h0M1314.5 2368.4h0M1374.1 2360.0h0M1310.9 2343.3h0M1320.9 2313.2h0M1338.6 2230.8h0M1275.7 2285.9h0M1288.5 2247.6h0M1303.1 2355.6h0M1310.7 2301.9h0M1315.1 2311.6h0M1359.4 2251.3h0M1403.7 2323.6h0M1309.9 2256.5h0M1314.3 2239.5h0M1358.0 2276.2h0M1371.7 2269.8h0M1283.0 2292.5h0M1332.6 2366.7h0M1310.8 2262.3h0M1399.9 2262.5h0M1354.7 2292.8h0M1317.0 2263.9h0M1375.3 2361.1h0M1318.9 2242.2h0M1358.0 2374.6h0M1381.1 2295.8h0M1312.1 2367.3h0M1336.7 2353.1h0M1288.6 2248.4h0M1324.5 2279.6h0M1340.0 2229.2h0M1337.9 2344.5h0M1290.7 2319.7h0M1346.8 2371.6h0M1285.6 2338.7h0M1336.6 2282.3h0M1336.4 2375.6h0M1360.5 2303.7h0M1277.0 2265.9h0M1383.8 2343.8h0M1311.5 2327.2h0M1335.8 2341.4h0M1418.7 2314.8h0M1414.1 2327.2h0M1351.8 2345.7h0M1391.8 2246.8h0M1328.6 2240.0h0M1370.4 2344.4h0M1350.8 2331.0h0M1273.0 2331.2h0M1344.7 2372.0h0M1371.5 2265.7h0M1355.1 2245.4h0M1284.1 2260.8h0M1357.1 2227.7h0M1306.7 2368.8h0M1389.3 2281.6h0M1369.4 2282.3h0M1353.3 2370.2h0M1396.8 2326.6h0M1309.8 2240.9h0M1384.4 2331.8h0M1382.7 2261.7h0M1342.5 2329.6h0M1393.2 2264.0h0M1394.3 2272.3h0M1320.4 2240.9h0M1359.2 2317.5h0M1321.5 2314.8h0M1374.4 2239.1h0M1399.1 2311.1h0M1375.9 2343.0h0M1352.8 2362.0h0M1305.8 2272.4h0M1305.6 2352.8h0M1349.3 2374.2h0M1380.7 2284.7h0M1410.9 2262.5h0M1373.4 2347.3h0M1324.9 2303.0h0M1388.5 2320.7h0M1385.3 2333.4h0M1327.6 2233.2h0M1341.9 2261.8h0M1400.2 2316.9h0M1325.9 2349.8h0M1289.9 2333.8h0M1327.6 2364.3h0M1368.2 2270.9h0M1352.4 2262.9h0M1310.0 2367.2h0M1312.3 2258.5h0M1398.6 2321.5h0M1406.5 2335.5h0M1285.2 2341.6h0M1384.0 2299.8h0M1286.2 2277.8h0M1362.0 2359.5h0M1302.5 2241.3h0M1385.0 2309.4h0M1274.0 2328.2h0M1336.0 2363.0h0M1343.0 2299.8h0M1357.8 2227.4h0M1401.5 2287.5h0M1279.4 2312.9h0M1268.2 2293.9h0M1419.9 2316.3h0M1372.7 2292.4h0M1401.3 2308.0h0M1292.1 2343.7h0M1369.1 2249.2h0M1294.8 2281.0h0M1341.4 2267.7h0M1341.7 2238.4h0M1294.7 2277.3h0M1380.2 2259.2h0M1371.7 2272.3h0M1345.7 2331.2h0M1377.1 2321.6h0M1278.7 2281.5h0M1322.6 2354.1h0M1341.6 2226.4h0M1351.9 2288.4h0M1302.6 2336.9h0M1323.5 2353.3h0M1336.6 2306.7h0M1404.6 2287.9h0M1314.6 2366.3h0M1321.8 2352.7h0M1406.3 2334.6h0M1325.3 2311.3h0M1279.0 2293.3h0M1347.9 2355.5h0M1294.0 2319.9h0M1295.4 2312.8h0M1306.5 2264.4h0M1352.8 2373.6h0M1396.4 2357.6h0M1356.4 2346.5h0M1373.7 2232.4h0M1402.3 2302.9h0M1362.1 2304.7h0M1362.3 2369.8h0M1300.4 2274.8h0M1394.9 2339.2h0"/><path stroke="#5a46c4" stroke-width="1.5" d="M1351.7 2284.1h0M1417.2 2275.7h0M1303.7 2235.1h0M1349.5 2289.5h0M1319.8 2293.6h0M1341.2 2316.1h0M1298.0 2246.4h0M1282.8 2267.7h0M1281.8 2275.3h0M1302.2 2261.3h0M1292.1 2341.7h0M1293.4 2357.9h0M1335.0 2347.5h0M1307.4 2335.6h0M1375.3 2235.3h0M1347.9 2309.1h0M1286.8 2256.1h0M1296.0 2341.5h0M1344.9 2310.0h0M1347.0 2230.2h0M1306.7 2269.8h0M1341.3 2224.9h0M1289.9 2315.1h0M1321.7 2373.9h0M1307.8 2232.2h0M1285.9 2325.9h0M1405.4 2297.6h0M1415.6 2291.3h0M1304.9 2349.4h0M1289.3 2266.6h0M1373.3 2344.5h0M1279.3 2294.5h0M1389.0 2360.7h0M1336.5 2261.8h0M1406.4 2281.5h0M1354.6 2226.2h0M1356.5 2318.1h0M1313.4 2280.1h0M1306.9 2263.6h0M1361.8 2295.2h0M1409.8 2295.6h0M1401.4 2286.2h0M1304.6 2250.2h0M1328.0 2228.9h0M1284.3 2322.2h0M1334.6 2348.5h0M1387.0 2263.3h0M1420.7 2311.8h0M1390.7 2340.2h0M1339.0 2370.8h0M1411.2 2267.3h0M1324.3 2250.6h0M1318.0 2227.4h0M1318.4 2368.0h0M1340.4 2250.8h0M1379.7 2368.9h0M1361.1 2323.5h0M1292.8 2316.7h0M1361.1 2258.3h0M1339.7 2244.7h0M1380.6 2270.6h0M1305.9 2233.0h0M1332.6 2236.7h0M1336.0 2267.0h0M1378.5 2318.2h0M1291.6 2327.4h0M1386.8 2311.3h0M1336.3 2311.1h0M1371.2 2262.9h0M1328.0 2320.3h0M1365.0 2242.8h0M1287.1 2344.6h0M1316.3 2289.9h0M1317.2 2300.6h0M1368.3 2240.2h0M1406.3 2298.9h0M1273.4 2267.7h0M1325.0 2302.7h0M1307.4 2331.2h0M1378.1 2343.7h0M1341.8 2296.8h0M1387.0 2301.8h0M1353.4 2226.6h0M1376.2 2256.3h0M1343.0 2318.2h0M1337.2 2321.1h0M1351.5 2256.8h0M1350.4 2252.4h0M1325.6 2370.6h0M1331.2 2317.0h0M1277.9 2292.5h0M1317.0 2269.2h0M1371.8 2318.8h0M1392.1 2248.0h0M1304.7 2296.9h0M1369.1 2276.9h0M1376.6 2352.3h0M1339.0 2223.2h0M1338.2 2249.1h0M1304.7 2336.2h0M1358.2 2351.6h0M1322.9 2279.6h0M1291.1 2347.0h0M1335.2 2226.1h0M1373.9 2243.8h0M1382.7 2319.3h0M1310.0 2312.5h0M1377.6 2292.0h0M1301.1 2330.4h0M1273.0 2320.5h0M1338.1 2374.9h0M1318.3 2294.5h0M1365.8 2339.8h0M1400.0 2275.7h0M1392.4 2362.1h0M1271.5 2276.4h0M1271.1 2322.2h0M1378.7 2340.9h0M1309.6 2321.4h0M1298.9 2260.8h0M1419.3 2319.9h0M1315.7 2267.8h0M1395.8 2314.7h0M1350.3 2297.2h0M1269.1 2306.9h0M1389.2 2342.9h0M1304.6 2347.4h0M1400.2 2334.5h0M1317.9 2374.1h0M1338.6 2357.2h0M1355.6 2372.6h0M1382.5 2331.8h0M1353.4 2318.1h0M1335.7 2332.5h0M1300.6 2323.2h0M1312.0 2291.1h0M1383.8 2326.0h0M1304.9 2281.5h0M1272.3 2311.3h0M1279.4 2328.4h0M1415.6 2308.0h0M1343.4 2363.4h0M1351.5 2321.7h0M1413.3 2292.1h0M1399.6 2301.4h0M1404.0 2333.0h0M1271.1 2303.0h0M1344.9 2273.7h0M1399.4 2303.5h0M1342.9 2278.7h0M1372.9 2373.9h0M1389.5 2282.5h0M1405.4 2312.6h0M1323.7 2248.7h0M1315.9 2305.0h0M1379.6 2353.6h0M1346.1 2369.3h0M1295.4 2329.3h0M1402.2 2293.6h0M1289.0 2300.8h0M1304.6 2308.9h0M1273.8 2266.6h0M1346.6 2230.4h0M1384.2 2235.3h0M1355.8 2267.0h0M1403.1 2343.1h0M1382.6 2246.6h0M1357.5 2294.3h0M1403.9 2274.4h0M1353.0 2355.0h0M1312.1 2343.0h0M1337.6 2285.4h0M1397.4 2266.6h0M1382.0 2339.3h0M1303.1 2283.2h0M1376.6 2234.2h0M1408.8 2342.3h0M1375.9 2291.6h0M1342.2 2313.9h0M1382.3 2260.3h0M1339.9 2280.6h0M1295.6 2341.4h0M1284.6 2318.2h0M1331.4 2240.6h0"/><path stroke="#34209a" stroke-width="1.5" d="M1337.9 2307.1h0M1315.9 2312.3h0M1405.7 2322.0h0M1310.6 2317.6h0M1395.9 2287.5h0M1398.6 2309.6h0M1305.9 2262.6h0M1382.5 2364.3h0M1321.4 2240.5h0M1346.5 2352.0h0M1267.3 2290.3h0M1395.3 2339.4h0M1367.3 2337.7h0M1305.7 2328.8h0M1268.4 2285.6h0M1358.0 2224.4h0M1360.6 2312.6h0M1320.4 2278.2h0M1286.3 2329.8h0M1352.3 2327.7h0M1354.1 2322.0h0M1417.7 2313.2h0M1370.4 2315.9h0M1395.2 2296.4h0M1392.8 2258.2h0M1330.1 2271.2h0M1354.0 2296.3h0M1371.1 2280.2h0M1289.5 2253.7h0M1319.4 2308.4h0M1322.6 2290.8h0M1340.8 2378.1h0M1308.9 2287.9h0M1333.2 2229.0h0M1367.8 2244.2h0M1279.1 2288.3h0M1407.7 2336.2h0M1407.9 2328.6h0M1359.6 2289.3h0M1375.3 2259.3h0M1359.3 2237.0h0M1321.7 2283.7h0M1286.4 2278.0h0M1382.7 2356.6h0M1328.6 2269.2h0M1398.1 2335.5h0M1352.7 2373.5h0M1277.6 2275.3h0M1314.0 2277.9h0M1371.8 2336.8h0M1268.7 2316.8h0M1362.5 2364.2h0M1313.3 2248.9h0M1334.1 2362.9h0M1303.2 2365.0h0M1346.7 2247.4h0M1340.5 2334.1h0M1273.8 2278.2h0M1340.3 2365.4h0M1317.2 2287.0h0M1326.5 2367.3h0M1397.4 2320.4h0M1339.8 2353.5h0M1370.8 2266.5h0M1354.0 2344.4h0M1349.5 2362.3h0M1381.9 2278.1h0M1357.5 2355.8h0M1316.0 2335.9h0M1362.8 2308.5h0M1346.8 2283.2h0M1345.8 2264.7h0M1399.0 2333.8h0M1294.7 2303.8h0M1312.4 2244.1h0M1369.9 2295.7h0M1309.7 2370.5h0M1390.9 2280.2h0M1343.1 2227.9h0M1304.1 2264.7h0M1315.4 2354.4h0M1348.3 2235.8h0M1343.0 2376.1h0M1400.3 2262.1h0M1351.9 2292.8h0M1371.7 2254.2h0M1301.0 2240.2h0M1284.5 2312.5h0M1417.0 2274.5h0M1351.4 2322.5h0M1371.3 2314.3h0M1409.7 2264.4h0M1318.5 2320.2h0M1363.9 2255.8h0M1376.1 2280.2h0M1355.2 2242.1h0M1367.3 2237.4h0M1369.7 2323.2h0M1269.0 2322.5h0M1376.4 2335.8h0"/><path stroke="#aa9ee8" stroke-width="2.4" d="M1314.1 2256.2h0M1306.2 2326.9h0M1360.3 2291.5h0M1332.7 2327.9h0M1366.1 2348.4h0M1305.7 2353.5h0M1284.6 2337.6h0M1283.3 2332.8h0M1341.7 2276.3h0M1294.6 2296.4h0M1392.7 2361.1h0M1374.1 2240.6h0M1382.7 2351.0h0M1330.7 2343.1h0M1312.6 2230.1h0M1272.7 2285.0h0M1323.2 2319.6h0M1295.7 2252.5h0M1283.6 2310.2h0M1366.0 2281.0h0M1365.6 2365.1h0M1286.7 2335.4h0M1374.5 2295.1h0M1297.4 2279.7h0M1321.3 2352.4h0M1402.1 2305.6h0M1353.1 2357.3h0M1349.3 2256.8h0M1321.4 2265.3h0M1380.0 2323.8h0M1311.5 2371.8h0M1337.3 2318.3h0M1412.6 2322.7h0M1317.2 2302.0h0M1299.2 2303.8h0M1369.3 2251.3h0M1347.5 2252.9h0M1350.7 2223.6h0M1345.7 2249.2h0M1318.8 2274.8h0M1371.9 2232.1h0M1351.1 2302.8h0M1418.8 2297.2h0M1387.9 2357.5h0M1388.3 2251.5h0M1283.5 2347.1h0M1309.1 2319.8h0M1340.8 2225.1h0M1299.4 2283.4h0M1342.0 2243.8h0M1322.9 2324.7h0M1373.8 2367.0h0M1417.7 2287.6h0M1267.5 2312.8h0M1324.8 2369.1h0M1330.5 2242.2h0M1267.2 2284.9h0M1337.0 2326.8h0M1374.4 2347.5h0M1369.1 2298.9h0M1332.4 2319.8h0M1412.8 2271.3h0M1354.0 2272.0h0M1410.9 2279.5h0M1394.8 2311.7h0M1327.3 2274.5h0M1316.5 2242.8h0M1343.7 2377.4h0M1355.4 2240.3h0M1397.0 2295.7h0M1353.1 2342.5h0M1312.5 2242.1h0M1281.6 2310.6h0M1396.4 2269.2h0M1277.5 2273.3h0M1411.6 2291.6h0M1357.2 2266.4h0M1302.4 2364.2h0M1411.0 2312.8h0M1394.4 2294.9h0M1419.8 2312.8h0M1312.7 2249.6h0M1379.4 2357.3h0M1345.8 2365.3h0M1319.4 2342.8h0M1380.2 2319.9h0M1337.1 2233.5h0M1322.7 2234.7h0M1332.3 2263.3h0M1413.6 2277.6h0M1368.5 2372.4h0M1356.1 2237.9h0M1304.7 2302.3h0M1346.8 2299.5h0M1387.8 2283.7h0M1331.3 2308.9h0M1399.6 2343.2h0M1361.2 2252.6h0M1406.3 2275.6h0M1333.8 2308.0h0M1338.3 2282.5h0M1346.3 2290.8h0M1365.7 2353.0h0M1392.3 2269.4h0M1338.4 2310.3h0M1359.7 2232.7h0M1356.3 2365.5h0M1355.0 2344.2h0M1358.4 2227.6h0M1382.6 2364.9h0M1318.8 2231.8h0M1410.9 2267.7h0M1378.3 2255.5h0"/><path stroke="#5a46c4" stroke-width="2.4" d="M1291.4 2262.6h0M1300.5 2325.5h0M1296.6 2297.9h0M1382.5 2287.0h0M1329.1 2260.0h0M1375.8 2283.4h0M1307.4 2292.5h0M1326.1 2279.8h0M1289.3 2319.5h0M1273.7 2299.0h0M1381.6 2281.5h0M1295.9 2268.5h0M1303.0 2253.8h0M1305.9 2295.1h0M1296.2 2258.8h0M1287.9 2285.5h0M1417.1 2312.6h0M1387.6 2254.1h0M1330.8 2363.6h0M1320.7 2346.2h0M1383.9 2283.0h0M1314.0 2315.1h0M1268.4 2294.5h0M1365.3 2292.5h0M1389.4 2276.7h0M1285.1 2348.1h0M1415.8 2284.6h0M1295.8 2333.9h0M1306.1 2305.7h0M1340.9 2370.8h0M1408.9 2303.6h0M1332.0 2362.7h0M1289.5 2325.5h0M1323.4 2319.6h0M1343.9 2303.7h0M1374.5 2361.9h0M1385.5 2274.9h0M1343.9 2241.8h0M1317.8 2308.3h0M1288.8 2262.0h0M1361.9 2262.1h0M1326.8 2278.6h0M1372.5 2324.1h0M1400.6 2260.0h0M1391.4 2278.1h0M1379.3 2272.8h0M1343.1 2357.1h0M1363.1 2242.3h0M1405.3 2305.3h0M1342.4 2347.4h0M1271.2 2274.9h0M1363.8 2317.7h0M1310.4 2256.4h0M1354.3 2306.3h0M1344.2 2256.7h0M1337.0 2326.6h0M1351.7 2262.4h0M1275.9 2335.3h0M1346.4 2244.4h0M1341.3 2339.5h0M1377.1 2266.4h0M1303.8 2314.5h0M1366.2 2344.1h0M1365.7 2336.4h0M1322.6 2269.4h0M1409.8 2329.6h0M1300.2 2356.0h0M1329.3 2236.0h0M1383.4 2252.5h0M1389.7 2276.3h0M1282.4 2262.6h0M1361.4 2260.6h0M1378.2 2271.9h0M1319.6 2338.6h0M1320.4 2313.1h0M1363.0 2366.8h0M1301.6 2328.6h0M1360.0 2323.1h0M1382.7 2247.5h0M1332.4 2231.7h0M1277.4 2325.6h0M1310.3 2331.8h0M1363.3 2317.4h0M1325.4 2360.0h0M1409.3 2319.8h0M1308.8 2266.1h0M1341.0 2232.8h0M1380.5 2318.4h0M1398.6 2347.5h0M1371.6 2275.1h0M1320.8 2369.1h0M1314.5 2276.8h0M1365.5 2232.6h0M1308.6 2337.7h0M1328.7 2251.5h0M1325.0 2374.9h0M1303.0 2302.7h0M1389.9 2306.4h0M1325.7 2288.6h0M1385.3 2355.5h0M1311.9 2335.6h0M1368.6 2254.1h0M1310.6 2264.1h0M1351.1 2375.2h0M1288.5 2279.0h0M1336.4 2241.2h0M1288.6 2331.7h0M1378.4 2335.9h0M1378.4 2242.0h0M1358.5 2365.8h0M1285.1 2295.9h0M1342.2 2261.9h0M1325.5 2296.3h0M1394.7 2268.9h0M1397.8 2320.8h0M1364.7 2328.0h0M1336.9 2316.9h0M1348.1 2244.3h0M1310.1 2264.6h0M1371.7 2297.5h0M1298.0 2335.3h0M1271.2 2293.5h0M1358.1 2243.5h0M1363.8 2264.1h0M1402.6 2256.9h0M1400.6 2275.4h0M1341.1 2344.9h0M1327.9 2248.1h0M1309.0 2301.4h0M1353.3 2315.6h0M1323.1 2310.7h0M1363.3 2290.5h0M1353.3 2345.8h0M1321.9 2234.4h0M1320.5 2278.5h0M1389.9 2288.4h0"/><path stroke="#34209a" stroke-width="2.4" d="M1391.4 2310.5h0M1284.4 2335.1h0M1312.9 2308.3h0M1301.2 2329.8h0M1333.3 2277.1h0M1376.6 2321.3h0M1309.8 2342.6h0M1295.5 2304.2h0M1350.9 2226.9h0M1368.0 2357.8h0M1291.3 2279.9h0M1342.3 2231.3h0M1317.1 2283.2h0M1377.8 2285.9h0M1323.7 2253.0h0M1369.6 2288.7h0M1394.8 2318.3h0M1291.2 2316.7h0M1299.5 2282.8h0M1353.3 2265.1h0M1320.4 2299.1h0M1391.8 2295.3h0M1373.4 2254.7h0M1366.3 2260.2h0M1302.2 2358.5h0M1385.9 2338.3h0M1278.3 2294.5h0M1359.8 2309.0h0M1416.8 2281.7h0M1340.4 2253.4h0M1346.8 2253.8h0M1370.0 2343.6h0M1343.5 2337.8h0M1351.7 2276.8h0M1274.5 2328.9h0M1362.5 2290.4h0M1363.5 2316.8h0M1344.2 2334.1h0M1338.9 2346.5h0M1403.6 2261.1h0M1349.5 2276.4h0M1369.8 2332.5h0M1314.5 2245.6h0M1336.3 2310.4h0M1401.6 2254.7h0M1316.3 2260.0h0M1331.1 2365.5h0M1375.3 2323.8h0M1397.5 2335.0h0M1310.3 2302.7h0M1351.9 2305.1h0M1290.9 2258.5h0M1295.3 2253.0h0M1371.7 2370.1h0M1278.1 2336.2h0M1313.8 2259.9h0M1355.5 2366.8h0M1334.0 2229.5h0M1346.1 2289.1h0M1339.4 2247.6h0M1397.1 2282.4h0M1342.4 2262.9h0M1311.3 2308.5h0M1404.6 2267.2h0M1329.8 2370.0h0M1401.1 2295.2h0M1373.3 2288.2h0M1306.0 2366.6h0M1405.1 2295.9h0M1338.9 2337.7h0M1369.4 2342.1h0M1362.1 2256.1h0M1397.7 2310.6h0M1332.2 2331.8h0M1355.0 2228.5h0M1383.6 2338.7h0M1359.6 2297.4h0M1381.8 2311.2h0M1288.8 2306.9h0M1370.5 2287.3h0M1290.1 2309.8h0M1319.1 2241.2h0"/><path stroke="#aa9ee8" stroke-width="3.8" d="M1325.8 2335.1h0M1377.8 2266.4h0M1342.1 2224.6h0M1317.0 2335.8h0M1391.6 2291.3h0M1304.6 2292.9h0M1400.5 2296.7h0M1314.6 2368.4h0M1369.3 2325.8h0M1277.1 2307.7h0M1374.6 2314.1h0M1398.1 2337.1h0M1323.4 2281.5h0M1389.0 2323.4h0M1308.8 2232.0h0M1344.9 2337.0h0M1383.7 2338.4h0M1386.6 2343.0h0M1285.6 2258.2h0M1355.8 2243.2h0M1411.6 2311.1h0M1309.3 2252.5h0M1339.7 2261.9h0M1374.1 2286.7h0M1311.2 2286.3h0M1371.0 2236.3h0M1351.6 2231.8h0M1399.6 2327.0h0M1338.8 2335.4h0M1287.5 2298.7h0M1339.9 2317.1h0M1415.0 2286.1h0M1376.4 2311.9h0M1281.0 2311.6h0M1377.1 2280.5h0M1369.1 2354.9h0M1398.8 2337.4h0M1380.1 2309.0h0M1340.7 2288.5h0M1278.7 2338.6h0M1304.0 2274.3h0M1273.2 2331.8h0M1376.8 2288.3h0M1348.6 2252.5h0M1389.3 2285.6h0M1312.1 2358.9h0M1358.9 2357.5h0M1364.0 2240.2h0M1320.2 2341.8h0M1372.6 2337.3h0M1352.6 2341.3h0M1350.3 2223.6h0M1363.0 2278.8h0M1390.0 2362.0h0M1381.2 2340.1h0"/><path stroke="#5a46c4" stroke-width="3.8" d="M1326.0 2344.3h0M1310.4 2246.4h0M1328.1 2369.7h0M1331.9 2366.4h0M1317.2 2233.9h0M1351.1 2223.9h0M1269.6 2321.1h0M1377.8 2293.2h0M1378.4 2348.2h0M1281.1 2308.5h0M1313.6 2289.5h0M1351.4 2299.4h0M1324.6 2351.0h0M1309.1 2288.0h0M1375.2 2350.8h0M1406.1 2254.8h0M1372.5 2352.1h0M1345.1 2303.4h0M1324.4 2241.4h0M1351.4 2289.3h0M1313.4 2341.5h0M1323.2 2258.9h0M1296.8 2286.1h0M1374.5 2255.0h0M1357.6 2282.2h0M1383.4 2249.8h0M1360.5 2365.7h0M1324.9 2316.0h0M1310.2 2335.1h0M1380.9 2305.0h0M1335.1 2333.9h0M1342.4 2262.6h0M1384.3 2250.3h0M1282.5 2274.2h0M1344.8 2370.7h0M1388.3 2296.9h0M1344.8 2375.8h0M1287.4 2299.6h0M1377.0 2363.8h0M1327.1 2241.4h0M1400.4 2334.2h0M1364.6 2239.9h0M1302.3 2234.9h0M1381.7 2286.3h0M1337.5 2330.3h0M1381.5 2336.8h0M1320.3 2276.8h0M1304.0 2367.9h0M1392.8 2327.6h0M1300.8 2338.9h0M1328.5 2244.6h0M1313.7 2319.4h0M1276.5 2328.8h0M1390.3 2301.9h0M1391.0 2272.6h0M1320.2 2240.8h0M1337.4 2264.3h0M1282.3 2291.5h0M1328.5 2232.7h0M1344.7 2266.2h0"/><path stroke="#34209a" stroke-width="3.8" d="M1332.2 2290.6h0M1302.2 2259.9h0M1365.7 2230.2h0M1305.8 2311.1h0M1371.9 2334.2h0M1386.5 2308.0h0M1347.8 2330.9h0M1385.5 2315.3h0M1325.0 2234.9h0M1339.4 2332.6h0M1320.9 2251.1h0M1404.2 2337.9h0M1394.9 2339.3h0M1362.2 2268.1h0M1308.0 2343.1h0M1398.0 2317.8h0M1297.3 2243.8h0M1371.2 2307.8h0M1347.2 2353.5h0M1374.8 2240.1h0M1344.0 2231.1h0M1408.3 2291.1h0M1284.7 2252.5h0M1295.3 2321.5h0M1332.4 2265.5h0M1385.4 2357.6h0M1286.2 2350.1h0M1349.2 2308.1h0M1336.7 2269.3h0M1357.3 2311.1h0M1373.9 2312.2h0M1389.7 2354.7h0M1305.5 2316.2h0M1351.8 2259.5h0M1394.2 2261.6h0M1359.4 2350.6h0M1307.0 2236.5h0M1419.6 2296.4h0M1356.2 2247.8h0M1387.1 2361.8h0M1287.3 2314.0h0M1323.3 2318.5h0M1346.6 2334.2h0"/></g>
<circle cx="1343.7" cy="2301.3" r="78.3" fill="none" stroke="#2b2b2b" stroke-width="2.3"/>
<text x="643" y="1995" font-size="23.8" text-anchor="middle" transform="rotate(-90 643 1995)" stroke="#000" stroke-width="0.35">Relative fold change</text>
<rect x="704.3" y="2027.9" width="28.3" height="48.1" fill="#6b97c3"/>
<rect x="746.7" y="1934.4" width="28.3" height="141.6" fill="#c45b5d"/>
<rect x="789.2" y="2073.4" width="28.3" height="2.6" fill="#e5b887"/>
<line x1="718.45" y1="2023.2" x2="718.45" y2="2032.5" stroke="#000" stroke-width="2.3"/>
<line x1="714.25" y1="2023.2" x2="722.65" y2="2023.2" stroke="#000" stroke-width="2.3"/>
<line x1="714.25" y1="2032.5" x2="722.65" y2="2032.5" stroke="#000" stroke-width="2.3"/>
<line x1="760.85" y1="1926.7" x2="760.85" y2="1941.6" stroke="#000" stroke-width="2.3"/>
<line x1="756.65" y1="1926.7" x2="765.05" y2="1926.7" stroke="#000" stroke-width="2.3"/>
<line x1="756.65" y1="1941.6" x2="765.05" y2="1941.6" stroke="#000" stroke-width="2.3"/>
<line x1="803.35" y1="2071.5" x2="803.35" y2="2075.5" stroke="#000" stroke-width="2.3"/>
<line x1="799.15" y1="2071.5" x2="807.55" y2="2071.5" stroke="#000" stroke-width="2.3"/>
<line x1="799.15" y1="2075.5" x2="807.55" y2="2075.5" stroke="#000" stroke-width="2.3"/>
<text x="756.15" y="1926.03" font-size="27" text-anchor="middle" fill="#1a1a1a" stroke="#1a1a1a" stroke-width="0.45">*</text>
<text x="768.45" y="1926.03" font-size="27" text-anchor="middle" fill="#1a1a1a" stroke="#1a1a1a" stroke-width="0.45">*</text>
<text x="795.35" y="2070.13" font-size="27" text-anchor="middle" fill="#1a1a1a" stroke="#1a1a1a" stroke-width="0.45">*</text>
<text x="807.65" y="2070.13" font-size="27" text-anchor="middle" fill="#1a1a1a" stroke="#1a1a1a" stroke-width="0.45">*</text>
<line x1="696.8" y1="1904.15" x2="696.8" y2="2077.45" stroke="#000" stroke-width="2.9"/>
<line x1="692.3" y1="1905.6" x2="696.8" y2="1905.6" stroke="#000" stroke-width="2.9"/>
<text x="685.8" y="1913.9" font-size="23.5" text-anchor="end" stroke="#000" stroke-width="0.35">3.5</text>
<line x1="692.3" y1="1939.68" x2="696.8" y2="1939.68" stroke="#000" stroke-width="2.9"/>
<text x="685.8" y="1947.98" font-size="23.5" text-anchor="end" stroke="#000" stroke-width="0.35">2.8</text>
<line x1="692.3" y1="1973.76" x2="696.8" y2="1973.76" stroke="#000" stroke-width="2.9"/>
<text x="685.8" y="1982.06" font-size="23.5" text-anchor="end" stroke="#000" stroke-width="0.35">2.1</text>
<line x1="692.3" y1="2007.84" x2="696.8" y2="2007.84" stroke="#000" stroke-width="2.9"/>
<text x="685.8" y="2016.14" font-size="23.5" text-anchor="end" stroke="#000" stroke-width="0.35">1.4</text>
<line x1="692.3" y1="2041.92" x2="696.8" y2="2041.92" stroke="#000" stroke-width="2.9"/>
<text x="685.8" y="2050.22" font-size="23.5" text-anchor="end" stroke="#000" stroke-width="0.35">0.7</text>
<line x1="692.3" y1="2076" x2="696.8" y2="2076" stroke="#000" stroke-width="2.9"/>
<text x="685.8" y="2084.3" font-size="23.5" text-anchor="end" stroke="#000" stroke-width="0.35">0.0</text>
<line x1="695.35" y1="2076" x2="824.7" y2="2076" stroke="#000" stroke-width="2.9"/>
<text x="733" y="2097" font-size="24" text-anchor="end" transform="rotate(-45 733 2097)" stroke="#000" stroke-width="0.35">Vextor</text>
<text x="771.5" y="2098" font-size="24" text-anchor="end" transform="rotate(-45 771.5 2098)" stroke="#000" stroke-width="0.35">MTA1</text>
<text x="810.5" y="2098" font-size="24" text-anchor="end" transform="rotate(-45 810.5 2098)" stroke="#000" stroke-width="0.35">MTA3</text>
<text x="1452" y="2002" font-size="23.8" text-anchor="middle" transform="rotate(-90 1452 2002)" stroke="#000" stroke-width="0.35">Relative fold change</text>
<rect x="1513.2" y="1966.3" width="27.6" height="110.8" fill="#6b97c3"/>
<rect x="1554.8" y="2073.3" width="27.6" height="3.8" fill="#c45b5d"/>
<rect x="1596.7" y="1936.6" width="27.9" height="140.5" fill="#e5b887"/>
<line x1="1527" y1="1958.9" x2="1527" y2="1972.8" stroke="#000" stroke-width="2.3"/>
<line x1="1522.8" y1="1958.9" x2="1531.2" y2="1958.9" stroke="#000" stroke-width="2.3"/>
<line x1="1522.8" y1="1972.8" x2="1531.2" y2="1972.8" stroke="#000" stroke-width="2.3"/>
<line x1="1568.6" y1="2070.5" x2="1568.6" y2="2075" stroke="#000" stroke-width="2.3"/>
<line x1="1564.4" y1="2070.5" x2="1572.8" y2="2070.5" stroke="#000" stroke-width="2.3"/>
<line x1="1564.4" y1="2075" x2="1572.8" y2="2075" stroke="#000" stroke-width="2.3"/>
<line x1="1610.65" y1="1929.2" x2="1610.65" y2="1944" stroke="#000" stroke-width="2.3"/>
<line x1="1606.45" y1="1929.2" x2="1614.85" y2="1929.2" stroke="#000" stroke-width="2.3"/>
<line x1="1606.45" y1="1944" x2="1614.85" y2="1944" stroke="#000" stroke-width="2.3"/>
<text x="1564.35" y="2071.13" font-size="27" text-anchor="middle" fill="#1a1a1a" stroke="#1a1a1a" stroke-width="0.45">*</text>
<text x="1576.65" y="2071.13" font-size="27" text-anchor="middle" fill="#1a1a1a" stroke="#1a1a1a" stroke-width="0.45">*</text>
<text x="1610.6" y="1922.53" font-size="27" text-anchor="middle" fill="#1a1a1a" stroke="#1a1a1a" stroke-width="0.45">*</text>
<line x1="1506.7" y1="1904.55" x2="1506.7" y2="2078.55" stroke="#000" stroke-width="2.9"/>
<line x1="1502.2" y1="1906" x2="1506.7" y2="1906" stroke="#000" stroke-width="2.9"/>
<text x="1493.9" y="1914.3" font-size="23.5" text-anchor="end" stroke="#000" stroke-width="0.35">1.5</text>
<line x1="1502.2" y1="1940.22" x2="1506.7" y2="1940.22" stroke="#000" stroke-width="2.9"/>
<text x="1493.9" y="1948.52" font-size="23.5" text-anchor="end" stroke="#000" stroke-width="0.35">1.2</text>
<line x1="1502.2" y1="1974.44" x2="1506.7" y2="1974.44" stroke="#000" stroke-width="2.9"/>
<text x="1493.9" y="1982.74" font-size="23.5" text-anchor="end" stroke="#000" stroke-width="0.35">0.9</text>
<line x1="1502.2" y1="2008.66" x2="1506.7" y2="2008.66" stroke="#000" stroke-width="2.9"/>
<text x="1493.9" y="2016.96" font-size="23.5" text-anchor="end" stroke="#000" stroke-width="0.35">0.6</text>
<line x1="1502.2" y1="2042.88" x2="1506.7" y2="2042.88" stroke="#000" stroke-width="2.9"/>
<text x="1493.9" y="2051.18" font-size="23.5" text-anchor="end" stroke="#000" stroke-width="0.35">0.3</text>
<line x1="1502.2" y1="2077.1" x2="1506.7" y2="2077.1" stroke="#000" stroke-width="2.9"/>
<text x="1493.9" y="2085.4" font-size="23.5" text-anchor="end" stroke="#000" stroke-width="0.35">0.0</text>
<line x1="1505.25" y1="2077.1" x2="1631.5" y2="2077.1" stroke="#000" stroke-width="2.9"/>
<text x="1543.5" y="2100.5" font-size="24" text-anchor="end" transform="rotate(-45 1543.5 2100.5)" stroke="#000" stroke-width="0.35">shSCR</text>
<text x="1580" y="2099" font-size="24" text-anchor="end" transform="rotate(-45 1580 2099)" stroke="#000" stroke-width="0.35">shMTA1</text>
<text x="1620" y="2096" font-size="24" text-anchor="end" transform="rotate(-45 1620 2096)" stroke="#000" stroke-width="0.35">shMTA3</text>
<text x="642" y="2259.6" font-size="23.8" text-anchor="middle" transform="rotate(-90 642 2259.6)" stroke="#000" stroke-width="0.35">Relative fold change</text>
<rect x="702.5" y="2276.2" width="27.8" height="66.4" fill="#6b97c3"/>
<rect x="744.2" y="2217.8" width="27" height="124.8" fill="#c45b5d"/>
<rect x="784.8" y="2329.7" width="27" height="12.9" fill="#e5b887"/>
<line x1="716.4" y1="2273.5" x2="716.4" y2="2279" stroke="#000" stroke-width="2.3"/>
<line x1="712.2" y1="2273.5" x2="720.6" y2="2273.5" stroke="#000" stroke-width="2.3"/>
<line x1="712.2" y1="2279" x2="720.6" y2="2279" stroke="#000" stroke-width="2.3"/>
<line x1="757.7" y1="2212.1" x2="757.7" y2="2223.4" stroke="#000" stroke-width="2.3"/>
<line x1="753.5" y1="2212.1" x2="761.9" y2="2212.1" stroke="#000" stroke-width="2.3"/>
<line x1="753.5" y1="2223.4" x2="761.9" y2="2223.4" stroke="#000" stroke-width="2.3"/>
<line x1="798.3" y1="2326.4" x2="798.3" y2="2333.6" stroke="#000" stroke-width="2.3"/>
<line x1="794.1" y1="2326.4" x2="802.5" y2="2326.4" stroke="#000" stroke-width="2.3"/>
<line x1="794.1" y1="2333.6" x2="802.5" y2="2333.6" stroke="#000" stroke-width="2.3"/>
<text x="754.15" y="2215.83" font-size="27" text-anchor="middle" fill="#1a1a1a" stroke="#1a1a1a" stroke-width="0.45">*</text>
<text x="766.45" y="2215.83" font-size="27" text-anchor="middle" fill="#1a1a1a" stroke="#1a1a1a" stroke-width="0.45">*</text>
<text x="792.85" y="2326.53" font-size="27" text-anchor="middle" fill="#1a1a1a" stroke="#1a1a1a" stroke-width="0.45">*</text>
<text x="805.15" y="2326.53" font-size="27" text-anchor="middle" fill="#1a1a1a" stroke="#1a1a1a" stroke-width="0.45">*</text>
<line x1="696" y1="2173.35" x2="696" y2="2344.05" stroke="#000" stroke-width="2.9"/>
<line x1="691.5" y1="2174.8" x2="696" y2="2174.8" stroke="#000" stroke-width="2.9"/>
<text x="684" y="2183.1" font-size="23.5" text-anchor="end" stroke="#000" stroke-width="0.35">2.5</text>
<line x1="691.5" y1="2208.36" x2="696" y2="2208.36" stroke="#000" stroke-width="2.9"/>
<text x="684" y="2216.66" font-size="23.5" text-anchor="end" stroke="#000" stroke-width="0.35">2.0</text>
<line x1="691.5" y1="2241.92" x2="696" y2="2241.92" stroke="#000" stroke-width="2.9"/>
<text x="684" y="2250.22" font-size="23.5" text-anchor="end" stroke="#000" stroke-width="0.35">1.5</text>
<line x1="691.5" y1="2275.48" x2="696" y2="2275.48" stroke="#000" stroke-width="2.9"/>
<text x="684" y="2283.78" font-size="23.5" text-anchor="end" stroke="#000" stroke-width="0.35">1.0</text>
<line x1="691.5" y1="2309.04" x2="696" y2="2309.04" stroke="#000" stroke-width="2.9"/>
<text x="684" y="2317.34" font-size="23.5" text-anchor="end" stroke="#000" stroke-width="0.35">0.5</text>
<line x1="691.5" y1="2342.6" x2="696" y2="2342.6" stroke="#000" stroke-width="2.9"/>
<text x="684" y="2350.9" font-size="23.5" text-anchor="end" stroke="#000" stroke-width="0.35">0.0</text>
<line x1="694.55" y1="2342.6" x2="818.8" y2="2342.6" stroke="#000" stroke-width="2.9"/>
<text x="730" y="2363" font-size="24" text-anchor="end" transform="rotate(-45 730 2363)" stroke="#000" stroke-width="0.35">Vector</text>
<text x="770.5" y="2366" font-size="24" text-anchor="end" transform="rotate(-45 770.5 2366)" stroke="#000" stroke-width="0.35">MTA1</text>
<text x="809.5" y="2365" font-size="24" text-anchor="end" transform="rotate(-45 809.5 2365)" stroke="#000" stroke-width="0.35">MTA3</text>
<text x="1452" y="2260.4" font-size="23.8" text-anchor="middle" transform="rotate(-90 1452 2260.4)" stroke="#000" stroke-width="0.35">Relative fold change</text>
<rect x="1513.2" y="2279" width="26.8" height="64.5" fill="#6b97c3"/>
<rect x="1553.6" y="2323" width="26.8" height="20.5" fill="#c45b5d"/>
<rect x="1594.3" y="2214.5" width="26.7" height="129" fill="#e5b887"/>
<line x1="1526.6" y1="2276.6" x2="1526.6" y2="2281" stroke="#000" stroke-width="2.3"/>
<line x1="1522.4" y1="2276.6" x2="1530.8" y2="2276.6" stroke="#000" stroke-width="2.3"/>
<line x1="1522.4" y1="2281" x2="1530.8" y2="2281" stroke="#000" stroke-width="2.3"/>
<line x1="1567" y1="2320" x2="1567" y2="2325.6" stroke="#000" stroke-width="2.3"/>
<line x1="1562.8" y1="2320" x2="1571.2" y2="2320" stroke="#000" stroke-width="2.3"/>
<line x1="1562.8" y1="2325.6" x2="1571.2" y2="2325.6" stroke="#000" stroke-width="2.3"/>
<line x1="1607.65" y1="2208.6" x2="1607.65" y2="2220.4" stroke="#000" stroke-width="2.3"/>
<line x1="1603.45" y1="2208.6" x2="1611.85" y2="2208.6" stroke="#000" stroke-width="2.3"/>
<line x1="1603.45" y1="2220.4" x2="1611.85" y2="2220.4" stroke="#000" stroke-width="2.3"/>
<text x="1561.15" y="2311.03" font-size="27" text-anchor="middle" fill="#1a1a1a" stroke="#1a1a1a" stroke-width="0.45">*</text>
<text x="1573.45" y="2311.03" font-size="27" text-anchor="middle" fill="#1a1a1a" stroke="#1a1a1a" stroke-width="0.45">*</text>
<text x="1598.55" y="2207.03" font-size="27" text-anchor="middle" fill="#1a1a1a" stroke="#1a1a1a" stroke-width="0.45">*</text>
<text x="1610.85" y="2207.03" font-size="27" text-anchor="middle" fill="#1a1a1a" stroke="#1a1a1a" stroke-width="0.45">*</text>
<line x1="1506" y1="2177.95" x2="1506" y2="2344.95" stroke="#000" stroke-width="2.9"/>
<line x1="1501.5" y1="2179.4" x2="1506" y2="2179.4" stroke="#000" stroke-width="2.9"/>
<text x="1493.2" y="2187.7" font-size="23.5" text-anchor="end" stroke="#000" stroke-width="0.35">2.5</text>
<line x1="1501.5" y1="2212.22" x2="1506" y2="2212.22" stroke="#000" stroke-width="2.9"/>
<text x="1493.2" y="2220.52" font-size="23.5" text-anchor="end" stroke="#000" stroke-width="0.35">2.0</text>
<line x1="1501.5" y1="2245.04" x2="1506" y2="2245.04" stroke="#000" stroke-width="2.9"/>
<text x="1493.2" y="2253.34" font-size="23.5" text-anchor="end" stroke="#000" stroke-width="0.35">1.5</text>
<line x1="1501.5" y1="2277.86" x2="1506" y2="2277.86" stroke="#000" stroke-width="2.9"/>
<text x="1493.2" y="2286.16" font-size="23.5" text-anchor="end" stroke="#000" stroke-width="0.35">1.0</text>
<line x1="1501.5" y1="2310.68" x2="1506" y2="2310.68" stroke="#000" stroke-width="2.9"/>
<text x="1493.2" y="2318.98" font-size="23.5" text-anchor="end" stroke="#000" stroke-width="0.35">0.5</text>
<line x1="1501.5" y1="2343.5" x2="1506" y2="2343.5" stroke="#000" stroke-width="2.9"/>
<text x="1493.2" y="2351.8" font-size="23.5" text-anchor="end" stroke="#000" stroke-width="0.35">0.0</text>
<line x1="1504.55" y1="2343.5" x2="1627.9" y2="2343.5" stroke="#000" stroke-width="2.9"/>
<text x="1543.5" y="2366.5" font-size="24" text-anchor="end" transform="rotate(-45 1543.5 2366.5)" stroke="#000" stroke-width="0.35">shSCR</text>
<text x="1582" y="2365" font-size="24" text-anchor="end" transform="rotate(-45 1582 2365)" stroke="#000" stroke-width="0.35">shMTA1</text>
<text x="1622" y="2363" font-size="24" text-anchor="end" transform="rotate(-45 1622 2363)" stroke="#000" stroke-width="0.35">shMTA3</text>
</svg></body></html>
